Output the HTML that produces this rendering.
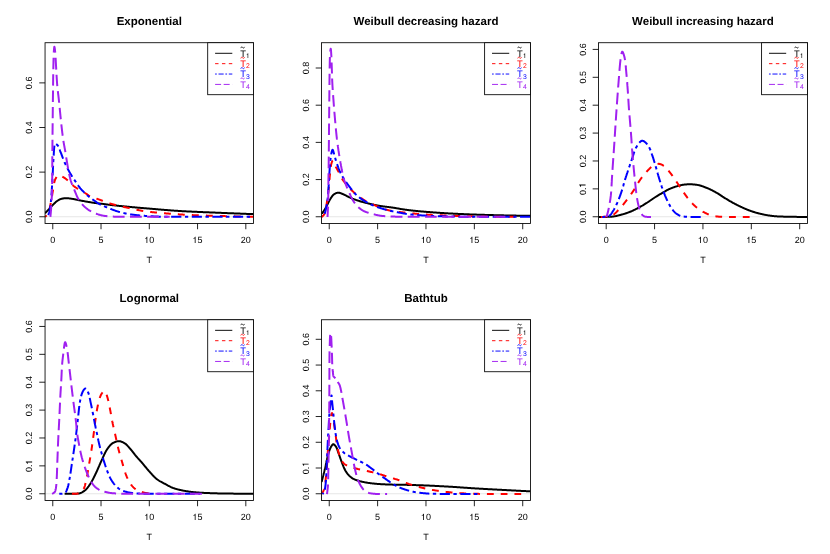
<!DOCTYPE html>
<html><head><meta charset="utf-8"><title>densities</title>
<style>html,body{margin:0;padding:0;background:#fff;}svg{display:block;will-change:transform;filter:blur(0.3px);}text{font-family:"Liberation Sans",sans-serif;fill:#000;text-rendering:geometricPrecision;}.ax{font-size:9.0px;}.tt{font-size:11.5px;font-weight:bold;}.sub{font-size:6.8px;}.lg{font-size:9.4px;}</style></head><body>
<svg width="830" height="554" viewBox="0 0 830 554">
<rect width="830" height="554" fill="#fff"/>
<g>
<clipPath id="cp1"><rect x="45.05" y="42.72" width="208.49" height="180.72"/></clipPath>
<line x1="45.05" y1="216.75" x2="253.54" y2="216.75" stroke="#e6e6e6" stroke-width="1"/>
<g clip-path="url(#cp1)" fill="none" stroke-width="2.0" stroke-linecap="butt" stroke-linejoin="round">
<path d="M45.00,213.25 L45.30,212.95 L45.61,212.64 L45.91,212.33 L46.22,212.03 L46.52,211.72 L46.82,211.41 L47.12,211.10 L47.42,210.80 L47.72,210.49 L48.02,210.18 L48.32,209.87 L48.62,209.55 L48.91,209.24 L49.21,208.93 L49.50,208.61 L49.79,208.29 L50.08,207.97 L50.37,207.65 L50.65,207.32 L50.94,207.00 L51.22,206.67 L51.51,206.35 L51.80,206.03 L52.09,205.71 L52.38,205.39 L52.67,205.08 L52.97,204.77 L53.27,204.47 L53.58,204.17 L53.89,203.87 L54.20,203.57 L54.52,203.27 L54.83,202.97 L55.15,202.67 L55.47,202.37 L55.80,202.08 L56.13,201.79 L56.46,201.51 L56.79,201.24 L57.14,200.99 L57.48,200.74 L57.84,200.51 L58.20,200.29 L58.57,200.08 L58.94,199.87 L59.33,199.66 L59.72,199.47 L60.12,199.28 L60.53,199.11 L60.93,198.96 L61.34,198.84 L61.75,198.74 L62.16,198.65 L62.58,198.57 L63.01,198.49 L63.43,198.41 L63.86,198.34 L64.30,198.28 L64.73,198.23 L65.16,198.19 L65.59,198.17 L66.02,198.15 L66.45,198.15 L66.88,198.17 L67.31,198.19 L67.74,198.22 L68.17,198.27 L68.60,198.32 L69.02,198.37 L69.45,198.43 L69.88,198.50 L70.31,198.56 L70.74,198.62 L71.16,198.69 L71.59,198.75 L72.02,198.81 L72.44,198.88 L72.87,198.95 L73.29,199.02 L73.71,199.10 L74.14,199.18 L74.56,199.26 L74.98,199.35 L75.40,199.44 L75.82,199.53 L76.25,199.62 L76.67,199.71 L77.09,199.80 L77.51,199.89 L77.93,199.99 L78.35,200.08 L78.78,200.17 L79.20,200.26 L79.62,200.34 L80.04,200.43 L80.47,200.51 L80.89,200.59 L81.31,200.66 L81.74,200.74 L82.16,200.82 L82.59,200.90 L83.01,200.97 L83.43,201.05 L83.86,201.13 L84.28,201.21 L84.71,201.28 L85.13,201.36 L85.55,201.44 L85.98,201.51 L86.40,201.59 L86.83,201.66 L87.25,201.74 L87.68,201.81 L88.10,201.89 L88.53,201.96 L88.95,202.03 L89.38,202.10 L89.80,202.17 L90.23,202.24 L90.65,202.31 L91.08,202.38 L91.50,202.45 L91.93,202.51 L92.35,202.58 L92.78,202.64 L93.21,202.71 L93.63,202.77 L94.06,202.83 L94.48,202.89 L94.91,202.95 L95.34,203.00 L95.76,203.06 L96.19,203.11 L96.62,203.17 L97.05,203.22 L97.47,203.27 L97.90,203.32 L98.33,203.37 L98.76,203.42 L99.19,203.47 L99.62,203.52 L100.04,203.57 L100.47,203.62 L100.90,203.67 L101.33,203.72 L101.76,203.77 L102.18,203.82 L102.61,203.88 L103.04,203.93 L103.47,203.98 L103.89,204.04 L104.32,204.10 L104.75,204.15 L105.17,204.21 L105.60,204.27 L106.03,204.33 L106.46,204.39 L106.88,204.45 L107.31,204.50 L107.74,204.56 L108.16,204.62 L108.59,204.67 L109.02,204.73 L109.45,204.78 L109.87,204.83 L110.30,204.89 L110.73,204.94 L111.16,204.99 L111.58,205.04 L112.01,205.09 L112.44,205.14 L112.87,205.18 L113.30,205.23 L113.72,205.28 L114.15,205.33 L114.58,205.38 L115.01,205.42 L115.44,205.47 L115.87,205.52 L116.29,205.57 L116.72,205.61 L117.15,205.66 L117.58,205.70 L118.01,205.75 L118.44,205.79 L118.86,205.84 L119.29,205.88 L119.72,205.93 L120.15,205.97 L120.58,206.02 L121.01,206.06 L121.44,206.10 L121.87,206.15 L122.29,206.19 L122.72,206.23 L123.15,206.28 L123.58,206.32 L124.01,206.36 L124.44,206.40 L124.87,206.45 L125.30,206.49 L125.72,206.53 L126.15,206.57 L126.58,206.61 L127.01,206.65 L127.44,206.70 L127.87,206.74 L128.30,206.78 L128.73,206.82 L129.16,206.86 L129.58,206.90 L130.01,206.94 L130.44,206.98 L130.87,207.02 L131.30,207.06 L131.73,207.10 L132.16,207.14 L132.59,207.18 L133.02,207.22 L133.45,207.26 L133.88,207.29 L134.30,207.33 L134.73,207.37 L135.16,207.41 L135.59,207.45 L136.02,207.49 L136.45,207.52 L136.88,207.56 L137.31,207.60 L137.74,207.63 L138.17,207.67 L138.60,207.71 L139.03,207.75 L139.46,207.78 L139.88,207.82 L140.31,207.86 L140.74,207.89 L141.17,207.93 L141.60,207.97 L142.03,208.00 L142.46,208.04 L142.89,208.07 L143.32,208.11 L143.75,208.15 L144.18,208.18 L144.61,208.22 L145.04,208.25 L145.47,208.29 L145.90,208.32 L146.33,208.36 L146.75,208.40 L147.18,208.43 L147.61,208.47 L148.04,208.50 L148.47,208.54 L148.90,208.58 L149.33,208.61 L149.76,208.65 L150.19,208.68 L150.62,208.72 L151.05,208.76 L151.48,208.79 L151.91,208.83 L152.34,208.87 L152.77,208.90 L153.20,208.94 L153.62,208.98 L154.05,209.01 L154.48,209.05 L154.91,209.09 L155.34,209.12 L155.77,209.16 L156.20,209.20 L156.63,209.23 L157.06,209.27 L157.49,209.31 L157.92,209.34 L158.35,209.38 L158.78,209.42 L159.21,209.45 L159.64,209.49 L160.07,209.52 L160.50,209.56 L160.93,209.60 L161.35,209.63 L161.78,209.67 L162.21,209.70 L162.64,209.74 L163.07,209.77 L163.50,209.81 L163.93,209.84 L164.36,209.88 L164.79,209.91 L165.22,209.95 L165.65,209.98 L166.08,210.02 L166.51,210.05 L166.94,210.09 L167.37,210.12 L167.80,210.15 L168.23,210.19 L168.66,210.22 L169.09,210.25 L169.52,210.29 L169.95,210.32 L170.38,210.35 L170.80,210.39 L171.23,210.42 L171.66,210.45 L172.09,210.48 L172.52,210.51 L172.95,210.54 L173.38,210.57 L173.81,210.61 L174.24,210.64 L174.67,210.67 L175.10,210.70 L175.53,210.73 L175.96,210.75 L176.39,210.78 L176.82,210.81 L177.25,210.84 L177.68,210.87 L178.11,210.90 L178.54,210.92 L178.97,210.95 L179.40,210.98 L179.83,211.00 L180.26,211.03 L180.69,211.06 L181.12,211.08 L181.55,211.11 L181.98,211.13 L182.41,211.16 L182.84,211.18 L183.27,211.20 L183.70,211.23 L184.13,211.25 L184.56,211.27 L184.99,211.30 L185.42,211.32 L185.85,211.34 L186.28,211.37 L186.71,211.39 L187.14,211.41 L187.57,211.43 L188.00,211.45 L188.43,211.47 L188.86,211.50 L189.29,211.52 L189.72,211.54 L190.15,211.56 L190.58,211.58 L191.01,211.60 L191.44,211.62 L191.87,211.64 L192.31,211.66 L192.74,211.68 L193.17,211.70 L193.60,211.72 L194.03,211.74 L194.46,211.76 L194.89,211.78 L195.32,211.80 L195.75,211.82 L196.18,211.84 L196.61,211.85 L197.04,211.87 L197.47,211.89 L197.90,211.91 L198.33,211.93 L198.76,211.95 L199.19,211.96 L199.62,211.98 L200.05,212.00 L200.48,212.02 L200.91,212.04 L201.35,212.05 L201.78,212.07 L202.21,212.09 L202.64,212.11 L203.07,212.13 L203.50,212.14 L203.93,212.16 L204.36,212.18 L204.79,212.20 L205.22,212.21 L205.65,212.23 L206.08,212.25 L206.51,212.27 L206.94,212.28 L207.37,212.30 L207.80,212.32 L208.23,212.33 L208.67,212.35 L209.10,212.37 L209.53,212.39 L209.96,212.40 L210.39,212.42 L210.82,212.44 L211.25,212.45 L211.68,212.47 L212.11,212.49 L212.54,212.51 L212.97,212.52 L213.40,212.54 L213.83,212.56 L214.26,212.58 L214.69,212.59 L215.12,212.61 L215.55,212.63 L215.99,212.65 L216.42,212.66 L216.85,212.68 L217.28,212.70 L217.71,212.72 L218.14,212.73 L218.57,212.75 L219.00,212.77 L219.43,212.79 L219.86,212.81 L220.29,212.82 L220.72,212.84 L221.15,212.86 L221.58,212.88 L222.01,212.90 L222.44,212.91 L222.87,212.93 L223.30,212.95 L223.73,212.97 L224.16,212.98 L224.60,213.00 L225.03,213.02 L225.46,213.04 L225.89,213.06 L226.32,213.07 L226.75,213.09 L227.18,213.11 L227.61,213.13 L228.04,213.14 L228.47,213.16 L228.90,213.18 L229.33,213.20 L229.76,213.21 L230.19,213.23 L230.62,213.25 L231.05,213.27 L231.48,213.28 L231.91,213.30 L232.34,213.32 L232.77,213.33 L233.21,213.35 L233.64,213.37 L234.07,213.39 L234.50,213.40 L234.93,213.42 L235.36,213.44 L235.79,213.45 L236.22,213.47 L236.65,213.49 L237.08,213.51 L237.51,213.52 L237.94,213.54 L238.37,213.56 L238.80,213.57 L239.23,213.59 L239.66,213.61 L240.09,213.62 L240.52,213.64 L240.96,213.66 L241.39,213.68 L241.82,213.69 L242.25,213.71 L242.68,213.73 L243.11,213.74 L243.54,213.76 L243.97,213.78 L244.40,213.79 L244.83,213.81 L245.26,213.83 L245.69,213.84 L246.12,213.86 L246.55,213.88 L246.98,213.89 L247.41,213.91 L247.84,213.92 L248.27,213.94 L248.70,213.96 L249.14,213.97 L249.57,213.99 L250.00,214.01 L250.43,214.02 L250.86,214.04 L251.29,214.06 L251.72,214.07 L252.15,214.09 L252.58,214.10 L253.01,214.12 L253.44,214.14 L253.80,214.15" stroke="#000000"/>
<path d="M45.00,216.85 L45.41,216.53 L45.82,216.19 L46.23,215.85 L46.62,215.51 L46.74,215.39 M49.53,209.30 L49.64,208.80 L49.75,208.30 L49.85,207.79 L49.96,207.28 L50.05,206.78 L50.15,206.27 L50.25,205.76 L50.34,205.25 L50.43,204.74 L50.53,204.24 L50.62,203.74 L50.72,203.24 L50.80,202.84 M51.97,196.22 L52.05,195.73 L52.13,195.23 L52.21,194.74 L52.29,194.25 L52.37,193.76 L52.45,193.27 L52.53,192.77 L52.62,192.28 L52.70,191.79 L52.79,191.30 L52.88,190.81 L52.96,190.31 L53.04,189.81 L53.05,189.73 M54.12,183.12 L54.23,182.64 L54.34,182.17 L54.46,181.70 L54.58,181.25 L54.72,180.80 L54.86,180.36 L55.02,179.92 L55.22,179.45 L55.41,179.03 L55.62,178.60 L55.85,178.17 L56.10,177.74 L56.36,177.32 L56.59,177.00 M62.36,176.59 L62.74,176.82 L63.19,177.09 L63.61,177.33 L64.03,177.59 L64.45,177.87 L64.86,178.15 L65.27,178.44 L65.67,178.74 L66.07,179.04 L66.47,179.35 L66.86,179.66 L67.25,179.97 L67.63,180.28 L67.75,180.39 M72.56,185.01 L72.92,185.34 L73.30,185.67 L73.67,185.99 L74.06,186.31 L74.45,186.61 L74.84,186.90 L75.25,187.18 L75.67,187.46 L76.09,187.73 L76.51,188.00 L76.93,188.26 L77.36,188.52 L77.78,188.79 L78.13,189.00 M84.17,192.49 L84.60,192.74 L85.03,193.00 L85.45,193.26 L85.87,193.52 L86.29,193.80 L86.70,194.09 L87.11,194.37 L87.52,194.67 L87.93,194.95 L88.35,195.24 L88.76,195.51 L89.19,195.76 L89.62,196.00 L89.91,196.15 M96.42,198.60 L96.90,198.76 L97.37,198.92 L97.85,199.08 L98.32,199.25 L98.79,199.42 L99.25,199.59 L99.72,199.76 L100.19,199.93 L100.66,200.10 L101.13,200.28 L101.59,200.45 L102.06,200.63 L102.53,200.80 L102.84,200.92 M109.49,203.29 L109.96,203.44 L110.44,203.59 L110.91,203.74 L111.38,203.88 L111.86,204.02 L112.34,204.16 L112.81,204.29 L113.29,204.43 L113.77,204.56 L114.25,204.68 L114.73,204.81 L115.21,204.93 L115.70,205.06 L116.02,205.14 M122.90,206.73 L123.38,206.84 L123.87,206.94 L124.36,207.05 L124.85,207.15 L125.33,207.26 L125.82,207.36 L126.31,207.47 L126.80,207.57 L127.28,207.67 L127.77,207.78 L128.26,207.88 L128.74,207.99 L129.23,208.10 L129.64,208.18 M136.46,209.69 L136.94,209.79 L137.43,209.90 L137.92,210.00 L138.41,210.10 L138.90,210.20 L139.38,210.30 L139.87,210.39 L140.36,210.49 L140.85,210.58 L141.34,210.67 L141.83,210.76 L142.32,210.85 L142.81,210.93 L143.22,211.00 M150.19,211.94 L150.69,212.00 L151.18,212.05 L151.68,212.11 L152.17,212.16 L152.67,212.21 L153.16,212.26 L153.66,212.32 L154.16,212.37 L154.65,212.41 L155.15,212.46 L155.64,212.51 L156.14,212.56 L156.64,212.60 L156.97,212.63 M164.00,213.23 L164.50,213.27 L164.99,213.31 L165.49,213.35 L165.99,213.39 L166.48,213.43 L166.98,213.47 L167.48,213.51 L167.97,213.55 L168.47,213.59 L168.97,213.63 L169.46,213.67 L169.96,213.70 L170.46,213.74 L170.87,213.77 M177.82,214.28 L178.32,214.31 L178.82,214.34 L179.32,214.38 L179.81,214.41 L180.31,214.44 L180.81,214.47 L181.30,214.50 L181.80,214.53 L182.30,214.57 L182.79,214.60 L183.29,214.63 L183.79,214.66 L184.29,214.68 L184.78,214.71 M191.83,215.07 L192.32,215.09 L192.82,215.11 L193.32,215.13 L193.82,215.15 L194.31,215.17 L194.81,215.19 L195.31,215.21 L195.81,215.23 L196.30,215.25 L196.80,215.27 L197.30,215.29 L197.80,215.31 L198.29,215.33 L198.79,215.35 M205.93,215.59 L206.42,215.60 L206.92,215.62 L207.42,215.63 L207.92,215.65 L208.41,215.67 L208.91,215.68 L209.41,215.69 L209.91,215.71 L210.41,215.72 L210.90,215.74 L211.40,215.75 L211.90,215.77 L212.40,215.78 L212.81,215.79 M219.86,215.99 L220.36,216.00 L220.86,216.01 L221.36,216.03 L221.86,216.04 L222.35,216.05 L222.85,216.07 L223.35,216.08 L223.85,216.09 L224.34,216.11 L224.84,216.12 L225.34,216.13 L225.84,216.14 L226.34,216.16 L226.83,216.17 M233.89,216.34 L234.38,216.36 L234.88,216.37 L235.38,216.38 L235.88,216.39 L236.37,216.40 L236.87,216.41 L237.37,216.42 L237.87,216.44 L238.37,216.45 L238.86,216.46 L239.36,216.47 L239.86,216.48 L240.36,216.49 L240.69,216.50 M247.66,216.64 L248.16,216.65 L248.66,216.66 L249.15,216.67 L249.65,216.68 L250.15,216.69 L250.65,216.70 L251.14,216.70 L251.64,216.71 L252.14,216.72 L252.64,216.73 L253.14,216.74 L253.63,216.75 L253.80,216.75" stroke="#FF0000"/>
<path d="M48.31,215.10 L48.47,214.61 L48.63,214.12 L48.79,213.63 L48.94,213.14 L49.08,212.65 L49.22,212.16 L49.35,211.66 L49.48,211.17 L49.59,210.67 L49.70,210.17 L49.80,209.68 L49.90,209.18 L49.98,208.68 L50.06,208.18 L50.14,207.67 L50.22,207.17 L50.29,206.67 L50.36,206.16 L50.43,205.65 L50.46,205.45 M50.86,201.99 L50.91,201.48 L50.96,200.96 L51.01,200.45 L51.06,199.94 L51.11,199.43 L51.15,198.92 L51.16,198.82 M51.43,195.36 L51.47,194.85 L51.51,194.34 L51.54,193.83 L51.57,193.32 L51.61,192.80 L51.64,192.29 L51.67,191.78 L51.70,191.27 L51.73,190.76 L51.76,190.25 L51.79,189.74 L51.82,189.23 L51.85,188.72 L51.88,188.21 L51.91,187.70 L51.94,187.19 L51.97,186.68 L52.01,186.17 L52.04,185.66 L52.04,185.55 M52.24,182.08 L52.27,181.57 L52.30,181.06 L52.33,180.55 L52.36,180.04 L52.38,179.53 L52.41,179.02 L52.42,178.91 M52.60,175.44 L52.63,174.93 L52.66,174.42 L52.68,173.91 L52.71,173.40 L52.74,172.89 L52.77,172.38 L52.79,171.87 L52.82,171.36 L52.85,170.84 L52.87,170.33 L52.90,169.82 L52.92,169.31 L52.95,168.80 L52.97,168.29 L53.00,167.78 L53.02,167.27 L53.04,166.76 L53.06,166.24 L53.09,165.73 L53.09,165.63 M53.26,162.15 L53.28,161.64 L53.31,161.13 L53.34,160.62 L53.37,160.11 L53.40,159.60 L53.43,159.09 L53.43,158.99 M53.67,155.57 L53.70,155.10 L53.73,154.61 L53.75,154.11 L53.78,153.60 L53.81,153.08 L53.84,152.54 L53.87,152.01 L53.91,151.47 L53.94,150.93 L53.97,150.39 L54.01,149.85 L54.05,149.32 L54.09,148.80 L54.13,148.29 L54.17,147.79 L54.22,147.31 L54.27,146.85 L54.32,146.40 L54.39,145.88 L54.42,145.69 M56.16,144.10 L56.56,144.39 L56.96,144.72 L57.35,145.05 L57.68,145.39 L57.99,145.77 L58.24,146.16 L58.39,146.41 M59.68,149.54 L59.85,150.05 L60.02,150.55 L60.19,151.06 L60.37,151.55 L60.55,152.03 L60.74,152.51 L60.93,152.98 L61.12,153.46 L61.31,153.94 L61.49,154.41 L61.67,154.89 L61.85,155.37 L62.04,155.85 L62.22,156.33 L62.40,156.81 L62.58,157.29 L62.76,157.77 L62.94,158.25 L63.13,158.72 L63.16,158.82 M64.46,162.04 L64.66,162.51 L64.87,162.98 L65.08,163.44 L65.29,163.91 L65.50,164.37 L65.72,164.83 L65.81,165.02 M67.35,168.14 L67.59,168.60 L67.83,169.05 L68.07,169.50 L68.31,169.95 L68.55,170.40 L68.80,170.85 L69.05,171.30 L69.30,171.74 L69.55,172.19 L69.80,172.63 L70.06,173.07 L70.32,173.51 L70.58,173.95 L70.84,174.39 L71.11,174.82 L71.38,175.26 L71.65,175.69 L71.92,176.13 L72.20,176.56 L72.31,176.73 M74.22,179.65 L74.50,180.07 L74.79,180.50 L75.07,180.92 L75.36,181.34 L75.65,181.77 L75.93,182.19 L75.99,182.27 M77.96,185.16 L78.26,185.57 L78.55,185.99 L78.86,186.40 L79.16,186.81 L79.47,187.22 L79.78,187.62 L80.10,188.02 L80.42,188.42 L80.75,188.81 L81.08,189.19 L81.42,189.57 L81.77,189.94 L82.13,190.31 L82.49,190.68 L82.85,191.04 L83.22,191.40 L83.58,191.76 L83.95,192.11 L84.32,192.47 L84.54,192.68 M87.08,195.07 L87.46,195.41 L87.85,195.74 L88.23,196.08 L88.62,196.40 L89.02,196.73 L89.41,197.05 L89.57,197.17 M92.37,199.25 L92.78,199.55 L93.20,199.85 L93.62,200.14 L94.04,200.44 L94.46,200.73 L94.87,201.03 L95.29,201.33 L95.71,201.62 L96.13,201.92 L96.55,202.22 L96.97,202.51 L97.39,202.80 L97.82,203.08 L98.25,203.36 L98.69,203.63 L99.12,203.88 L99.57,204.13 L100.01,204.37 L100.46,204.60 L100.83,204.78 M104.01,206.20 L104.48,206.40 L104.96,206.59 L105.43,206.79 L105.91,206.98 L106.38,207.18 L106.86,207.37 L107.14,207.49 M110.36,208.81 L110.83,209.00 L111.31,209.19 L111.79,209.37 L112.27,209.56 L112.74,209.74 L113.22,209.92 L113.70,210.09 L114.18,210.26 L114.67,210.43 L115.15,210.60 L115.63,210.77 L116.12,210.93 L116.60,211.09 L117.09,211.26 L117.58,211.41 L118.06,211.57 L118.55,211.72 L119.04,211.87 L119.53,212.01 L119.93,212.12 M123.40,212.98 L123.90,213.10 L124.40,213.21 L124.90,213.32 L125.40,213.43 L125.90,213.54 L126.40,213.64 L126.60,213.68 M130.13,214.32 L130.64,214.40 L131.14,214.47 L131.65,214.54 L132.15,214.61 L132.66,214.67 L133.16,214.74 L133.67,214.80 L134.18,214.86 L134.68,214.92 L135.19,214.98 L135.70,215.04 L136.21,215.10 L136.72,215.15 L137.23,215.21 L137.74,215.26 L138.24,215.31 L138.75,215.36 L139.26,215.41 L139.77,215.46 L140.18,215.49 M143.76,215.79 L144.27,215.82 L144.78,215.86 L145.29,215.89 L145.80,215.92 L146.31,215.96 L146.82,215.99 L147.12,216.01 M150.59,216.22 L151.11,216.25 L151.62,216.28 L152.13,216.31 L152.64,216.34 L153.15,216.37 L153.66,216.40 L154.17,216.43 L154.68,216.46 L155.19,216.48 L155.70,216.51 L156.22,216.53 L156.73,216.56 L157.24,216.58 L157.75,216.60 L158.26,216.62 L158.77,216.64 L159.28,216.66 L159.79,216.67 L160.31,216.69 L160.82,216.70 M164.29,216.75 L164.80,216.75 L165.32,216.75 L165.83,216.75 L166.34,216.76 L166.85,216.76 L167.36,216.76 L167.67,216.76 M171.14,216.77 L171.65,216.77 L172.17,216.77 L172.68,216.77 L173.19,216.77 L173.70,216.77 L174.21,216.78 L174.72,216.78 L175.23,216.78 L175.74,216.78 L176.26,216.78 L176.77,216.78 L177.28,216.78 L177.79,216.78 L178.30,216.78 L178.81,216.79 L179.32,216.79 L179.83,216.79 L180.35,216.79 L180.86,216.79 L181.37,216.79 M184.95,216.80 L185.46,216.80 L185.97,216.80 L186.48,216.80 L186.99,216.80 L187.50,216.80 L188.01,216.80 L188.22,216.80 M191.80,216.81 L192.31,216.81 L192.82,216.81 L193.33,216.81 L193.84,216.81 L194.35,216.81 L194.87,216.81 L195.38,216.81 L195.89,216.82 L196.40,216.82 L196.91,216.82 L197.42,216.82 L197.93,216.82 L198.44,216.82 L198.96,216.82 L199.47,216.82 L199.98,216.82 L200.49,216.82 L201.00,216.82 L201.51,216.82 L201.92,216.82 M205.50,216.83 L206.01,216.83 L206.52,216.83 L207.04,216.83 L207.55,216.83 L208.06,216.83 L208.57,216.83 L208.88,216.83 M212.36,216.83 L212.87,216.83 L213.38,216.83 L213.89,216.84 L214.40,216.84 L214.91,216.84 L215.42,216.84 L215.94,216.84 L216.45,216.84 L216.96,216.84 L217.47,216.84 L217.98,216.84 L218.49,216.84 L219.00,216.84 L219.52,216.84 L220.03,216.84 L220.54,216.84 L221.05,216.84 L221.56,216.84 L222.07,216.84 L222.59,216.84 M226.06,216.84 L226.58,216.84 L227.09,216.84 L227.60,216.84 L228.11,216.84 L228.62,216.84 L229.13,216.85 L229.44,216.85 M232.92,216.85 L233.43,216.85 L233.94,216.85 L234.45,216.85 L234.97,216.85 L235.48,216.85 L235.99,216.85 L236.50,216.85 L237.01,216.85 L237.53,216.85 L238.04,216.85 L238.55,216.85 L239.06,216.85 L239.57,216.85 L240.08,216.85 L240.60,216.85 L241.11,216.85 L241.62,216.85 L242.13,216.85 L242.64,216.85 L243.15,216.85 M246.63,216.85 L247.15,216.85 L247.66,216.85 L248.17,216.85 L248.68,216.85 L249.19,216.85 L249.71,216.85 L250.01,216.85 M253.60,216.85 L253.80,216.85" stroke="#0000FF"/>
<path d="M50.40,216.85 L50.45,216.29 L50.51,215.73 L50.56,215.17 L50.61,214.61 L50.67,214.04 L50.72,213.48 L50.77,212.92 L50.82,212.36 L50.86,211.80 L50.91,211.24 L50.96,210.68 L51.00,210.11 L51.05,209.55 L51.09,208.99 L51.13,208.43 L51.17,207.87 L51.20,207.30 L51.24,206.74 L51.28,206.18 L51.31,205.62 L51.32,205.48 M51.61,200.41 L51.64,199.85 L51.67,199.29 L51.70,198.73 L51.73,198.16 L51.75,197.60 L51.78,197.04 L51.80,196.47 L51.82,195.91 L51.85,195.35 L51.87,194.78 L51.88,194.22 L51.90,193.66 L51.92,193.10 L51.94,192.53 L51.95,191.97 L51.97,191.41 L51.99,190.84 L52.00,190.28 L52.02,189.72 L52.03,189.15 L52.04,189.01 M52.15,183.94 L52.16,183.38 L52.17,182.81 L52.18,182.25 L52.18,181.69 L52.19,181.12 L52.20,180.56 L52.20,180.00 L52.21,179.43 L52.21,178.87 L52.22,178.31 L52.22,177.74 L52.22,177.18 L52.23,176.62 L52.23,176.05 L52.23,175.49 L52.24,174.93 L52.24,174.36 L52.24,173.80 L52.24,173.24 L52.25,172.67 M52.27,167.60 L52.27,167.04 L52.27,166.47 L52.27,165.91 L52.27,165.35 L52.28,164.78 L52.28,164.22 L52.28,163.66 L52.28,163.09 L52.29,162.53 L52.29,161.97 L52.29,161.40 L52.30,160.84 L52.30,160.28 L52.30,159.71 L52.31,159.15 L52.31,158.59 L52.31,158.02 L52.32,157.46 L52.32,156.89 L52.33,156.33 L52.33,156.19 M52.37,151.12 L52.37,150.56 L52.38,149.99 L52.38,149.43 L52.39,148.87 L52.39,148.30 L52.40,147.74 L52.40,147.17 L52.41,146.61 L52.41,146.05 L52.42,145.48 L52.42,144.92 L52.43,144.36 L52.43,143.79 L52.44,143.23 L52.45,142.67 L52.45,142.10 L52.46,141.54 L52.46,140.98 L52.47,140.41 L52.47,139.85 M52.52,134.78 L52.53,134.22 L52.54,133.65 L52.54,133.09 L52.55,132.53 L52.55,131.96 L52.56,131.40 L52.56,130.83 L52.57,130.27 L52.58,129.71 L52.58,129.14 L52.59,128.58 L52.59,128.02 L52.60,127.45 L52.60,126.89 L52.61,126.33 L52.62,125.76 L52.62,125.20 L52.63,124.64 L52.63,124.07 L52.64,123.51 L52.64,123.37 M52.69,118.30 L52.70,117.73 L52.71,117.17 L52.71,116.61 L52.72,116.04 L52.73,115.48 L52.73,114.92 L52.74,114.35 L52.74,113.79 L52.75,113.23 L52.76,112.66 L52.76,112.10 L52.77,111.54 L52.78,110.97 L52.78,110.41 L52.79,109.85 L52.80,109.28 L52.80,108.72 L52.81,108.16 L52.82,107.59 L52.82,107.03 M52.88,101.96 L52.89,101.39 L52.89,100.83 L52.90,100.27 L52.91,99.70 L52.91,99.14 L52.92,98.58 L52.93,98.01 L52.93,97.45 L52.94,96.89 L52.94,96.32 L52.95,95.76 L52.96,95.20 L52.96,94.63 L52.97,94.07 L52.98,93.51 L52.98,92.94 L52.99,92.38 L52.99,91.82 L53.00,91.25 L53.01,90.69 L53.01,90.55 M53.07,85.62 L53.08,85.05 L53.08,84.49 L53.09,83.93 L53.10,83.36 L53.11,82.80 L53.11,82.24 L53.12,81.67 L53.13,81.11 L53.14,80.55 L53.15,79.98 L53.15,79.42 L53.16,78.86 L53.17,78.29 L53.18,77.73 L53.19,77.17 L53.19,76.60 L53.20,76.04 L53.21,75.48 L53.22,74.91 L53.23,74.35 M53.32,69.28 L53.33,68.72 L53.34,68.15 L53.35,67.59 L53.36,67.03 L53.37,66.46 L53.39,65.90 L53.40,65.34 L53.41,64.77 L53.42,64.21 L53.43,63.65 L53.45,63.08 L53.46,62.52 L53.47,61.95 L53.48,61.39 L53.50,60.83 L53.51,60.26 L53.53,59.70 L53.54,59.14 L53.56,58.57 L53.57,58.01 L53.58,57.73 M53.79,52.52 L53.82,51.95 L53.85,51.46 L53.88,50.93 L53.92,50.39 L53.96,49.83 L54.01,49.27 L54.06,48.74 L54.11,48.24 L54.16,47.78 L54.23,47.28 L54.34,46.82 L54.55,47.14 L54.64,47.58 L54.73,48.16 L54.80,48.65 L54.87,49.18 L54.94,49.73 L55.00,50.28 L55.06,50.83 L55.11,51.36 L55.16,51.85 L55.20,52.30 L55.23,52.58 M55.60,57.77 L55.63,58.33 L55.66,58.90 L55.69,59.46 L55.72,60.02 L55.75,60.59 L55.78,61.15 L55.80,61.71 L55.83,62.28 L55.86,62.84 L55.89,63.40 L55.93,63.97 L55.96,64.53 L55.99,65.09 L56.02,65.65 L56.06,66.22 L56.09,66.78 L56.12,67.34 L56.15,67.91 L56.19,68.47 L56.22,69.03 L56.25,69.59 M56.53,74.80 L56.56,75.36 L56.59,75.92 L56.63,76.49 L56.66,77.05 L56.69,77.61 L56.73,78.18 L56.76,78.74 L56.80,79.30 L56.83,79.86 L56.87,80.42 L56.91,80.99 L56.95,81.55 L56.99,82.11 L57.03,82.67 L57.07,83.23 L57.11,83.79 L57.16,84.36 L57.20,84.92 L57.25,85.48 L57.31,86.04 L57.32,86.18 M57.86,91.22 L57.92,91.78 L57.99,92.34 L58.05,92.90 L58.12,93.46 L58.19,94.02 L58.25,94.58 L58.32,95.14 L58.39,95.70 L58.45,96.26 L58.52,96.82 L58.58,97.38 L58.65,97.94 L58.71,98.50 L58.77,99.06 L58.83,99.62 L58.89,100.18 L58.95,100.74 L59.01,101.30 L59.07,101.86 L59.13,102.42 L59.15,102.70 M59.67,107.89 L59.73,108.45 L59.78,109.01 L59.84,109.57 L59.89,110.13 L59.95,110.69 L60.00,111.25 L60.06,111.81 L60.11,112.38 L60.17,112.94 L60.22,113.50 L60.28,114.06 L60.33,114.62 L60.39,115.18 L60.44,115.74 L60.50,116.30 L60.56,116.86 L60.61,117.42 L60.67,117.98 L60.72,118.54 L60.78,119.10 L60.80,119.24 M61.34,124.43 L61.40,124.99 L61.46,125.55 L61.53,126.11 L61.59,126.67 L61.65,127.23 L61.72,127.79 L61.78,128.35 L61.84,128.91 L61.91,129.47 L61.97,130.03 L62.04,130.59 L62.11,131.15 L62.17,131.71 L62.24,132.26 L62.31,132.82 L62.38,133.38 L62.45,133.94 L62.52,134.50 L62.59,135.06 L62.66,135.62 L62.68,135.76 M63.40,140.92 L63.49,141.48 L63.58,142.03 L63.67,142.59 L63.77,143.14 L63.87,143.70 L63.97,144.25 L64.07,144.81 L64.17,145.36 L64.27,145.92 L64.38,146.47 L64.48,147.02 L64.58,147.58 L64.68,148.13 L64.78,148.69 L64.89,149.24 L64.98,149.80 L65.08,150.35 L65.18,150.91 L65.27,151.46 L65.36,152.02 L65.38,152.16 M66.20,157.31 L66.29,157.86 L66.38,158.42 L66.47,158.97 L66.56,159.53 L66.66,160.09 L66.75,160.64 L66.84,161.20 L66.93,161.75 L67.02,162.31 L67.12,162.87 L67.21,163.42 L67.30,163.98 L67.39,164.53 L67.49,165.09 L67.58,165.65 L67.68,166.20 L67.77,166.76 L67.87,167.31 L67.97,167.87 L68.07,168.42 L68.12,168.70 M69.09,173.68 L69.21,174.23 L69.33,174.78 L69.45,175.33 L69.57,175.89 L69.69,176.44 L69.82,176.99 L69.95,177.54 L70.08,178.08 L70.22,178.63 L70.36,179.17 L70.51,179.72 L70.66,180.26 L70.81,180.79 L70.98,181.33 L71.15,181.86 L71.33,182.40 L71.52,182.93 L71.71,183.45 L71.91,183.98 L72.12,184.51 L72.22,184.77 M74.18,189.46 L74.40,189.98 L74.61,190.51 L74.82,191.03 L75.03,191.56 L75.24,192.08 L75.45,192.61 L75.66,193.14 L75.87,193.66 L76.09,194.19 L76.31,194.71 L76.53,195.23 L76.76,195.74 L76.99,196.25 L77.24,196.76 L77.48,197.26 L77.74,197.75 L78.00,198.24 L78.28,198.73 L78.56,199.21 L78.85,199.70 L79.00,199.94 M82.09,204.18 L82.45,204.59 L82.82,205.00 L83.20,205.41 L83.60,205.81 L84.00,206.21 L84.41,206.60 L84.83,206.99 L85.26,207.37 L85.69,207.74 L86.13,208.10 L86.58,208.46 L87.03,208.81 L87.48,209.15 L87.94,209.47 L88.40,209.79 L88.86,210.09 L89.33,210.39 L89.81,210.68 L90.29,210.97 L90.78,211.25 L91.16,211.46 M95.92,213.62 L96.45,213.80 L96.98,213.98 L97.51,214.16 L98.05,214.33 L98.59,214.51 L99.13,214.67 L99.68,214.83 L100.22,214.99 L100.77,215.13 L101.32,215.27 L101.88,215.41 L102.43,215.53 L102.98,215.64 L103.54,215.74 L104.09,215.83 L104.65,215.91 L105.20,215.97 L105.76,216.03 L106.32,216.09 L106.87,216.15 L107.43,216.21 M112.79,216.59 L113.35,216.61 L113.92,216.63 L114.48,216.64 L115.04,216.65 L115.61,216.66 L116.17,216.66 L116.73,216.66 L117.29,216.67 L117.86,216.67 L118.42,216.68 L118.98,216.68 L119.54,216.69 L120.11,216.69 L120.67,216.70 L121.23,216.70 L121.80,216.70 L122.36,216.71 L122.92,216.71 L123.48,216.72 L124.05,216.72 L124.61,216.72 M129.96,216.76 L130.52,216.76 L131.08,216.76 L131.65,216.77 L132.21,216.77 L132.77,216.77 L133.34,216.77 L133.90,216.78 L134.46,216.78 L135.02,216.78 L135.59,216.78 L136.15,216.79 L136.71,216.79 L137.28,216.79 L137.84,216.79 L138.40,216.80 L138.97,216.80 L139.53,216.80 L140.09,216.80 L140.66,216.80 L141.22,216.81 L141.78,216.81 M147.14,216.82 L147.70,216.83 L148.26,216.83 L148.83,216.83 L149.39,216.83 L149.95,216.83 L150.52,216.83 L151.08,216.83 L151.65,216.83 L152.21,216.84 L152.77,216.84 L153.34,216.84 L153.90,216.84 L154.47,216.84 L155.03,216.84 L155.59,216.84 L156.16,216.84 L156.72,216.84 L157.29,216.84 L157.85,216.84 L158.41,216.84 L158.98,216.84 M164.20,216.85 L164.76,216.85 L165.32,216.85 L165.89,216.85 L166.45,216.85 L167.02,216.85 L167.58,216.85 L168.15,216.85 L168.71,216.85 L169.28,216.85 L169.70,216.85" stroke="#A020F0"/>
</g>
<rect x="45.05" y="42.72" width="208.49" height="180.72" fill="none" stroke="#000" stroke-width="0.86"/>
<g transform="translate(52.77,243.04)"><text class="ax" x="-2.50" y="0">0</text></g>
<g transform="translate(101.03,243.04)"><text class="ax" x="-2.50" y="0">5</text></g>
<g transform="translate(149.30,243.04)"><path d="M-2.80,0.00L-2.80,-4.54L-4.28,-4.54L-4.28,-5.08C-3.47,-5.08 -2.75,-5.40 -2.53,-6.33L-1.99,-6.33L-1.99,0.00Z" fill="#000" stroke="none"/><text class="ax" x="0.00" y="0">0</text></g>
<g transform="translate(197.56,243.04)"><path d="M-2.80,0.00L-2.80,-4.54L-4.28,-4.54L-4.28,-5.08C-3.47,-5.08 -2.75,-5.40 -2.53,-6.33L-1.99,-6.33L-1.99,0.00Z" fill="#000" stroke="none"/><text class="ax" x="0.00" y="0">5</text></g>
<g transform="translate(245.82,243.04)"><text class="ax" x="-5.00" y="0">20</text></g>
<g transform="translate(32.15,216.75) rotate(-90)"><text class="ax" x="-6.26" y="0">0.0</text></g>
<g transform="translate(32.15,172.12) rotate(-90)"><text class="ax" x="-6.26" y="0">0.2</text></g>
<g transform="translate(32.15,127.50) rotate(-90)"><text class="ax" x="-6.26" y="0">0.4</text></g>
<g transform="translate(32.15,82.88) rotate(-90)"><text class="ax" x="-6.26" y="0">0.6</text></g>
<path d="M52.77,223.44v5.8 M101.03,223.44v5.8 M149.30,223.44v5.8 M197.56,223.44v5.8 M245.82,223.44v5.8 M45.05,216.75h-5.8 M45.05,172.12h-5.8 M45.05,127.50h-5.8 M45.05,82.88h-5.8" stroke="#000" stroke-width="0.86" fill="none"/>
<text class="ax" x="149.29" y="263.10" text-anchor="middle">T</text>
<text class="tt" x="149.29" y="25" text-anchor="middle">Exponential</text>
<rect x="207.70" y="42.72" width="45.84" height="51.98" fill="#fff" stroke="#000" stroke-width="0.86"/>
<line x1="215.10" y1="53.30" x2="232.30" y2="53.30" stroke="#000000" stroke-width="0.95"/>
<text class="lg" x="240.15" y="56.70" style="fill:#000000">T</text>
<path d="M247.61,58.00L247.61,54.57L246.48,54.57L246.48,54.16C247.10,54.16 247.64,53.92 247.81,53.22L248.22,53.22L248.22,58.00Z" fill="#000000" stroke="none"/>
<path d="M240.74,48.10 c0.45,-1.4 1.3,-1.4 1.9,-0.6 s1.45,0.8 1.9,-0.6" fill="none" stroke="#000000" stroke-width="0.8"/>
<line x1="215.10" y1="63.67" x2="232.30" y2="63.67" stroke="#FF0000" stroke-width="0.95" stroke-dasharray="3.43 3.43"/>
<text class="lg" x="240.15" y="67.00" style="fill:#FF0000">T</text>
<text class="sub" x="246.00" y="68.30" style="fill:#FF0000">2</text>
<path d="M240.74,58.40 c0.45,-1.4 1.3,-1.4 1.9,-0.6 s1.45,0.8 1.9,-0.6" fill="none" stroke="#FF0000" stroke-width="0.8"/>
<line x1="215.10" y1="74.04" x2="232.30" y2="74.04" stroke="#0000FF" stroke-width="0.95" stroke-dasharray="1.71 1.71 5.14 1.71"/>
<text class="lg" x="240.15" y="77.30" style="fill:#0000FF">T</text>
<text class="sub" x="246.00" y="78.60" style="fill:#0000FF">3</text>
<path d="M240.74,68.70 c0.45,-1.4 1.3,-1.4 1.9,-0.6 s1.45,0.8 1.9,-0.6" fill="none" stroke="#0000FF" stroke-width="0.8"/>
<line x1="215.10" y1="84.41" x2="232.30" y2="84.41" stroke="#A020F0" stroke-width="0.95" stroke-dasharray="6.00 2.57"/>
<text class="lg" x="240.15" y="87.60" style="fill:#A020F0">T</text>
<text class="sub" x="246.00" y="88.90" style="fill:#A020F0">4</text>
<path d="M240.74,79.00 c0.45,-1.4 1.3,-1.4 1.9,-0.6 s1.45,0.8 1.9,-0.6" fill="none" stroke="#A020F0" stroke-width="0.8"/>
</g>
<g>
<clipPath id="cp2"><rect x="321.5" y="42.72" width="208.96000000000004" height="180.72"/></clipPath>
<line x1="321.5" y1="216.75" x2="530.46" y2="216.75" stroke="#e6e6e6" stroke-width="1"/>
<g clip-path="url(#cp2)" fill="none" stroke-width="2.0" stroke-linecap="butt" stroke-linejoin="round">
<path d="M321.70,213.75 L321.97,213.39 L322.24,213.04 L322.51,212.68 L322.77,212.32 L323.03,211.95 L323.29,211.59 L323.55,211.22 L323.81,210.86 L324.06,210.49 L324.31,210.12 L324.55,209.75 L324.80,209.37 L325.03,209.00 L325.27,208.62 L325.50,208.25 L325.73,207.87 L325.96,207.48 L326.17,207.10 L326.38,206.70 L326.59,206.31 L326.79,205.91 L326.99,205.50 L327.18,205.10 L327.37,204.69 L327.56,204.28 L327.75,203.88 L327.94,203.47 L328.13,203.06 L328.32,202.65 L328.51,202.25 L328.70,201.84 L328.90,201.45 L329.10,201.05 L329.31,200.66 L329.52,200.27 L329.74,199.89 L329.97,199.51 L330.21,199.14 L330.45,198.77 L330.69,198.38 L330.94,197.99 L331.20,197.60 L331.46,197.21 L331.73,196.82 L332.00,196.43 L332.28,196.06 L332.56,195.70 L332.86,195.35 L333.16,195.02 L333.47,194.72 L333.79,194.44 L334.12,194.19 L334.46,193.97 L334.82,193.77 L335.21,193.57 L335.62,193.37 L336.04,193.19 L336.48,193.02 L336.93,192.87 L337.37,192.76 L337.82,192.68 L338.25,192.65 L338.67,192.67 L339.10,192.72 L339.52,192.81 L339.95,192.93 L340.38,193.07 L340.81,193.23 L341.23,193.41 L341.66,193.59 L342.08,193.78 L342.50,193.96 L342.92,194.14 L343.33,194.30 L343.74,194.47 L344.14,194.65 L344.55,194.84 L344.95,195.03 L345.35,195.23 L345.74,195.44 L346.14,195.65 L346.53,195.86 L346.93,196.07 L347.32,196.28 L347.72,196.49 L348.12,196.70 L348.51,196.90 L348.92,197.09 L349.32,197.28 L349.72,197.46 L350.13,197.64 L350.54,197.81 L350.95,197.98 L351.36,198.15 L351.78,198.32 L352.19,198.49 L352.60,198.66 L353.02,198.82 L353.44,198.99 L353.85,199.15 L354.27,199.31 L354.69,199.47 L355.11,199.62 L355.53,199.77 L355.95,199.92 L356.37,200.07 L356.79,200.22 L357.21,200.36 L357.63,200.50 L358.06,200.64 L358.48,200.78 L358.90,200.91 L359.33,201.04 L359.75,201.17 L360.18,201.30 L360.61,201.42 L361.03,201.55 L361.46,201.67 L361.89,201.79 L362.32,201.91 L362.75,202.03 L363.18,202.14 L363.61,202.26 L364.05,202.37 L364.48,202.49 L364.91,202.60 L365.34,202.71 L365.78,202.82 L366.21,202.93 L366.64,203.03 L367.08,203.14 L367.51,203.25 L367.94,203.35 L368.38,203.45 L368.81,203.56 L369.24,203.66 L369.68,203.76 L370.11,203.87 L370.54,203.97 L370.98,204.07 L371.41,204.17 L371.85,204.27 L372.28,204.37 L372.72,204.47 L373.15,204.57 L373.59,204.67 L374.02,204.77 L374.46,204.86 L374.90,204.96 L375.33,205.05 L375.77,205.14 L376.21,205.23 L376.64,205.32 L377.08,205.41 L377.52,205.49 L377.96,205.58 L378.39,205.66 L378.83,205.74 L379.27,205.81 L379.71,205.89 L380.15,205.96 L380.59,206.03 L381.03,206.09 L381.47,206.16 L381.91,206.22 L382.35,206.28 L382.79,206.34 L383.23,206.40 L383.68,206.45 L384.12,206.51 L384.56,206.56 L385.00,206.62 L385.45,206.67 L385.89,206.72 L386.33,206.77 L386.78,206.83 L387.22,206.88 L387.66,206.93 L388.10,206.99 L388.55,207.04 L388.99,207.10 L389.43,207.15 L389.87,207.21 L390.32,207.27 L390.76,207.33 L391.20,207.39 L391.64,207.46 L392.08,207.52 L392.52,207.59 L392.96,207.66 L393.40,207.72 L393.84,207.79 L394.28,207.86 L394.72,207.94 L395.16,208.01 L395.60,208.08 L396.04,208.15 L396.48,208.23 L396.92,208.30 L397.36,208.38 L397.80,208.45 L398.24,208.53 L398.68,208.60 L399.12,208.68 L399.56,208.75 L400.00,208.83 L400.44,208.90 L400.88,208.97 L401.32,209.05 L401.76,209.12 L402.20,209.19 L402.64,209.26 L403.08,209.33 L403.52,209.40 L403.96,209.47 L404.40,209.54 L404.84,209.61 L405.28,209.67 L405.72,209.73 L406.17,209.80 L406.61,209.86 L407.05,209.92 L407.49,209.97 L407.93,210.03 L408.37,210.08 L408.82,210.14 L409.26,210.19 L409.70,210.24 L410.14,210.29 L410.58,210.34 L411.03,210.40 L411.47,210.45 L411.91,210.49 L412.36,210.54 L412.80,210.59 L413.24,210.64 L413.69,210.69 L414.13,210.74 L414.57,210.78 L415.02,210.83 L415.46,210.87 L415.90,210.92 L416.35,210.96 L416.79,211.01 L417.23,211.05 L417.68,211.10 L418.12,211.14 L418.57,211.18 L419.01,211.22 L419.45,211.26 L419.90,211.31 L420.34,211.35 L420.79,211.39 L421.23,211.43 L421.67,211.47 L422.12,211.51 L422.56,211.54 L423.01,211.58 L423.45,211.62 L423.90,211.66 L424.34,211.70 L424.78,211.73 L425.23,211.77 L425.67,211.81 L426.12,211.84 L426.56,211.88 L427.01,211.91 L427.45,211.95 L427.89,211.99 L428.34,212.02 L428.78,212.06 L429.23,212.09 L429.67,212.12 L430.12,212.16 L430.56,212.19 L431.00,212.23 L431.45,212.26 L431.89,212.29 L432.34,212.33 L432.78,212.36 L433.23,212.39 L433.67,212.43 L434.12,212.46 L434.56,212.49 L435.01,212.52 L435.45,212.56 L435.89,212.59 L436.34,212.62 L436.78,212.65 L437.23,212.68 L437.67,212.71 L438.12,212.74 L438.56,212.77 L439.01,212.80 L439.45,212.83 L439.90,212.86 L440.34,212.89 L440.79,212.92 L441.23,212.95 L441.68,212.98 L442.12,213.01 L442.57,213.04 L443.01,213.06 L443.46,213.09 L443.90,213.12 L444.35,213.15 L444.79,213.18 L445.24,213.20 L445.68,213.23 L446.13,213.26 L446.57,213.28 L447.02,213.31 L447.46,213.33 L447.91,213.36 L448.35,213.38 L448.80,213.41 L449.24,213.43 L449.69,213.46 L450.13,213.48 L450.58,213.51 L451.02,213.53 L451.47,213.56 L451.91,213.58 L452.36,213.60 L452.80,213.62 L453.25,213.65 L453.69,213.67 L454.14,213.69 L454.58,213.71 L455.03,213.74 L455.47,213.76 L455.92,213.78 L456.36,213.80 L456.81,213.82 L457.25,213.84 L457.70,213.86 L458.14,213.89 L458.59,213.91 L459.04,213.93 L459.48,213.95 L459.93,213.97 L460.37,213.99 L460.82,214.01 L461.26,214.03 L461.71,214.05 L462.15,214.07 L462.60,214.09 L463.04,214.10 L463.49,214.12 L463.93,214.14 L464.38,214.16 L464.82,214.18 L465.27,214.20 L465.72,214.22 L466.16,214.24 L466.61,214.25 L467.05,214.27 L467.50,214.29 L467.94,214.31 L468.39,214.33 L468.83,214.34 L469.28,214.36 L469.72,214.38 L470.17,214.39 L470.62,214.41 L471.06,214.43 L471.51,214.44 L471.95,214.46 L472.40,214.48 L472.84,214.49 L473.29,214.51 L473.73,214.53 L474.18,214.54 L474.62,214.56 L475.07,214.57 L475.52,214.59 L475.96,214.60 L476.41,214.62 L476.85,214.63 L477.30,214.65 L477.74,214.66 L478.19,214.68 L478.63,214.69 L479.08,214.71 L479.53,214.72 L479.97,214.74 L480.42,214.75 L480.86,214.76 L481.31,214.78 L481.75,214.79 L482.20,214.81 L482.64,214.82 L483.09,214.83 L483.54,214.85 L483.98,214.86 L484.43,214.87 L484.87,214.89 L485.32,214.90 L485.76,214.91 L486.21,214.93 L486.65,214.94 L487.10,214.95 L487.55,214.96 L487.99,214.98 L488.44,214.99 L488.88,215.00 L489.33,215.01 L489.77,215.03 L490.22,215.04 L490.66,215.05 L491.11,215.06 L491.56,215.07 L492.00,215.09 L492.45,215.10 L492.89,215.11 L493.34,215.12 L493.78,215.13 L494.23,215.14 L494.67,215.16 L495.12,215.17 L495.57,215.18 L496.01,215.19 L496.46,215.20 L496.90,215.21 L497.35,215.22 L497.79,215.23 L498.24,215.24 L498.69,215.25 L499.13,215.27 L499.58,215.28 L500.02,215.29 L500.47,215.30 L500.91,215.31 L501.36,215.32 L501.81,215.33 L502.25,215.34 L502.70,215.35 L503.14,215.36 L503.59,215.37 L504.03,215.38 L504.48,215.39 L504.92,215.40 L505.37,215.41 L505.82,215.41 L506.26,215.42 L506.71,215.43 L507.15,215.44 L507.60,215.45 L508.04,215.46 L508.49,215.47 L508.94,215.48 L509.38,215.49 L509.83,215.50 L510.27,215.51 L510.72,215.51 L511.16,215.52 L511.61,215.53 L512.06,215.54 L512.50,215.55 L512.95,215.56 L513.39,215.57 L513.84,215.58 L514.28,215.58 L514.73,215.59 L515.17,215.60 L515.62,215.61 L516.07,215.62 L516.51,215.63 L516.96,215.63 L517.40,215.64 L517.85,215.65 L518.29,215.66 L518.74,215.66 L519.19,215.67 L519.63,215.68 L520.08,215.69 L520.52,215.70 L520.97,215.70 L521.41,215.71 L521.86,215.72 L522.31,215.73 L522.75,215.73 L523.20,215.74 L523.64,215.75 L524.09,215.75 L524.53,215.76 L524.98,215.77 L525.43,215.77 L525.87,215.78 L526.32,215.79 L526.76,215.79 L527.21,215.80 L527.65,215.81 L528.10,215.81 L528.55,215.82 L528.99,215.83 L529.44,215.83 L529.88,215.84 L530.33,215.85 L530.70,215.85" stroke="#000000"/>
<path d="M321.70,217.05 L322.04,216.73 L322.38,216.41 L322.72,216.09 L323.05,215.75 L323.37,215.42 L323.67,215.08 L323.95,214.73 L324.25,214.31 L324.52,213.87 L324.73,213.43 L324.87,213.05 M326.31,206.45 L326.37,206.00 L326.44,205.54 L326.50,205.09 L326.57,204.64 L326.63,204.18 L326.69,203.74 L326.76,203.29 L326.82,202.85 L326.89,202.41 L326.96,201.97 L327.03,201.53 L327.09,201.09 L327.16,200.66 L327.22,200.22 L327.26,199.96 M328.16,193.28 L328.21,192.84 L328.26,192.40 L328.31,191.96 L328.36,191.52 L328.41,191.08 L328.46,190.64 L328.51,190.20 L328.56,189.76 L328.60,189.32 L328.65,188.88 L328.69,188.44 L328.74,188.00 L328.78,187.55 L328.82,187.11 L328.85,186.76 M329.42,180.05 L329.45,179.61 L329.49,179.17 L329.53,178.73 L329.57,178.28 L329.61,177.84 L329.65,177.40 L329.69,176.96 L329.73,176.52 L329.78,176.08 L329.82,175.64 L329.87,175.20 L329.91,174.75 L329.95,174.31 L329.99,173.87 L330.02,173.51 M330.77,166.79 L330.84,166.36 L330.93,165.84 L331.03,165.33 L331.13,164.82 L331.23,164.34 L331.36,163.82 L331.48,163.39 L331.60,162.95 L331.74,162.52 L331.92,162.01 L332.10,161.55 L332.33,161.09 L332.63,160.72 L332.81,160.65 M335.74,166.60 L335.94,167.03 L336.15,167.43 L336.35,167.82 L336.57,168.21 L336.78,168.59 L337.00,168.98 L337.21,169.37 L337.43,169.75 L337.65,170.14 L337.86,170.53 L338.08,170.91 L338.29,171.30 L338.51,171.69 L338.72,172.08 L338.88,172.39 M341.96,178.49 L342.23,178.94 L342.51,179.39 L342.80,179.83 L343.05,180.20 L343.30,180.56 L343.55,180.92 L343.81,181.28 L344.08,181.64 L344.35,181.99 L344.62,182.34 L344.90,182.69 L345.17,183.04 L345.45,183.39 L345.73,183.74 L345.79,183.80 M350.31,188.92 L350.62,189.24 L350.93,189.56 L351.25,189.87 L351.56,190.19 L351.94,190.56 L352.32,190.92 L352.71,191.28 L353.10,191.64 L353.49,192.00 L353.89,192.35 L354.28,192.70 L354.61,193.00 L354.95,193.29 L355.22,193.52 M360.61,197.76 L361.04,198.07 L361.48,198.36 L361.92,198.65 L362.36,198.94 L362.81,199.22 L363.25,199.49 L363.70,199.76 L364.16,200.03 L364.61,200.30 L365.07,200.56 L365.54,200.82 L366.00,201.08 L366.31,201.25 M372.56,204.31 L373.04,204.52 L373.53,204.74 L374.02,204.95 L374.51,205.16 L375.00,205.36 L375.49,205.56 L375.98,205.76 L376.47,205.96 L376.96,206.17 L377.45,206.37 L377.94,206.57 L378.44,206.77 L378.77,206.91 M385.21,209.29 L385.72,209.45 L386.23,209.61 L386.74,209.76 L387.25,209.90 L387.76,210.04 L388.27,210.17 L388.78,210.29 L389.30,210.40 L389.81,210.51 L390.32,210.61 L390.84,210.71 L391.36,210.81 L391.79,210.88 M398.70,211.91 L399.23,211.97 L399.76,212.04 L400.29,212.10 L400.82,212.16 L401.35,212.22 L401.89,212.28 L402.42,212.34 L402.95,212.40 L403.48,212.46 L404.01,212.52 L404.54,212.57 L405.07,212.63 L405.43,212.67 M412.30,213.38 L412.83,213.44 L413.36,213.49 L413.89,213.54 L414.42,213.59 L414.95,213.64 L415.48,213.69 L416.01,213.74 L416.54,213.79 L417.07,213.84 L417.60,213.89 L418.13,213.93 L418.66,213.98 L419.10,214.02 M425.99,214.54 L426.52,214.57 L427.05,214.60 L427.58,214.64 L428.11,214.67 L428.64,214.70 L429.17,214.73 L429.70,214.76 L430.23,214.79 L430.76,214.82 L431.29,214.85 L431.82,214.88 L432.36,214.91 L432.80,214.93 M439.70,215.26 L440.23,215.28 L440.76,215.31 L441.30,215.33 L441.83,215.35 L442.36,215.37 L442.89,215.40 L443.42,215.42 L443.95,215.44 L444.48,215.46 L445.01,215.48 L445.54,215.50 L446.08,215.53 L446.52,215.54 M453.42,215.81 L453.95,215.83 L454.49,215.85 L455.02,215.87 L455.55,215.89 L456.08,215.91 L456.61,215.93 L457.14,215.95 L457.67,215.96 L458.21,215.98 L458.74,216.00 L459.27,216.02 L459.80,216.04 L460.15,216.05 M467.15,216.25 L467.68,216.27 L468.21,216.28 L468.74,216.29 L469.28,216.30 L469.81,216.32 L470.34,216.33 L470.87,216.34 L471.40,216.35 L471.93,216.36 L472.46,216.37 L473.00,216.38 L473.53,216.39 L473.88,216.40 M480.88,216.53 L481.41,216.54 L481.94,216.55 L482.47,216.55 L483.00,216.56 L483.54,216.57 L484.07,216.58 L484.60,216.59 L485.13,216.60 L485.66,216.60 L486.19,216.61 L486.73,216.62 L487.26,216.63 L487.61,216.63 M494.61,216.72 L495.14,216.72 L495.67,216.73 L496.21,216.73 L496.74,216.74 L497.27,216.74 L497.80,216.74 L498.33,216.75 L498.86,216.75 L499.39,216.76 L499.93,216.76 L500.46,216.76 L500.99,216.77 L501.34,216.77 M508.34,216.82 L508.87,216.82 L509.41,216.82 L509.94,216.82 L510.47,216.83 L511.00,216.83 L511.53,216.83 L512.06,216.83 L512.60,216.84 L513.13,216.84 L513.66,216.84 L514.19,216.84 L514.72,216.84 L515.08,216.84" stroke="#FF0000"/>
<path d="M324.71,213.81 L324.85,213.33 L324.98,212.85 L325.12,212.37 L325.24,211.89 L325.37,211.41 L325.49,210.92 L325.61,210.44 L325.73,209.96 L325.84,209.47 L325.95,208.99 L326.05,208.51 L326.15,208.02 L326.24,207.53 L326.33,207.05 L326.42,206.56 L326.51,206.07 L326.60,205.58 L326.68,205.09 L326.77,204.60 L326.83,204.21 M327.35,200.76 L327.41,200.26 L327.48,199.77 L327.54,199.27 L327.60,198.78 L327.66,198.28 L327.71,197.79 L327.73,197.59 M328.05,194.23 L328.10,193.73 L328.14,193.24 L328.18,192.74 L328.22,192.24 L328.25,191.75 L328.29,191.25 L328.33,190.75 L328.36,190.26 L328.40,189.76 L328.43,189.26 L328.47,188.77 L328.50,188.27 L328.53,187.77 L328.57,187.28 L328.60,186.78 L328.63,186.28 L328.66,185.79 L328.70,185.29 L328.73,184.80 L328.76,184.30 M328.96,180.92 L328.98,180.42 L329.01,179.93 L329.04,179.43 L329.06,178.93 L329.09,178.44 L329.12,177.94 L329.13,177.64 M329.32,174.26 L329.35,173.77 L329.38,173.27 L329.41,172.77 L329.44,172.28 L329.48,171.78 L329.51,171.28 L329.55,170.79 L329.58,170.29 L329.61,169.79 L329.65,169.30 L329.68,168.80 L329.71,168.30 L329.75,167.80 L329.78,167.31 L329.82,166.81 L329.85,166.31 L329.89,165.81 L329.93,165.32 L329.97,164.82 L330.00,164.42 M330.31,160.95 L330.36,160.46 L330.42,159.97 L330.47,159.47 L330.53,158.98 L330.59,158.49 L330.66,157.98 L330.69,157.77 M331.19,154.42 L331.28,153.91 L331.37,153.41 L331.46,152.92 L331.56,152.45 L331.66,152.00 L331.78,151.48 L331.91,151.01 L332.07,150.53 L332.25,150.09 L332.54,149.76 L332.87,150.04 L333.06,150.45 L333.21,150.91 L333.34,151.33 L333.47,151.78 L333.60,152.26 L333.73,152.76 L333.86,153.27 L333.99,153.77 L334.12,154.25 L334.15,154.37 M335.12,157.71 L335.25,158.18 L335.39,158.66 L335.52,159.14 L335.65,159.62 L335.79,160.10 L335.93,160.58 L335.98,160.77 M337.05,164.08 L337.21,164.55 L337.38,165.02 L337.54,165.49 L337.71,165.96 L337.89,166.43 L338.06,166.90 L338.23,167.37 L338.41,167.83 L338.59,168.30 L338.78,168.76 L338.96,169.23 L339.15,169.69 L339.34,170.15 L339.54,170.60 L339.73,171.06 L339.93,171.51 L340.13,171.97 L340.34,172.42 L340.55,172.87 L340.72,173.22 M342.36,176.30 L342.61,176.73 L342.86,177.16 L343.12,177.59 L343.37,178.02 L343.63,178.44 L343.89,178.86 L344.05,179.11 M346.00,182.00 L346.29,182.41 L346.58,182.81 L346.87,183.22 L347.17,183.62 L347.46,184.02 L347.76,184.42 L348.06,184.82 L348.35,185.22 L348.65,185.62 L348.95,186.02 L349.24,186.42 L349.54,186.82 L349.84,187.22 L350.14,187.62 L350.44,188.02 L350.74,188.42 L351.04,188.82 L351.34,189.22 L351.65,189.62 L351.95,190.01 M354.12,192.61 L354.45,192.97 L354.79,193.33 L355.13,193.68 L355.48,194.03 L355.83,194.38 L356.19,194.72 L356.48,194.99 M359.05,197.23 L359.44,197.54 L359.84,197.85 L360.23,198.15 L360.63,198.45 L361.03,198.74 L361.43,199.03 L361.83,199.31 L362.24,199.59 L362.65,199.87 L363.07,200.15 L363.48,200.42 L363.90,200.69 L364.33,200.95 L364.75,201.21 L365.18,201.47 L365.61,201.73 L366.05,201.98 L366.48,202.22 L366.92,202.46 L367.36,202.70 L367.53,202.80 M370.64,204.34 L371.10,204.55 L371.55,204.75 L372.01,204.95 L372.46,205.15 L372.92,205.34 L373.38,205.54 L373.66,205.65 M377.01,206.94 L377.48,207.10 L377.95,207.27 L378.42,207.43 L378.89,207.59 L379.36,207.74 L379.83,207.90 L380.30,208.05 L380.78,208.21 L381.25,208.36 L381.73,208.50 L382.21,208.65 L382.68,208.79 L383.16,208.94 L383.64,209.08 L384.12,209.21 L384.60,209.35 L385.08,209.48 L385.56,209.62 L386.04,209.75 L386.52,209.87 L386.71,209.92 M390.09,210.75 L390.58,210.87 L391.06,210.97 L391.55,211.08 L392.03,211.19 L392.52,211.29 L393.01,211.39 L393.40,211.47 M396.82,212.15 L397.31,212.24 L397.80,212.34 L398.28,212.43 L398.77,212.52 L399.26,212.61 L399.75,212.70 L400.24,212.80 L400.73,212.89 L401.22,212.98 L401.71,213.08 L402.20,213.17 L402.69,213.26 L403.18,213.36 L403.67,213.45 L404.16,213.54 L404.65,213.63 L405.14,213.71 L405.63,213.80 L406.12,213.88 L406.61,213.95 L406.81,213.98 M410.36,214.40 L410.85,214.46 L411.34,214.51 L411.84,214.56 L412.33,214.61 L412.83,214.66 L413.32,214.71 L413.62,214.73 M417.19,215.05 L417.69,215.09 L418.19,215.13 L418.68,215.17 L419.18,215.20 L419.68,215.24 L420.17,215.28 L420.67,215.31 L421.17,215.35 L421.66,215.38 L422.16,215.41 L422.66,215.44 L423.15,215.48 L423.65,215.51 L424.15,215.54 L424.64,215.56 L425.14,215.59 L425.64,215.62 L426.13,215.65 L426.63,215.67 L427.13,215.70 L427.33,215.71 M430.90,215.88 L431.40,215.90 L431.90,215.92 L432.39,215.95 L432.89,215.97 L433.39,215.99 L433.89,216.01 L434.18,216.02 M437.77,216.15 L438.26,216.17 L438.76,216.19 L439.26,216.20 L439.76,216.22 L440.25,216.24 L440.75,216.25 L441.25,216.27 L441.74,216.28 L442.24,216.30 L442.74,216.31 L443.24,216.32 L443.73,216.34 L444.23,216.35 L444.73,216.36 L445.23,216.38 L445.72,216.39 L446.22,216.40 L446.72,216.42 L447.22,216.43 L447.71,216.44 L447.91,216.45 M451.49,216.55 L451.99,216.56 L452.49,216.57 L452.99,216.59 L453.48,216.60 L453.98,216.61 L454.48,216.62 L454.78,216.63 M458.36,216.71 L458.86,216.72 L459.35,216.73 L459.85,216.74 L460.35,216.75 L460.85,216.76 L461.34,216.77 L461.84,216.78 L462.34,216.79 L462.84,216.79 L463.33,216.80 L463.83,216.81 L464.33,216.81 L464.83,216.82 L465.32,216.82 L465.82,216.83 L466.32,216.83 L466.82,216.84 L467.31,216.84 L467.81,216.84 L468.31,216.85 L468.51,216.85 M472.09,216.85 L472.59,216.85 L473.08,216.85 L473.58,216.85 L474.08,216.85 L474.58,216.85 L475.07,216.85 L475.37,216.85 M478.95,216.85 L479.45,216.85 L479.95,216.85 L480.45,216.85 L480.94,216.85 L481.44,216.85 L481.94,216.85 L482.44,216.85 L482.93,216.85 L483.43,216.85 L483.93,216.85 L484.43,216.85 L484.92,216.85 L485.42,216.85 L485.92,216.85 L486.42,216.85 L486.91,216.85 L487.41,216.85 L487.91,216.85 L488.41,216.85 L488.90,216.85 L489.10,216.85 M492.69,216.85 L493.18,216.85 L493.68,216.85 L494.18,216.85 L494.68,216.85 L495.17,216.85 L495.67,216.85 L495.97,216.85 M499.55,216.85 L500.05,216.85 L500.55,216.85 L501.04,216.85 L501.54,216.85 L502.04,216.85 L502.54,216.85 L503.03,216.85 L503.53,216.85 L504.03,216.85 L504.53,216.85 L505.02,216.85 L505.52,216.85 L506.02,216.85 L506.52,216.85 L507.02,216.85 L507.51,216.85 L508.01,216.85 L508.51,216.85 L509.01,216.85 L509.50,216.85 L509.70,216.85 M513.28,216.85 L513.78,216.85 L514.28,216.85 L514.78,216.85 L515.27,216.85 L515.77,216.85 L516.27,216.85 L516.57,216.85 M520.05,216.85 L520.55,216.85 L521.05,216.85 L521.54,216.85 L522.04,216.85 L522.54,216.85 L523.04,216.85 L523.53,216.85 L524.03,216.85 L524.53,216.85 L525.03,216.85 L525.52,216.85 L526.02,216.85 L526.52,216.85 L527.02,216.85 L527.52,216.85 L528.01,216.85 L528.51,216.85 L529.01,216.85 L529.51,216.85 L530.00,216.85 L530.30,216.85" stroke="#0000FF"/>
<path d="M327.50,217.05 L327.53,216.57 L327.55,216.09 L327.58,215.61 L327.61,215.13 L327.63,214.65 L327.66,214.17 L327.68,213.69 L327.71,213.21 L327.74,212.73 L327.76,212.25 L327.78,211.76 L327.81,211.28 L327.83,210.80 L327.85,210.32 L327.88,209.84 L327.90,209.36 L327.92,208.88 L327.94,208.40 L327.96,207.92 L327.98,207.44 L328.00,206.96 L328.01,206.64 M328.18,201.35 L328.19,200.87 L328.20,200.39 L328.21,199.91 L328.21,199.43 L328.22,198.95 L328.23,198.47 L328.24,197.98 L328.24,197.50 L328.25,197.02 L328.26,196.54 L328.26,196.06 L328.27,195.58 L328.27,195.10 L328.28,194.62 L328.28,194.14 L328.29,193.66 L328.29,193.17 L328.30,192.69 L328.30,192.21 L328.31,191.73 L328.31,191.25 L328.32,190.77 L328.32,190.29 L328.32,189.97 M328.37,184.84 L328.38,184.35 L328.38,183.87 L328.39,183.39 L328.39,182.91 L328.40,182.43 L328.40,181.95 L328.41,181.47 L328.42,180.99 L328.42,180.51 L328.43,180.03 L328.44,179.54 L328.44,179.06 L328.45,178.58 L328.46,178.10 L328.47,177.62 L328.48,177.14 L328.48,176.66 L328.49,176.18 L328.50,175.70 L328.51,175.22 L328.51,174.73 L328.52,174.25 L328.53,173.77 L328.54,173.29 M328.62,168.16 L328.63,167.68 L328.64,167.20 L328.65,166.72 L328.65,166.24 L328.66,165.76 L328.67,165.28 L328.67,164.79 L328.68,164.31 L328.69,163.83 L328.69,163.35 L328.70,162.87 L328.70,162.39 L328.71,161.91 L328.72,161.43 L328.72,160.95 L328.73,160.47 L328.73,159.98 L328.74,159.50 L328.74,159.02 L328.75,158.54 L328.75,158.06 L328.76,157.58 L328.76,157.10 L328.77,156.62 M328.82,151.49 L328.82,151.01 L328.82,150.52 L328.83,150.04 L328.83,149.56 L328.84,149.08 L328.84,148.60 L328.84,148.12 L328.85,147.64 L328.85,147.16 L328.86,146.68 L328.86,146.20 L328.87,145.71 L328.87,145.23 L328.87,144.75 L328.88,144.27 L328.88,143.79 L328.89,143.31 L328.89,142.83 L328.89,142.35 L328.90,141.87 L328.90,141.39 L328.91,140.90 L328.91,140.42 L328.91,140.10 M328.96,134.97 L328.96,134.49 L328.97,134.01 L328.97,133.53 L328.97,133.05 L328.98,132.57 L328.98,132.09 L328.99,131.60 L328.99,131.12 L329.00,130.64 L329.00,130.16 L329.01,129.68 L329.01,129.20 L329.01,128.72 L329.02,128.24 L329.02,127.76 L329.03,127.28 L329.03,126.79 L329.04,126.31 L329.04,125.83 L329.05,125.35 L329.05,124.87 L329.06,124.39 L329.06,123.91 L329.07,123.43 M329.12,118.30 L329.12,117.82 L329.13,117.33 L329.13,116.85 L329.14,116.37 L329.14,115.89 L329.15,115.41 L329.15,114.93 L329.16,114.45 L329.16,113.97 L329.17,113.49 L329.17,113.00 L329.18,112.52 L329.18,112.04 L329.19,111.56 L329.19,111.08 L329.20,110.60 L329.20,110.12 L329.21,109.64 L329.21,109.16 L329.22,108.68 L329.22,108.19 L329.22,107.71 L329.23,107.23 L329.23,106.75 M329.29,101.62 L329.29,101.14 L329.30,100.66 L329.30,100.18 L329.31,99.70 L329.31,99.22 L329.31,98.73 L329.32,98.25 L329.32,97.77 L329.33,97.29 L329.33,96.81 L329.34,96.33 L329.34,95.85 L329.35,95.37 L329.35,94.89 L329.36,94.41 L329.36,93.92 L329.37,93.44 L329.37,92.96 L329.37,92.48 L329.38,92.00 L329.38,91.52 L329.39,91.04 L329.39,90.56 L329.40,90.24 M329.45,85.11 L329.45,84.62 L329.46,84.14 L329.46,83.66 L329.47,83.18 L329.47,82.70 L329.48,82.22 L329.48,81.74 L329.49,81.26 L329.49,80.78 L329.50,80.30 L329.50,79.81 L329.51,79.33 L329.52,78.85 L329.52,78.37 L329.53,77.89 L329.53,77.41 L329.54,76.93 L329.54,76.45 L329.55,75.97 L329.55,75.49 L329.56,75.00 L329.56,74.52 L329.57,74.04 L329.57,73.72 M329.64,68.59 L329.65,68.11 L329.66,67.63 L329.67,67.15 L329.67,66.67 L329.68,66.19 L329.69,65.71 L329.70,65.22 L329.71,64.74 L329.72,64.26 L329.73,63.78 L329.74,63.30 L329.75,62.82 L329.76,62.34 L329.77,61.86 L329.78,61.37 L329.80,60.89 L329.81,60.41 L329.82,59.93 L329.84,59.45 L329.85,58.97 L329.87,58.49 L329.88,58.00 L329.90,57.52 L329.92,57.04 M330.23,51.66 L330.30,51.03 L330.37,50.41 L330.44,49.84 L330.51,49.35 L330.61,48.87 L330.79,48.86 L330.88,49.37 L330.94,49.96 L330.99,50.49 L331.04,51.06 L331.08,51.67 L331.13,52.30 L331.17,52.94 L331.20,53.57 L331.24,54.18 L331.27,54.74 L331.30,55.25 L331.33,55.73 L331.35,56.21 L331.38,56.69 L331.40,57.17 M331.61,62.46 L331.62,62.94 L331.64,63.42 L331.66,63.90 L331.67,64.38 L331.69,64.87 L331.70,65.35 L331.72,65.83 L331.73,66.31 L331.75,66.79 L331.77,67.27 L331.78,67.75 L331.80,68.23 L331.82,68.71 L331.83,69.19 L331.85,69.67 L331.86,70.15 L331.88,70.64 L331.89,71.12 L331.91,71.60 L331.92,72.08 L331.94,72.56 L331.95,73.04 L331.97,73.52 M332.13,78.49 L332.15,78.97 L332.17,79.45 L332.19,79.93 L332.21,80.41 L332.23,80.89 L332.25,81.37 L332.27,81.85 L332.30,82.33 L332.32,82.81 L332.34,83.29 L332.37,83.77 L332.40,84.25 L332.42,84.73 L332.45,85.21 L332.48,85.69 L332.50,86.17 L332.53,86.66 L332.56,87.14 L332.59,87.62 L332.62,88.10 L332.65,88.58 L332.68,89.06 L332.71,89.54 L332.75,90.02 M333.10,95.14 L333.14,95.62 L333.17,96.10 L333.21,96.58 L333.24,97.06 L333.28,97.53 L333.31,98.01 L333.35,98.49 L333.38,98.97 L333.42,99.45 L333.45,99.93 L333.49,100.41 L333.52,100.89 L333.56,101.37 L333.59,101.85 L333.63,102.33 L333.66,102.81 L333.70,103.29 L333.73,103.77 L333.77,104.25 L333.81,104.73 L333.84,105.21 L333.88,105.69 L333.92,106.17 L333.95,106.65 M334.36,111.76 L334.40,112.24 L334.44,112.72 L334.48,113.20 L334.52,113.68 L334.56,114.16 L334.61,114.64 L334.65,115.12 L334.69,115.60 L334.73,116.08 L334.77,116.56 L334.81,117.04 L334.85,117.52 L334.89,118.00 L334.94,118.47 L334.98,118.95 L335.02,119.43 L335.06,119.91 L335.11,120.39 L335.15,120.87 L335.19,121.35 L335.23,121.83 L335.28,122.31 L335.32,122.79 L335.36,123.27 M335.83,128.38 L335.87,128.86 L335.92,129.34 L335.96,129.81 L336.01,130.29 L336.05,130.77 L336.10,131.25 L336.15,131.73 L336.19,132.21 L336.24,132.69 L336.29,133.17 L336.34,133.65 L336.39,134.12 L336.44,134.60 L336.49,135.08 L336.54,135.56 L336.59,136.04 L336.64,136.52 L336.69,136.99 L336.74,137.47 L336.80,137.95 L336.85,138.43 L336.91,138.90 L336.96,139.38 L337.00,139.70 M337.66,144.79 L337.72,145.27 L337.79,145.74 L337.86,146.22 L337.92,146.70 L337.99,147.17 L338.06,147.65 L338.13,148.12 L338.20,148.60 L338.27,149.08 L338.34,149.55 L338.41,150.03 L338.48,150.50 L338.55,150.98 L338.63,151.45 L338.70,151.93 L338.77,152.41 L338.84,152.88 L338.92,153.36 L338.99,153.83 L339.07,154.31 L339.14,154.78 L339.22,155.26 L339.30,155.73 L339.37,156.21 M340.24,161.27 L340.32,161.74 L340.41,162.21 L340.49,162.69 L340.58,163.16 L340.66,163.63 L340.75,164.11 L340.83,164.58 L340.92,165.05 L341.00,165.53 L341.09,166.00 L341.18,166.47 L341.26,166.95 L341.34,167.42 L341.43,167.90 L341.51,168.37 L341.60,168.85 L341.69,169.32 L341.77,169.80 L341.86,170.27 L341.95,170.74 L342.04,171.22 L342.13,171.69 L342.22,172.16 L342.32,172.63 M343.48,177.61 L343.61,178.08 L343.75,178.54 L343.89,179.00 L344.04,179.46 L344.18,179.91 L344.34,180.37 L344.49,180.83 L344.65,181.28 L344.81,181.74 L344.97,182.19 L345.13,182.65 L345.30,183.10 L345.47,183.55 L345.63,184.01 L345.80,184.46 L345.97,184.91 L346.14,185.36 L346.31,185.80 L346.48,186.25 L346.66,186.70 L346.84,187.15 L347.02,187.59 L347.21,188.04 L347.39,188.48 M349.48,193.17 L349.68,193.61 L349.88,194.04 L350.08,194.48 L350.28,194.92 L350.48,195.36 L350.68,195.81 L350.89,196.25 L351.09,196.69 L351.29,197.13 L351.50,197.56 L351.71,198.00 L351.93,198.43 L352.15,198.86 L352.37,199.29 L352.60,199.71 L352.83,200.13 L353.07,200.54 L353.31,200.94 L353.56,201.35 L353.82,201.75 L354.08,202.15 L354.36,202.54 L354.64,202.94 L354.92,203.34 M358.33,207.19 L358.68,207.50 L359.04,207.81 L359.41,208.11 L359.78,208.41 L360.17,208.71 L360.56,209.00 L360.96,209.29 L361.36,209.57 L361.77,209.84 L362.19,210.10 L362.60,210.36 L363.03,210.60 L363.45,210.84 L363.88,211.06 L364.30,211.28 L364.73,211.47 L365.16,211.66 L365.59,211.84 L366.03,212.02 L366.48,212.18 L366.92,212.35 L367.38,212.51 L367.83,212.66 L368.29,212.81 L368.60,212.91 M373.75,214.29 L374.22,214.40 L374.69,214.51 L375.16,214.63 L375.62,214.74 L376.09,214.85 L376.56,214.97 L377.04,215.07 L377.51,215.18 L377.98,215.28 L378.45,215.38 L378.93,215.47 L379.40,215.56 L379.87,215.64 L380.35,215.72 L380.82,215.79 L381.30,215.85 L381.78,215.91 L382.25,215.95 L382.73,216.00 L383.21,216.03 L383.68,216.07 L384.16,216.11 L384.64,216.14 L385.12,216.17 L385.28,216.18 M390.58,216.44 L391.06,216.46 L391.54,216.48 L392.02,216.50 L392.50,216.52 L392.98,216.54 L393.46,216.56 L393.94,216.58 L394.42,216.59 L394.90,216.61 L395.38,216.63 L395.86,216.65 L396.34,216.66 L396.83,216.68 L397.31,216.69 L397.79,216.71 L398.27,216.72 L398.75,216.73 L399.23,216.74 L399.71,216.74 L400.19,216.75 L400.67,216.75 L401.15,216.75 L401.63,216.75 L402.12,216.75 L402.44,216.75 M407.73,216.77 L408.21,216.77 L408.69,216.77 L409.17,216.77 L409.65,216.77 L410.13,216.77 L410.61,216.77 L411.09,216.77 L411.57,216.77 L412.05,216.78 L412.54,216.78 L413.02,216.78 L413.50,216.78 L413.98,216.78 L414.46,216.78 L414.94,216.78 L415.42,216.78 L415.90,216.78 L416.38,216.78 L416.86,216.79 L417.34,216.79 L417.83,216.79 L418.31,216.79 L418.79,216.79 L419.27,216.79 L419.59,216.79 M425.04,216.80 L425.52,216.80 L426.00,216.80 L426.48,216.80 L426.96,216.80 L427.44,216.80 L427.92,216.80 L428.41,216.80 L428.89,216.81 L429.37,216.81 L429.85,216.81 L430.33,216.81 L430.81,216.81 L431.29,216.81 L431.77,216.81 L432.25,216.81 L432.73,216.81 L433.22,216.81 L433.70,216.81 L434.18,216.81 L434.66,216.81 L435.14,216.81 L435.62,216.81 L436.10,216.82 L436.58,216.82 L436.74,216.82 M442.19,216.82 L442.67,216.82 L443.16,216.82 L443.64,216.82 L444.12,216.82 L444.60,216.82 L445.08,216.83 L445.56,216.83 L446.04,216.83 L446.52,216.83 L447.00,216.83 L447.48,216.83 L447.97,216.83 L448.45,216.83 L448.93,216.83 L449.41,216.83 L449.89,216.83 L450.37,216.83 L450.85,216.83 L451.33,216.83 L451.81,216.83 L452.29,216.83 L452.78,216.83 L453.26,216.83 L453.74,216.83 L453.90,216.83 M459.35,216.84 L459.83,216.84 L460.31,216.84 L460.79,216.84 L461.27,216.84 L461.76,216.84 L462.24,216.84 L462.72,216.84 L463.20,216.84 L463.68,216.84 L464.16,216.84 L464.64,216.84 L465.12,216.84 L465.60,216.84 L466.08,216.84 L466.57,216.84 L467.05,216.84 L467.53,216.84 L468.01,216.84 L468.49,216.84 L468.97,216.84 L469.45,216.84 L469.93,216.84 L470.41,216.84 L470.90,216.84 L471.06,216.84 M476.51,216.85 L476.99,216.85 L477.47,216.85 L477.95,216.85 L478.43,216.85 L478.91,216.85 L479.40,216.85 L479.88,216.85 L480.36,216.85 L480.84,216.85 L481.32,216.85 L481.80,216.85 L482.28,216.85 L482.76,216.85 L483.24,216.85 L483.73,216.85 L484.21,216.85 L484.69,216.85 L485.17,216.85 L485.65,216.85 L486.13,216.85 L486.61,216.85 L487.09,216.85 L487.57,216.85 L488.06,216.85 L488.22,216.85 M493.67,216.85 L494.15,216.85 L494.63,216.85 L495.11,216.85 L495.59,216.85 L496.08,216.85 L496.56,216.85 L497.04,216.85 L497.52,216.85 L498.00,216.85 L498.48,216.85 L498.96,216.85 L499.44,216.85 L499.93,216.85 L500.41,216.85 L500.89,216.85 L501.37,216.85 L501.85,216.85 L502.33,216.85 L502.81,216.85 L503.29,216.85 L503.78,216.85 L504.26,216.85 L504.74,216.85 L505.22,216.85 L505.38,216.85" stroke="#A020F0"/>
</g>
<rect x="321.5" y="42.72" width="208.96000000000004" height="180.72" fill="none" stroke="#000" stroke-width="0.86"/>
<g transform="translate(329.24,243.04)"><text class="ax" x="-2.50" y="0">0</text></g>
<g transform="translate(377.61,243.04)"><text class="ax" x="-2.50" y="0">5</text></g>
<g transform="translate(425.98,243.04)"><path d="M-2.80,0.00L-2.80,-4.54L-4.28,-4.54L-4.28,-5.08C-3.47,-5.08 -2.75,-5.40 -2.53,-6.33L-1.99,-6.33L-1.99,0.00Z" fill="#000" stroke="none"/><text class="ax" x="0.00" y="0">0</text></g>
<g transform="translate(474.35,243.04)"><path d="M-2.80,0.00L-2.80,-4.54L-4.28,-4.54L-4.28,-5.08C-3.47,-5.08 -2.75,-5.40 -2.53,-6.33L-1.99,-6.33L-1.99,0.00Z" fill="#000" stroke="none"/><text class="ax" x="0.00" y="0">5</text></g>
<g transform="translate(522.72,243.04)"><text class="ax" x="-5.00" y="0">20</text></g>
<g transform="translate(308.60,216.75) rotate(-90)"><text class="ax" x="-6.26" y="0">0.0</text></g>
<g transform="translate(308.60,179.56) rotate(-90)"><text class="ax" x="-6.26" y="0">0.2</text></g>
<g transform="translate(308.60,142.38) rotate(-90)"><text class="ax" x="-6.26" y="0">0.4</text></g>
<g transform="translate(308.60,105.19) rotate(-90)"><text class="ax" x="-6.26" y="0">0.6</text></g>
<g transform="translate(308.60,68.01) rotate(-90)"><text class="ax" x="-6.26" y="0">0.8</text></g>
<path d="M329.24,223.44v5.8 M377.61,223.44v5.8 M425.98,223.44v5.8 M474.35,223.44v5.8 M522.72,223.44v5.8 M321.5,216.75h-5.8 M321.5,179.56h-5.8 M321.5,142.38h-5.8 M321.5,105.19h-5.8 M321.5,68.01h-5.8" stroke="#000" stroke-width="0.86" fill="none"/>
<text class="ax" x="425.98" y="263.10" text-anchor="middle">T</text>
<text class="tt" x="425.98" y="25" text-anchor="middle">Weibull decreasing hazard</text>
<rect x="484.62" y="42.72" width="45.84" height="51.98" fill="#fff" stroke="#000" stroke-width="0.86"/>
<line x1="492.02" y1="53.30" x2="509.22" y2="53.30" stroke="#000000" stroke-width="0.95"/>
<text class="lg" x="517.07" y="56.70" style="fill:#000000">T</text>
<path d="M524.53,58.00L524.53,54.57L523.40,54.57L523.40,54.16C524.02,54.16 524.56,53.92 524.73,53.22L525.14,53.22L525.14,58.00Z" fill="#000000" stroke="none"/>
<path d="M517.66,48.10 c0.45,-1.4 1.3,-1.4 1.9,-0.6 s1.45,0.8 1.9,-0.6" fill="none" stroke="#000000" stroke-width="0.8"/>
<line x1="492.02" y1="63.67" x2="509.22" y2="63.67" stroke="#FF0000" stroke-width="0.95" stroke-dasharray="3.43 3.43"/>
<text class="lg" x="517.07" y="67.00" style="fill:#FF0000">T</text>
<text class="sub" x="522.92" y="68.30" style="fill:#FF0000">2</text>
<path d="M517.66,58.40 c0.45,-1.4 1.3,-1.4 1.9,-0.6 s1.45,0.8 1.9,-0.6" fill="none" stroke="#FF0000" stroke-width="0.8"/>
<line x1="492.02" y1="74.04" x2="509.22" y2="74.04" stroke="#0000FF" stroke-width="0.95" stroke-dasharray="1.71 1.71 5.14 1.71"/>
<text class="lg" x="517.07" y="77.30" style="fill:#0000FF">T</text>
<text class="sub" x="522.92" y="78.60" style="fill:#0000FF">3</text>
<path d="M517.66,68.70 c0.45,-1.4 1.3,-1.4 1.9,-0.6 s1.45,0.8 1.9,-0.6" fill="none" stroke="#0000FF" stroke-width="0.8"/>
<line x1="492.02" y1="84.41" x2="509.22" y2="84.41" stroke="#A020F0" stroke-width="0.95" stroke-dasharray="6.00 2.57"/>
<text class="lg" x="517.07" y="87.60" style="fill:#A020F0">T</text>
<text class="sub" x="522.92" y="88.90" style="fill:#A020F0">4</text>
<path d="M517.66,79.00 c0.45,-1.4 1.3,-1.4 1.9,-0.6 s1.45,0.8 1.9,-0.6" fill="none" stroke="#A020F0" stroke-width="0.8"/>
</g>
<g>
<clipPath id="cp3"><rect x="598.46" y="42.72" width="208.9699999999999" height="180.72"/></clipPath>
<line x1="598.46" y1="216.75" x2="807.43" y2="216.75" stroke="#e6e6e6" stroke-width="1"/>
<g clip-path="url(#cp3)" fill="none" stroke-width="2.0" stroke-linecap="butt" stroke-linejoin="round">
<path d="M598.70,217.05 L599.15,217.05 L599.60,217.05 L600.05,217.04 L600.50,217.04 L600.95,217.04 L601.40,217.03 L601.85,217.02 L602.29,217.02 L602.74,217.01 L603.19,217.00 L603.64,216.99 L604.08,216.97 L604.53,216.96 L604.97,216.95 L605.42,216.93 L605.86,216.92 L606.31,216.90 L606.75,216.89 L607.20,216.87 L607.64,216.85 L608.09,216.83 L608.53,216.81 L608.97,216.79 L609.41,216.77 L609.86,216.75 L610.30,216.73 L610.74,216.70 L611.18,216.68 L611.62,216.65 L612.06,216.63 L612.50,216.59 L612.94,216.54 L613.38,216.49 L613.82,216.43 L614.26,216.36 L614.70,216.28 L615.14,216.20 L615.58,216.11 L616.02,216.02 L616.46,215.93 L616.89,215.82 L617.33,215.72 L617.77,215.61 L618.20,215.50 L618.64,215.39 L619.07,215.27 L619.51,215.16 L619.94,215.04 L620.37,214.93 L620.80,214.81 L621.23,214.70 L621.66,214.59 L622.09,214.47 L622.52,214.36 L622.95,214.24 L623.38,214.12 L623.81,213.99 L624.24,213.87 L624.66,213.73 L625.09,213.60 L625.52,213.46 L625.94,213.32 L626.37,213.18 L626.79,213.04 L627.21,212.89 L627.63,212.74 L628.05,212.59 L628.47,212.43 L628.89,212.28 L629.31,212.12 L629.72,211.96 L630.13,211.80 L630.55,211.63 L630.96,211.46 L631.36,211.29 L631.77,211.12 L632.18,210.94 L632.58,210.75 L632.99,210.57 L633.39,210.37 L633.79,210.18 L634.19,209.98 L634.59,209.78 L634.99,209.58 L635.39,209.38 L635.79,209.17 L636.19,208.97 L636.58,208.76 L636.98,208.55 L637.37,208.34 L637.76,208.12 L638.16,207.91 L638.55,207.70 L638.94,207.49 L639.33,207.28 L639.72,207.07 L640.11,206.85 L640.50,206.63 L640.89,206.42 L641.28,206.20 L641.67,205.98 L642.05,205.75 L642.44,205.53 L642.82,205.30 L643.21,205.08 L643.59,204.85 L643.98,204.62 L644.36,204.39 L644.74,204.16 L645.12,203.93 L645.50,203.69 L645.88,203.46 L646.26,203.22 L646.64,202.99 L647.01,202.75 L647.39,202.51 L647.77,202.27 L648.14,202.03 L648.51,201.79 L648.88,201.54 L649.25,201.29 L649.62,201.04 L649.99,200.78 L650.35,200.53 L650.72,200.27 L651.08,200.01 L651.45,199.75 L651.81,199.50 L652.17,199.24 L652.54,198.98 L652.90,198.73 L653.27,198.47 L653.64,198.22 L654.01,197.97 L654.38,197.72 L654.75,197.48 L655.12,197.24 L655.50,197.00 L655.88,196.76 L656.25,196.52 L656.63,196.29 L657.01,196.06 L657.39,195.83 L657.78,195.60 L658.16,195.37 L658.54,195.14 L658.93,194.91 L659.31,194.68 L659.69,194.46 L660.08,194.23 L660.47,194.01 L660.85,193.79 L661.24,193.56 L661.62,193.34 L662.01,193.12 L662.40,192.89 L662.78,192.67 L663.17,192.44 L663.55,192.22 L663.94,191.99 L664.32,191.76 L664.71,191.53 L665.09,191.30 L665.48,191.07 L665.86,190.84 L666.25,190.62 L666.64,190.40 L667.03,190.18 L667.42,189.97 L667.81,189.76 L668.21,189.56 L668.61,189.36 L669.01,189.17 L669.41,188.99 L669.81,188.81 L670.22,188.64 L670.63,188.47 L671.04,188.30 L671.46,188.13 L671.87,187.97 L672.29,187.81 L672.71,187.65 L673.13,187.50 L673.55,187.35 L673.98,187.20 L674.40,187.06 L674.82,186.92 L675.25,186.78 L675.68,186.65 L676.10,186.52 L676.53,186.40 L676.96,186.28 L677.38,186.15 L677.81,186.03 L678.24,185.91 L678.67,185.79 L679.11,185.67 L679.54,185.55 L679.97,185.43 L680.41,185.32 L680.84,185.21 L681.28,185.11 L681.71,185.02 L682.15,184.93 L682.59,184.85 L683.03,184.78 L683.47,184.71 L683.91,184.66 L684.35,184.61 L684.79,184.57 L685.23,184.52 L685.67,184.48 L686.12,184.44 L686.56,184.40 L687.01,184.37 L687.46,184.33 L687.90,184.31 L688.35,184.28 L688.80,184.27 L689.24,184.26 L689.69,184.25 L690.13,184.25 L690.58,184.26 L691.02,184.27 L691.47,184.29 L691.92,184.32 L692.36,184.35 L692.81,184.38 L693.26,184.42 L693.71,184.46 L694.15,184.51 L694.60,184.56 L695.04,184.61 L695.48,184.66 L695.92,184.71 L696.36,184.77 L696.80,184.82 L697.23,184.88 L697.67,184.95 L698.10,185.03 L698.53,185.11 L698.97,185.21 L699.40,185.31 L699.83,185.43 L700.26,185.55 L700.69,185.67 L701.11,185.81 L701.54,185.95 L701.97,186.09 L702.39,186.24 L702.82,186.39 L703.24,186.55 L703.66,186.71 L704.08,186.87 L704.50,187.04 L704.92,187.20 L705.34,187.37 L705.76,187.54 L706.17,187.70 L706.59,187.87 L707.00,188.03 L707.41,188.19 L707.82,188.36 L708.23,188.53 L708.64,188.70 L709.05,188.88 L709.45,189.07 L709.86,189.25 L710.26,189.44 L710.67,189.63 L711.07,189.83 L711.47,190.03 L711.87,190.23 L712.27,190.44 L712.67,190.64 L713.06,190.85 L713.46,191.06 L713.85,191.27 L714.24,191.48 L714.64,191.70 L715.03,191.91 L715.42,192.13 L715.81,192.34 L716.20,192.56 L716.58,192.78 L716.96,193.00 L717.35,193.23 L717.73,193.46 L718.11,193.70 L718.48,193.93 L718.86,194.17 L719.23,194.41 L719.61,194.66 L719.98,194.90 L720.36,195.14 L720.73,195.39 L721.10,195.64 L721.47,195.88 L721.85,196.13 L722.22,196.37 L722.59,196.62 L722.97,196.86 L723.34,197.10 L723.72,197.34 L724.10,197.58 L724.48,197.81 L724.86,198.05 L725.24,198.28 L725.62,198.51 L726.00,198.74 L726.38,198.97 L726.76,199.20 L727.14,199.43 L727.53,199.66 L727.91,199.89 L728.29,200.12 L728.68,200.35 L729.06,200.58 L729.44,200.81 L729.83,201.03 L730.21,201.26 L730.60,201.48 L730.98,201.70 L731.37,201.92 L731.76,202.14 L732.15,202.36 L732.54,202.58 L732.93,202.79 L733.32,203.01 L733.71,203.22 L734.10,203.43 L734.50,203.64 L734.89,203.85 L735.28,204.05 L735.68,204.26 L736.08,204.47 L736.47,204.67 L736.87,204.87 L737.27,205.08 L737.67,205.28 L738.07,205.48 L738.47,205.67 L738.87,205.87 L739.27,206.07 L739.67,206.26 L740.07,206.45 L740.47,206.64 L740.88,206.83 L741.28,207.02 L741.69,207.21 L742.09,207.39 L742.50,207.57 L742.90,207.76 L743.31,207.94 L743.72,208.12 L744.12,208.30 L744.53,208.48 L744.94,208.66 L745.35,208.84 L745.76,209.02 L746.17,209.19 L746.59,209.36 L747.00,209.54 L747.41,209.70 L747.82,209.87 L748.24,210.04 L748.65,210.20 L749.07,210.36 L749.49,210.51 L749.91,210.67 L750.32,210.82 L750.74,210.96 L751.16,211.11 L751.58,211.25 L752.01,211.40 L752.43,211.54 L752.85,211.67 L753.28,211.81 L753.70,211.95 L754.13,212.08 L754.56,212.21 L754.98,212.34 L755.41,212.47 L755.84,212.59 L756.27,212.72 L756.70,212.84 L757.13,212.96 L757.56,213.08 L757.99,213.19 L758.42,213.30 L758.85,213.41 L759.28,213.52 L759.72,213.63 L760.15,213.73 L760.58,213.84 L761.02,213.94 L761.45,214.04 L761.88,214.14 L762.32,214.24 L762.76,214.34 L763.19,214.43 L763.63,214.53 L764.07,214.62 L764.50,214.71 L764.94,214.80 L765.38,214.88 L765.82,214.97 L766.26,215.05 L766.69,215.12 L767.13,215.20 L767.57,215.27 L768.01,215.34 L768.45,215.40 L768.89,215.47 L769.33,215.53 L769.78,215.60 L770.22,215.66 L770.66,215.72 L771.10,215.78 L771.54,215.84 L771.99,215.90 L772.43,215.96 L772.87,216.01 L773.32,216.06 L773.76,216.11 L774.20,216.15 L774.65,216.20 L775.09,216.24 L775.54,216.27 L775.98,216.31 L776.42,216.33 L776.87,216.36 L777.31,216.38 L777.76,216.41 L778.20,216.43 L778.65,216.45 L779.09,216.47 L779.54,216.49 L779.98,216.51 L780.43,216.53 L780.87,216.55 L781.32,216.56 L781.76,216.58 L782.21,216.59 L782.66,216.61 L783.10,216.62 L783.55,216.64 L783.99,216.65 L784.44,216.66 L784.89,216.68 L785.33,216.69 L785.78,216.70 L786.22,216.71 L786.67,216.72 L787.12,216.73 L787.56,216.74 L788.01,216.74 L788.45,216.75 L788.90,216.76 L789.34,216.77 L789.79,216.77 L790.24,216.78 L790.68,216.79 L791.13,216.80 L791.57,216.80 L792.02,216.81 L792.46,216.82 L792.91,216.82 L793.35,216.83 L793.80,216.84 L794.25,216.84 L794.69,216.85 L795.14,216.86 L795.58,216.86 L796.03,216.87 L796.47,216.87 L796.92,216.88 L797.37,216.89 L797.81,216.89 L798.26,216.90 L798.70,216.90 L799.15,216.91 L799.60,216.91 L800.04,216.91 L800.49,216.92 L800.93,216.92 L801.38,216.93 L801.82,216.93 L802.27,216.93 L802.72,216.94 L803.16,216.94 L803.61,216.94 L804.05,216.94 L804.50,216.94 L804.94,216.95 L805.39,216.95 L805.84,216.95 L806.28,216.95 L806.73,216.95 L807.10,216.95" stroke="#000000"/>
<path d="M600.80,216.95 L601.30,216.95 L601.80,216.94 L602.30,216.92 L602.79,216.89 L603.28,216.86 L603.76,216.82 L604.24,216.78 L604.71,216.73 L605.18,216.68 L605.64,216.62 L606.10,216.55 L606.56,216.48 L606.82,216.44 M613.39,214.59 L613.77,214.35 L614.14,214.09 L614.51,213.81 L614.87,213.51 L615.23,213.20 L615.59,212.88 L615.94,212.55 L616.29,212.21 L616.63,211.86 L616.97,211.52 L617.31,211.17 L617.65,210.82 L617.98,210.48 L618.31,210.14 L618.36,210.10 M622.87,205.04 L623.16,204.67 L623.44,204.31 L623.73,203.95 L624.01,203.58 L624.29,203.22 L624.57,202.85 L624.85,202.48 L625.13,202.12 L625.41,201.75 L625.69,201.39 L625.96,201.03 L626.24,200.66 L626.52,200.30 L626.80,199.94 L626.96,199.73 M630.99,194.25 L631.26,193.87 L631.52,193.50 L631.78,193.12 L632.04,192.74 L632.30,192.37 L632.56,191.99 L632.82,191.61 L633.08,191.23 L633.33,190.85 L633.58,190.47 L633.83,190.09 L634.08,189.71 L634.33,189.32 L634.57,188.93 L634.67,188.76 M638.12,182.95 L638.36,182.56 L638.60,182.17 L638.84,181.78 L639.09,181.40 L639.33,181.01 L639.58,180.63 L639.84,180.25 L640.09,179.87 L640.35,179.50 L640.61,179.13 L640.88,178.76 L641.15,178.39 L641.42,178.02 L641.69,177.66 L641.97,177.29 L642.01,177.24 M646.44,171.87 L646.75,171.54 L647.07,171.21 L647.38,170.88 L647.70,170.55 L648.02,170.23 L648.34,169.90 L648.66,169.56 L648.99,169.23 L649.31,168.89 L649.65,168.55 L649.98,168.21 L650.32,167.88 L650.66,167.56 L651.01,167.25 L651.26,167.03 M657.56,163.97 L658.01,163.90 L658.51,163.85 L659.01,163.86 L659.51,163.93 L659.96,164.02 L660.41,164.15 L660.86,164.31 L661.30,164.49 L661.74,164.69 L662.17,164.90 L662.59,165.12 L663.00,165.35 L663.39,165.57 L663.81,165.82 L663.87,165.85 M668.53,170.72 L668.82,171.10 L669.10,171.46 L669.39,171.82 L669.68,172.17 L669.97,172.53 L670.25,172.88 L670.53,173.24 L670.81,173.61 L671.08,173.97 L671.36,174.34 L671.63,174.70 L671.90,175.07 L672.16,175.45 L672.43,175.82 L672.54,175.98 M676.36,181.55 L676.62,181.93 L676.88,182.31 L677.14,182.69 L677.39,183.07 L677.65,183.45 L677.90,183.83 L678.16,184.21 L678.41,184.59 L678.66,184.97 L678.91,185.36 L679.16,185.74 L679.41,186.12 L679.66,186.51 L679.91,186.89 L680.06,187.11 M683.82,192.70 L684.09,193.07 L684.35,193.44 L684.62,193.81 L684.89,194.19 L685.16,194.56 L685.42,194.93 L685.69,195.30 L685.96,195.68 L686.23,196.05 L686.51,196.42 L686.78,196.79 L687.05,197.16 L687.33,197.53 L687.60,197.90 L687.72,198.05 M692.11,203.22 L692.43,203.55 L692.75,203.88 L693.07,204.21 L693.40,204.53 L693.73,204.86 L694.06,205.18 L694.40,205.50 L694.73,205.81 L695.07,206.12 L695.42,206.43 L695.76,206.74 L696.11,207.04 L696.46,207.34 L696.81,207.63 L697.02,207.79 M702.65,211.57 L703.06,211.79 L703.46,212.01 L703.87,212.23 L704.27,212.44 L704.68,212.65 L705.09,212.86 L705.50,213.06 L705.91,213.25 L706.32,213.45 L706.74,213.65 L707.16,213.84 L707.58,214.04 L708.00,214.23 L708.42,214.42 L708.72,214.55 M715.41,216.28 L715.86,216.35 L716.32,216.42 L716.78,216.48 L717.24,216.53 L717.69,216.57 L718.15,216.61 L718.61,216.64 L719.06,216.66 L719.52,216.67 L719.97,216.69 L720.43,216.71 L720.88,216.72 L721.34,216.74 L721.80,216.76 L722.12,216.77 M729.00,216.92 L729.46,216.93 L729.91,216.93 L730.37,216.94 L730.83,216.94 L731.29,216.94 L731.75,216.95 L732.21,216.95 L732.67,216.95 L733.12,216.95 L733.58,216.95 L734.04,216.95 L734.50,216.95 L734.95,216.95 L735.41,216.95 L735.87,216.95 M742.80,216.95 L743.26,216.95 L743.72,216.95 L744.18,216.95 L744.64,216.95 L745.09,216.95 L745.55,216.95 L746.01,216.95 L746.47,216.95 L746.93,216.95 L747.38,216.95 L747.84,216.95 L748.30,216.95 L748.76,216.95 L749.21,216.95 L749.61,216.95" stroke="#FF0000"/>
<path d="M602.30,216.95 L602.76,216.95 L603.28,216.93 L603.79,216.90 L604.29,216.87 L604.79,216.82 L605.27,216.77 L605.33,216.76 M608.71,216.08 L609.16,215.91 L609.56,215.68 L609.94,215.38 L610.26,215.08 L610.57,214.73 L610.88,214.36 L611.17,213.96 L611.46,213.55 L611.74,213.12 L611.98,212.75 L612.25,212.31 L612.51,211.89 L612.77,211.47 L613.02,211.07 L613.27,210.69 L613.51,210.31 L613.74,209.92 L613.98,209.53 L614.20,209.13 L614.43,208.73 L614.65,208.33 L614.71,208.21 M616.20,205.18 L616.39,204.76 L616.58,204.34 L616.77,203.91 L616.96,203.49 L617.14,203.07 L617.33,202.65 L617.51,202.22 L617.54,202.16 M618.84,199.01 L619.01,198.58 L619.18,198.15 L619.34,197.72 L619.51,197.29 L619.67,196.86 L619.83,196.43 L619.99,196.00 L620.15,195.56 L620.30,195.13 L620.46,194.69 L620.61,194.26 L620.77,193.82 L620.92,193.39 L621.07,192.95 L621.21,192.52 L621.36,192.08 L621.51,191.64 L621.65,191.21 L621.79,190.77 L621.93,190.33 L622.07,189.90 L622.15,189.64 M623.10,186.36 L623.23,185.92 L623.35,185.47 L623.47,185.03 L623.59,184.59 L623.72,184.14 L623.84,183.70 L623.97,183.26 M624.94,179.98 L625.08,179.54 L625.21,179.10 L625.35,178.66 L625.49,178.22 L625.63,177.78 L625.78,177.35 L625.92,176.91 L626.06,176.47 L626.20,176.03 L626.35,175.60 L626.49,175.16 L626.64,174.72 L626.78,174.29 L626.93,173.85 L627.07,173.41 L627.22,172.98 L627.36,172.54 L627.51,172.10 L627.66,171.67 L627.80,171.23 L627.95,170.79 L628.03,170.54 M629.12,167.30 L629.27,166.87 L629.42,166.43 L629.57,166.00 L629.71,165.56 L629.86,165.13 L630.01,164.69 L630.16,164.25 L630.18,164.19 M631.28,161.02 L631.43,160.59 L631.58,160.15 L631.73,159.72 L631.89,159.29 L632.04,158.85 L632.19,158.41 L632.34,157.97 L632.48,157.53 L632.62,157.08 L632.76,156.63 L632.90,156.18 L633.04,155.73 L633.18,155.28 L633.32,154.83 L633.46,154.38 L633.61,153.93 L633.75,153.49 L633.89,153.04 L634.04,152.59 L634.19,152.15 L634.34,151.71 L634.39,151.59 M635.69,148.41 L635.89,148.02 L636.12,147.58 L636.36,147.14 L636.59,146.75 L636.83,146.33 L637.09,145.89 L637.29,145.58 M639.28,142.76 L639.62,142.38 L639.96,142.03 L640.30,141.71 L640.65,141.42 L641.05,141.15 L641.44,140.95 L641.89,140.80 L642.37,140.75 L642.82,140.82 L643.25,140.97 L643.69,141.18 L644.09,141.42 L644.49,141.69 L644.89,142.00 L645.23,142.28 L645.57,142.58 L645.90,142.90 L646.22,143.22 L646.54,143.55 L646.88,143.93 L647.21,144.30 L647.34,144.46 M649.16,147.29 L649.36,147.70 L649.56,148.11 L649.75,148.54 L649.93,148.97 L650.11,149.40 L650.29,149.84 L650.46,150.29 L650.49,150.35 M651.61,153.50 L651.77,153.94 L651.93,154.38 L652.08,154.82 L652.24,155.25 L652.39,155.68 L652.54,156.12 L652.69,156.55 L652.84,156.99 L652.99,157.42 L653.13,157.86 L653.27,158.30 L653.41,158.74 L653.54,159.18 L653.68,159.62 L653.81,160.06 L653.95,160.50 L654.08,160.94 L654.21,161.38 L654.34,161.82 L654.47,162.27 L654.60,162.71 L654.68,162.96 M655.65,166.24 L655.78,166.68 L655.91,167.12 L656.04,167.57 L656.16,168.01 L656.29,168.45 L656.42,168.89 L656.54,169.34 L656.56,169.40 M657.47,172.63 L657.59,173.07 L657.72,173.51 L657.84,173.96 L657.97,174.40 L658.10,174.84 L658.22,175.29 L658.35,175.73 L658.48,176.17 L658.61,176.61 L658.74,177.05 L658.87,177.49 L659.00,177.93 L659.13,178.37 L659.27,178.81 L659.40,179.25 L659.54,179.69 L659.67,180.13 L659.81,180.57 L659.95,181.01 L660.08,181.45 L660.22,181.89 L660.32,182.21 M661.34,185.40 L661.48,185.84 L661.63,186.28 L661.77,186.72 L661.92,187.15 L662.07,187.59 L662.22,188.03 L662.37,188.46 L662.39,188.52 M663.54,191.74 L663.71,192.16 L663.87,192.59 L664.03,193.02 L664.20,193.45 L664.37,193.88 L664.54,194.31 L664.71,194.73 L664.89,195.16 L665.06,195.59 L665.24,196.01 L665.42,196.44 L665.60,196.87 L665.78,197.29 L665.97,197.71 L666.15,198.13 L666.34,198.56 L666.53,198.98 L666.72,199.39 L666.91,199.81 L667.11,200.23 L667.31,200.64 L667.42,200.88 M668.96,203.93 L669.18,204.34 L669.40,204.75 L669.62,205.16 L669.84,205.57 L670.07,205.98 L670.30,206.38 L670.54,206.78 M672.47,209.64 L672.75,210.00 L673.04,210.36 L673.34,210.72 L673.65,211.07 L673.96,211.43 L674.28,211.77 L674.61,212.11 L674.95,212.44 L675.29,212.76 L675.64,213.06 L675.99,213.34 L676.35,213.61 L676.77,213.89 L677.14,214.14 L677.53,214.38 L677.93,214.62 L678.33,214.86 L678.75,215.10 L679.17,215.32 L679.60,215.54 L680.03,215.74 L680.28,215.84 M683.68,216.57 L684.13,216.61 L684.58,216.65 L685.04,216.69 L685.50,216.73 L685.96,216.76 L686.42,216.79 L686.89,216.82 L687.02,216.83 M690.55,216.95 L691.01,216.95 L691.47,216.95 L691.93,216.95 L692.39,216.95 L692.85,216.95 L693.31,216.95 L693.77,216.95 L694.23,216.95 L694.69,216.95 L695.15,216.95 L695.61,216.95 L696.07,216.95 L696.53,216.95 L696.99,216.95 L697.45,216.95 L697.91,216.95 L698.37,216.95 L698.83,216.95 L699.29,216.95 L699.75,216.95 L700.21,216.95 L700.67,216.95 L700.74,216.95" stroke="#0000FF"/>
<path d="M606.50,217.05 L606.63,216.61 L606.76,216.18 L606.88,215.74 L607.01,215.30 L607.14,214.86 L607.26,214.42 L607.38,213.99 L607.50,213.55 L607.62,213.11 L607.73,212.67 L607.85,212.23 L607.96,211.79 L608.07,211.34 L608.18,210.90 L608.28,210.46 L608.38,210.02 L608.48,209.58 L608.58,209.13 L608.67,208.69 L608.76,208.25 L608.83,207.91 M609.75,202.89 L609.83,202.44 L609.91,201.99 L609.98,201.54 L610.05,201.09 L610.12,200.64 L610.19,200.19 L610.26,199.74 L610.33,199.29 L610.39,198.84 L610.46,198.39 L610.52,197.94 L610.58,197.48 L610.63,197.03 L610.69,196.58 L610.74,196.13 L610.80,195.68 L610.84,195.23 L610.89,194.78 L610.94,194.33 L610.98,193.87 L611.02,193.42 L611.06,192.97 L611.10,192.52 L611.13,192.07 L611.17,191.62 L611.18,191.50 M611.51,186.40 L611.54,185.95 L611.56,185.50 L611.59,185.04 L611.61,184.59 L611.64,184.13 L611.66,183.68 L611.68,183.22 L611.71,182.77 L611.73,182.32 L611.75,181.86 L611.78,181.41 L611.80,180.95 L611.83,180.50 L611.85,180.04 L611.87,179.59 L611.90,179.14 L611.92,178.68 L611.95,178.23 L611.98,177.77 L612.00,177.32 L612.03,176.87 L612.06,176.41 L612.09,175.96 L612.12,175.51 L612.15,175.05 L612.16,174.83 M612.49,169.84 L612.52,169.38 L612.56,168.93 L612.59,168.48 L612.62,168.02 L612.65,167.57 L612.68,167.12 L612.71,166.66 L612.74,166.21 L612.77,165.76 L612.80,165.30 L612.83,164.85 L612.87,164.40 L612.90,163.94 L612.93,163.49 L612.96,163.04 L612.99,162.58 L613.02,162.13 L613.05,161.68 L613.08,161.22 L613.12,160.77 L613.15,160.32 L613.18,159.86 L613.21,159.41 L613.24,158.96 L613.27,158.50 L613.30,158.16 M613.65,153.06 L613.69,152.61 L613.72,152.16 L613.75,151.70 L613.78,151.25 L613.81,150.80 L613.84,150.34 L613.87,149.89 L613.91,149.44 L613.94,148.98 L613.97,148.53 L614.00,148.08 L614.03,147.62 L614.06,147.17 L614.09,146.72 L614.12,146.26 L614.15,145.81 L614.19,145.36 L614.22,144.90 L614.25,144.45 L614.28,144.00 L614.31,143.54 L614.34,143.09 L614.37,142.64 L614.40,142.18 L614.43,141.73 M614.75,136.74 L614.78,136.29 L614.81,135.83 L614.84,135.38 L614.87,134.93 L614.89,134.47 L614.92,134.02 L614.95,133.57 L614.98,133.11 L615.01,132.66 L615.04,132.21 L615.07,131.75 L615.10,131.30 L615.12,130.85 L615.15,130.39 L615.18,129.94 L615.21,129.48 L615.24,129.03 L615.27,128.58 L615.30,128.12 L615.33,127.67 L615.36,127.22 L615.38,126.76 L615.41,126.31 L615.44,125.86 L615.47,125.52 M615.79,120.53 L615.83,120.08 L615.86,119.62 L615.89,119.17 L615.92,118.72 L615.95,118.26 L615.98,117.81 L616.01,117.36 L616.04,116.90 L616.07,116.45 L616.10,115.99 L616.13,115.54 L616.16,115.09 L616.19,114.63 L616.22,114.18 L616.25,113.73 L616.29,113.27 L616.32,112.82 L616.35,112.37 L616.38,111.91 L616.41,111.46 L616.44,111.01 L616.47,110.55 L616.50,110.10 L616.53,109.65 L616.56,109.31 M616.91,104.32 L616.94,103.87 L616.97,103.41 L617.00,102.96 L617.04,102.51 L617.07,102.05 L617.10,101.60 L617.14,101.15 L617.17,100.69 L617.20,100.24 L617.23,99.79 L617.27,99.34 L617.30,98.88 L617.33,98.43 L617.37,97.98 L617.40,97.52 L617.43,97.07 L617.46,96.62 L617.50,96.16 L617.53,95.71 L617.56,95.26 L617.60,94.80 L617.63,94.35 L617.66,93.90 L617.70,93.44 L617.73,92.99 L617.76,92.65 M618.14,87.55 L618.17,87.10 L618.21,86.65 L618.24,86.19 L618.28,85.74 L618.31,85.29 L618.35,84.83 L618.38,84.38 L618.42,83.93 L618.45,83.47 L618.49,83.02 L618.53,82.57 L618.56,82.12 L618.60,81.66 L618.63,81.21 L618.67,80.76 L618.71,80.30 L618.74,79.85 L618.78,79.40 L618.82,78.94 L618.86,78.49 L618.89,78.04 L618.93,77.59 L618.97,77.13 L619.00,76.68 L619.04,76.23 L619.06,76.00 M619.44,70.89 L619.47,70.44 L619.51,69.98 L619.54,69.53 L619.58,69.07 L619.62,68.62 L619.65,68.16 L619.69,67.71 L619.73,67.26 L619.77,66.80 L619.81,66.35 L619.85,65.90 L619.89,65.45 L619.93,64.99 L619.97,64.54 L620.02,64.09 L620.06,63.64 L620.11,63.19 L620.16,62.74 L620.21,62.29 L620.26,61.84 L620.31,61.39 L620.37,60.94 L620.42,60.49 L620.48,60.04 L620.54,59.59 L620.59,59.26 M621.38,54.15 L621.48,53.63 L621.59,53.15 L621.71,52.72 L621.85,52.27 L622.07,51.83 L622.45,51.72 L622.72,52.08 L622.94,52.49 L623.13,52.90 L623.32,53.37 L623.51,53.88 L623.69,54.42 L623.83,54.83 L623.96,55.26 L624.09,55.68 L624.24,56.24 L624.38,56.78 L624.50,57.29 L624.60,57.75 L624.68,58.19 L624.76,58.62 L624.84,59.06 L624.91,59.51 L624.98,59.95 L625.01,60.17 M625.65,65.35 L625.70,65.81 L625.74,66.26 L625.78,66.72 L625.83,67.17 L625.87,67.63 L625.91,68.09 L625.95,68.54 L625.99,69.00 L626.03,69.46 L626.07,69.91 L626.11,70.37 L626.15,70.83 L626.19,71.28 L626.23,71.74 L626.27,72.19 L626.31,72.65 L626.35,73.10 L626.39,73.55 L626.43,74.00 L626.48,74.46 L626.52,74.91 L626.56,75.36 L626.60,75.81 L626.64,76.27 L626.68,76.72 L626.70,76.95 M627.13,82.04 L627.17,82.49 L627.20,82.95 L627.24,83.40 L627.27,83.85 L627.31,84.31 L627.34,84.76 L627.38,85.21 L627.41,85.67 L627.45,86.12 L627.48,86.57 L627.51,87.02 L627.55,87.48 L627.58,87.93 L627.61,88.38 L627.65,88.84 L627.68,89.29 L627.71,89.74 L627.75,90.20 L627.78,90.65 L627.81,91.10 L627.84,91.56 L627.87,92.01 L627.91,92.46 L627.94,92.92 L627.97,93.37 L627.98,93.60 M628.30,98.70 L628.32,99.15 L628.35,99.61 L628.38,100.06 L628.40,100.52 L628.43,100.97 L628.46,101.42 L628.48,101.88 L628.51,102.33 L628.54,102.78 L628.57,103.24 L628.59,103.69 L628.62,104.14 L628.65,104.60 L628.68,105.05 L628.71,105.50 L628.74,105.96 L628.77,106.41 L628.80,106.87 L628.83,107.32 L628.86,107.77 L628.89,108.23 L628.92,108.68 L628.95,109.13 L628.99,109.58 L629.02,110.04 L629.04,110.26 M629.48,115.36 L629.52,115.81 L629.56,116.26 L629.60,116.72 L629.64,117.17 L629.68,117.62 L629.72,118.07 L629.76,118.53 L629.79,118.98 L629.83,119.43 L629.87,119.89 L629.91,120.34 L629.95,120.79 L629.98,121.24 L630.02,121.70 L630.06,122.15 L630.10,122.60 L630.14,123.06 L630.17,123.51 L630.21,123.96 L630.25,124.41 L630.29,124.87 L630.32,125.32 L630.36,125.77 L630.40,126.23 L630.44,126.68 L630.45,126.79 M630.86,131.89 L630.89,132.34 L630.93,132.79 L630.96,133.25 L631.00,133.70 L631.03,134.15 L631.07,134.61 L631.10,135.06 L631.14,135.51 L631.17,135.97 L631.21,136.42 L631.24,136.87 L631.27,137.32 L631.30,137.78 L631.34,138.23 L631.37,138.68 L631.40,139.14 L631.43,139.59 L631.46,140.04 L631.49,140.50 L631.52,140.95 L631.55,141.40 L631.58,141.86 L631.61,142.31 L631.64,142.77 L631.67,143.22 L631.69,143.45 M632.03,148.55 L632.06,149.00 L632.09,149.45 L632.12,149.91 L632.16,150.36 L632.19,150.81 L632.22,151.27 L632.26,151.72 L632.29,152.17 L632.33,152.63 L632.37,153.08 L632.40,153.53 L632.44,153.98 L632.48,154.44 L632.51,154.89 L632.55,155.34 L632.59,155.80 L632.63,156.25 L632.67,156.70 L632.71,157.15 L632.75,157.61 L632.79,158.06 L632.83,158.51 L632.87,158.96 L632.91,159.42 L632.95,159.87 L632.96,159.98 M633.43,165.07 L633.47,165.53 L633.51,165.98 L633.56,166.43 L633.60,166.88 L633.64,167.34 L633.68,167.79 L633.72,168.24 L633.77,168.69 L633.81,169.15 L633.85,169.60 L633.89,170.05 L633.94,170.50 L633.98,170.96 L634.02,171.41 L634.07,171.86 L634.11,172.31 L634.15,172.77 L634.20,173.22 L634.24,173.67 L634.29,174.12 L634.33,174.57 L634.38,175.03 L634.42,175.48 L634.47,175.93 L634.51,176.38 L634.54,176.61 M635.05,181.58 L635.10,182.03 L635.15,182.49 L635.19,182.94 L635.24,183.39 L635.28,183.84 L635.33,184.30 L635.38,184.75 L635.42,185.20 L635.47,185.66 L635.52,186.11 L635.57,186.56 L635.61,187.01 L635.66,187.47 L635.71,187.92 L635.76,188.37 L635.81,188.82 L635.86,189.28 L635.91,189.73 L635.96,190.18 L636.02,190.63 L636.07,191.08 L636.12,191.53 L636.18,191.98 L636.23,192.44 L636.29,192.89 L636.32,193.11 M637.03,198.16 L637.11,198.61 L637.18,199.06 L637.26,199.51 L637.33,199.96 L637.41,200.41 L637.50,200.86 L637.58,201.30 L637.67,201.75 L637.76,202.20 L637.85,202.65 L637.95,203.10 L638.04,203.54 L638.14,203.99 L638.24,204.43 L638.35,204.88 L638.46,205.32 L638.57,205.76 L638.68,206.20 L638.80,206.63 L638.92,207.07 L639.04,207.50 L639.17,207.93 L639.29,208.37 L639.43,208.81 L639.57,209.26 L639.60,209.37 M641.61,214.05 L641.91,214.45 L642.25,214.82 L642.65,215.20 L643.02,215.50 L643.41,215.78 L643.83,216.05 L644.26,216.28 L644.70,216.48 L645.14,216.63 L645.67,216.75 L646.20,216.80 L646.74,216.86 L647.28,216.90 L647.84,216.94 L648.29,216.97 L648.75,217.00 L649.21,217.02 L649.68,217.03 L650.15,217.04 L650.64,217.05 L651.00,217.05" stroke="#A020F0"/>
</g>
<rect x="598.46" y="42.72" width="208.9699999999999" height="180.72" fill="none" stroke="#000" stroke-width="0.86"/>
<g transform="translate(606.20,243.04)"><text class="ax" x="-2.50" y="0">0</text></g>
<g transform="translate(654.57,243.04)"><text class="ax" x="-2.50" y="0">5</text></g>
<g transform="translate(702.94,243.04)"><path d="M-2.80,0.00L-2.80,-4.54L-4.28,-4.54L-4.28,-5.08C-3.47,-5.08 -2.75,-5.40 -2.53,-6.33L-1.99,-6.33L-1.99,0.00Z" fill="#000" stroke="none"/><text class="ax" x="0.00" y="0">0</text></g>
<g transform="translate(751.32,243.04)"><path d="M-2.80,0.00L-2.80,-4.54L-4.28,-4.54L-4.28,-5.08C-3.47,-5.08 -2.75,-5.40 -2.53,-6.33L-1.99,-6.33L-1.99,0.00Z" fill="#000" stroke="none"/><text class="ax" x="0.00" y="0">5</text></g>
<g transform="translate(799.69,243.04)"><text class="ax" x="-5.00" y="0">20</text></g>
<g transform="translate(585.56,216.75) rotate(-90)"><text class="ax" x="-6.26" y="0">0.0</text></g>
<g transform="translate(585.56,188.86) rotate(-90)"><text class="ax" x="-6.26" y="0">0.</text><path d="M3.46,0.00L3.46,-4.54L1.97,-4.54L1.97,-5.08C2.78,-5.08 3.50,-5.40 3.73,-6.33L4.27,-6.33L4.27,0.00Z" fill="#000" stroke="none"/></g>
<g transform="translate(585.56,160.97) rotate(-90)"><text class="ax" x="-6.26" y="0">0.2</text></g>
<g transform="translate(585.56,133.08) rotate(-90)"><text class="ax" x="-6.26" y="0">0.3</text></g>
<g transform="translate(585.56,105.19) rotate(-90)"><text class="ax" x="-6.26" y="0">0.4</text></g>
<g transform="translate(585.56,77.30) rotate(-90)"><text class="ax" x="-6.26" y="0">0.5</text></g>
<g transform="translate(585.56,49.41) rotate(-90)"><text class="ax" x="-6.26" y="0">0.6</text></g>
<path d="M606.20,223.44v5.8 M654.57,223.44v5.8 M702.94,223.44v5.8 M751.32,223.44v5.8 M799.69,223.44v5.8 M598.46,216.75h-5.8 M598.46,188.86h-5.8 M598.46,160.97h-5.8 M598.46,133.08h-5.8 M598.46,105.19h-5.8 M598.46,77.30h-5.8 M598.46,49.41h-5.8" stroke="#000" stroke-width="0.86" fill="none"/>
<text class="ax" x="702.94" y="263.10" text-anchor="middle">T</text>
<text class="tt" x="702.94" y="25" text-anchor="middle">Weibull increasing hazard</text>
<rect x="761.59" y="42.72" width="45.84" height="51.98" fill="#fff" stroke="#000" stroke-width="0.86"/>
<line x1="768.99" y1="53.30" x2="786.19" y2="53.30" stroke="#000000" stroke-width="0.95"/>
<text class="lg" x="794.04" y="56.70" style="fill:#000000">T</text>
<path d="M801.50,58.00L801.50,54.57L800.37,54.57L800.37,54.16C800.99,54.16 801.53,53.92 801.70,53.22L802.11,53.22L802.11,58.00Z" fill="#000000" stroke="none"/>
<path d="M794.63,48.10 c0.45,-1.4 1.3,-1.4 1.9,-0.6 s1.45,0.8 1.9,-0.6" fill="none" stroke="#000000" stroke-width="0.8"/>
<line x1="768.99" y1="63.67" x2="786.19" y2="63.67" stroke="#FF0000" stroke-width="0.95" stroke-dasharray="3.43 3.43"/>
<text class="lg" x="794.04" y="67.00" style="fill:#FF0000">T</text>
<text class="sub" x="799.89" y="68.30" style="fill:#FF0000">2</text>
<path d="M794.63,58.40 c0.45,-1.4 1.3,-1.4 1.9,-0.6 s1.45,0.8 1.9,-0.6" fill="none" stroke="#FF0000" stroke-width="0.8"/>
<line x1="768.99" y1="74.04" x2="786.19" y2="74.04" stroke="#0000FF" stroke-width="0.95" stroke-dasharray="1.71 1.71 5.14 1.71"/>
<text class="lg" x="794.04" y="77.30" style="fill:#0000FF">T</text>
<text class="sub" x="799.89" y="78.60" style="fill:#0000FF">3</text>
<path d="M794.63,68.70 c0.45,-1.4 1.3,-1.4 1.9,-0.6 s1.45,0.8 1.9,-0.6" fill="none" stroke="#0000FF" stroke-width="0.8"/>
<line x1="768.99" y1="84.41" x2="786.19" y2="84.41" stroke="#A020F0" stroke-width="0.95" stroke-dasharray="6.00 2.57"/>
<text class="lg" x="794.04" y="87.60" style="fill:#A020F0">T</text>
<text class="sub" x="799.89" y="88.90" style="fill:#A020F0">4</text>
<path d="M794.63,79.00 c0.45,-1.4 1.3,-1.4 1.9,-0.6 s1.45,0.8 1.9,-0.6" fill="none" stroke="#A020F0" stroke-width="0.8"/>
</g>
<g>
<clipPath id="cp4"><rect x="45.05" y="319.75" width="208.49" height="180.69"/></clipPath>
<line x1="45.05" y1="493.75" x2="253.54" y2="493.75" stroke="#e6e6e6" stroke-width="1"/>
<g clip-path="url(#cp4)" fill="none" stroke-width="2.0" stroke-linecap="butt" stroke-linejoin="round">
<path d="M64.60,493.85 L65.10,493.85 L65.60,493.85 L66.09,493.85 L66.59,493.85 L67.08,493.84 L67.57,493.84 L68.06,493.83 L68.54,493.83 L69.03,493.82 L69.51,493.82 L69.99,493.81 L70.46,493.80 L70.94,493.79 L71.41,493.79 L71.89,493.78 L72.36,493.77 L72.83,493.75 L73.29,493.74 L73.76,493.73 L74.22,493.71 L74.68,493.70 L75.14,493.69 L75.60,493.67 L76.06,493.65 L76.51,493.63 L76.97,493.62 L77.42,493.60 L77.87,493.58 L78.32,493.55 L78.77,493.52 L79.23,493.44 L79.68,493.33 L80.14,493.19 L80.59,493.01 L81.04,492.82 L81.49,492.60 L81.93,492.37 L82.36,492.13 L82.78,491.87 L83.20,491.61 L83.59,491.36 L83.98,491.10 L84.34,490.85 L84.70,490.59 L85.06,490.30 L85.40,490.00 L85.75,489.68 L86.08,489.35 L86.41,489.01 L86.73,488.65 L87.05,488.28 L87.36,487.91 L87.67,487.53 L87.97,487.14 L88.27,486.75 L88.56,486.36 L88.84,485.96 L89.12,485.57 L89.40,485.18 L89.67,484.79 L89.93,484.40 L90.19,484.02 L90.45,483.63 L90.70,483.23 L90.95,482.84 L91.19,482.43 L91.43,482.03 L91.67,481.62 L91.90,481.21 L92.13,480.79 L92.35,480.38 L92.58,479.96 L92.80,479.54 L93.02,479.11 L93.23,478.69 L93.45,478.26 L93.66,477.84 L93.87,477.41 L94.08,476.98 L94.29,476.55 L94.50,476.12 L94.71,475.69 L94.92,475.26 L95.12,474.84 L95.33,474.41 L95.54,473.98 L95.75,473.56 L95.95,473.13 L96.15,472.71 L96.36,472.28 L96.55,471.85 L96.75,471.42 L96.95,470.99 L97.14,470.56 L97.33,470.13 L97.52,469.69 L97.71,469.26 L97.90,468.83 L98.09,468.39 L98.28,467.96 L98.47,467.52 L98.65,467.09 L98.84,466.65 L99.03,466.22 L99.21,465.78 L99.40,465.35 L99.59,464.91 L99.78,464.48 L99.97,464.04 L100.16,463.61 L100.35,463.17 L100.54,462.74 L100.73,462.31 L100.93,461.88 L101.13,461.45 L101.33,461.02 L101.53,460.59 L101.73,460.16 L101.93,459.73 L102.12,459.30 L102.32,458.86 L102.52,458.43 L102.71,457.99 L102.90,457.55 L103.10,457.11 L103.29,456.67 L103.49,456.23 L103.69,455.79 L103.88,455.36 L104.08,454.92 L104.29,454.49 L104.49,454.06 L104.70,453.63 L104.91,453.20 L105.12,452.77 L105.33,452.35 L105.55,451.94 L105.78,451.52 L106.01,451.12 L106.24,450.71 L106.48,450.31 L106.72,449.92 L106.97,449.53 L107.23,449.15 L107.49,448.77 L107.76,448.39 L108.04,448.00 L108.33,447.60 L108.62,447.21 L108.92,446.81 L109.23,446.42 L109.55,446.04 L109.87,445.66 L110.20,445.29 L110.54,444.94 L110.89,444.59 L111.24,444.27 L111.59,443.96 L111.95,443.67 L112.32,443.41 L112.70,443.17 L113.08,442.96 L113.47,442.77 L113.88,442.57 L114.31,442.37 L114.75,442.18 L115.21,441.99 L115.67,441.82 L116.14,441.66 L116.61,441.51 L117.09,441.39 L117.56,441.29 L118.03,441.21 L118.49,441.16 L118.95,441.15 L119.40,441.18 L119.86,441.24 L120.32,441.34 L120.78,441.46 L121.25,441.62 L121.71,441.79 L122.16,441.99 L122.61,442.20 L123.06,442.41 L123.49,442.64 L123.91,442.86 L124.31,443.09 L124.70,443.31 L125.08,443.54 L125.45,443.80 L125.81,444.08 L126.16,444.38 L126.51,444.69 L126.85,445.02 L127.19,445.36 L127.52,445.71 L127.84,446.08 L128.17,446.44 L128.49,446.81 L128.81,447.19 L129.12,447.56 L129.44,447.94 L129.75,448.31 L130.06,448.67 L130.38,449.03 L130.69,449.38 L131.00,449.73 L131.30,450.09 L131.61,450.46 L131.91,450.82 L132.20,451.19 L132.50,451.56 L132.79,451.94 L133.08,452.31 L133.37,452.69 L133.66,453.06 L133.95,453.44 L134.24,453.81 L134.53,454.18 L134.82,454.56 L135.12,454.93 L135.41,455.30 L135.71,455.67 L136.01,456.03 L136.32,456.39 L136.63,456.75 L136.94,457.11 L137.25,457.46 L137.56,457.82 L137.88,458.17 L138.20,458.52 L138.51,458.87 L138.83,459.22 L139.15,459.57 L139.47,459.92 L139.79,460.27 L140.11,460.62 L140.42,460.97 L140.74,461.32 L141.06,461.68 L141.37,462.03 L141.68,462.39 L141.99,462.74 L142.30,463.10 L142.61,463.46 L142.91,463.82 L143.22,464.19 L143.52,464.55 L143.82,464.92 L144.12,465.29 L144.42,465.65 L144.72,466.02 L145.02,466.39 L145.31,466.76 L145.61,467.12 L145.91,467.49 L146.21,467.85 L146.52,468.22 L146.82,468.58 L147.12,468.95 L147.43,469.31 L147.74,469.66 L148.05,470.02 L148.36,470.37 L148.68,470.72 L148.99,471.08 L149.31,471.43 L149.63,471.78 L149.94,472.14 L150.26,472.50 L150.58,472.85 L150.90,473.21 L151.22,473.57 L151.54,473.93 L151.86,474.28 L152.18,474.64 L152.51,474.99 L152.83,475.34 L153.16,475.69 L153.49,476.03 L153.83,476.37 L154.16,476.71 L154.50,477.04 L154.84,477.36 L155.19,477.68 L155.53,478.00 L155.88,478.31 L156.24,478.61 L156.60,478.90 L156.96,479.19 L157.33,479.47 L157.70,479.74 L158.08,480.01 L158.46,480.27 L158.86,480.53 L159.25,480.78 L159.65,481.02 L160.06,481.27 L160.47,481.50 L160.88,481.74 L161.30,481.97 L161.72,482.20 L162.14,482.43 L162.56,482.65 L162.99,482.88 L163.41,483.10 L163.83,483.32 L164.26,483.54 L164.68,483.76 L165.10,483.98 L165.53,484.20 L165.94,484.42 L166.36,484.64 L166.78,484.87 L167.20,485.10 L167.61,485.33 L168.03,485.55 L168.45,485.78 L168.87,486.01 L169.29,486.23 L169.71,486.46 L170.14,486.67 L170.56,486.89 L170.99,487.09 L171.42,487.29 L171.85,487.48 L172.28,487.66 L172.72,487.84 L173.15,488.00 L173.59,488.15 L174.04,488.30 L174.48,488.44 L174.93,488.59 L175.38,488.72 L175.83,488.86 L176.29,488.99 L176.74,489.12 L177.20,489.25 L177.66,489.37 L178.12,489.49 L178.58,489.60 L179.05,489.72 L179.51,489.83 L179.97,489.94 L180.44,490.04 L180.90,490.14 L181.37,490.24 L181.83,490.34 L182.30,490.44 L182.76,490.53 L183.23,490.62 L183.69,490.70 L184.15,490.79 L184.62,490.88 L185.08,490.96 L185.55,491.04 L186.02,491.12 L186.48,491.20 L186.95,491.28 L187.42,491.36 L187.89,491.43 L188.35,491.50 L188.82,491.57 L189.29,491.64 L189.76,491.71 L190.23,491.77 L190.70,491.83 L191.17,491.89 L191.64,491.95 L192.11,492.01 L192.58,492.06 L193.05,492.11 L193.52,492.15 L193.99,492.20 L194.46,492.24 L194.93,492.28 L195.40,492.32 L195.88,492.36 L196.35,492.40 L196.82,492.44 L197.29,492.48 L197.76,492.52 L198.23,492.55 L198.71,492.59 L199.18,492.62 L199.65,492.65 L200.12,492.68 L200.60,492.71 L201.07,492.74 L201.54,492.77 L202.01,492.80 L202.49,492.82 L202.96,492.85 L203.43,492.87 L203.91,492.90 L204.38,492.92 L204.85,492.94 L205.32,492.96 L205.80,492.98 L206.27,493.00 L206.74,493.02 L207.21,493.04 L207.69,493.05 L208.16,493.07 L208.63,493.09 L209.10,493.11 L209.58,493.12 L210.05,493.14 L210.52,493.16 L211.00,493.17 L211.47,493.19 L211.94,493.21 L212.41,493.22 L212.89,493.24 L213.36,493.25 L213.83,493.27 L214.31,493.28 L214.78,493.30 L215.25,493.31 L215.73,493.32 L216.20,493.34 L216.67,493.35 L217.15,493.36 L217.62,493.38 L218.09,493.39 L218.56,493.40 L219.04,493.41 L219.51,493.42 L219.98,493.43 L220.46,493.44 L220.93,493.45 L221.40,493.46 L221.88,493.47 L222.35,493.48 L222.82,493.49 L223.30,493.50 L223.77,493.51 L224.24,493.52 L224.72,493.52 L225.19,493.53 L225.66,493.54 L226.14,493.54 L226.61,493.55 L227.08,493.55 L227.55,493.56 L228.03,493.57 L228.50,493.57 L228.97,493.58 L229.45,493.58 L229.92,493.59 L230.39,493.59 L230.87,493.60 L231.34,493.60 L231.81,493.61 L232.29,493.61 L232.76,493.62 L233.23,493.62 L233.70,493.63 L234.18,493.63 L234.65,493.64 L235.12,493.64 L235.60,493.65 L236.07,493.65 L236.54,493.66 L237.02,493.66 L237.49,493.67 L237.96,493.67 L238.44,493.68 L238.91,493.68 L239.38,493.68 L239.86,493.69 L240.33,493.69 L240.80,493.70 L241.28,493.70 L241.75,493.70 L242.22,493.71 L242.69,493.71 L243.17,493.71 L243.64,493.72 L244.11,493.72 L244.59,493.72 L245.06,493.72 L245.53,493.73 L246.01,493.73 L246.48,493.73 L246.95,493.73 L247.43,493.74 L247.90,493.74 L248.37,493.74 L248.85,493.74 L249.32,493.74 L249.79,493.74 L250.27,493.75 L250.74,493.75 L251.21,493.75 L251.69,493.75 L252.16,493.75 L252.63,493.75 L253.11,493.75 L253.50,493.75" stroke="#000000"/>
<path d="M71.90,493.85 L72.41,493.85 L72.92,493.84 L73.42,493.83 L73.91,493.81 L74.39,493.79 L74.87,493.77 L75.34,493.74 L75.80,493.71 L76.26,493.67 L76.78,493.63 L77.29,493.58 L77.79,493.52 L78.28,493.47 L78.62,493.41 M83.58,489.22 L83.80,488.78 L84.00,488.33 L84.19,487.86 L84.35,487.44 L84.49,487.01 L84.63,486.57 L84.77,486.12 L84.90,485.66 L85.02,485.19 L85.14,484.72 L85.26,484.24 L85.37,483.76 L85.48,483.28 L85.53,483.04 M86.92,476.53 L87.01,476.07 L87.10,475.61 L87.19,475.15 L87.28,474.70 L87.36,474.24 L87.45,473.78 L87.53,473.32 L87.62,472.86 L87.70,472.40 L87.78,471.94 L87.86,471.48 L87.94,471.02 L88.02,470.56 L88.08,470.18 M89.18,463.65 L89.26,463.19 L89.34,462.73 L89.42,462.27 L89.50,461.81 L89.58,461.35 L89.66,460.89 L89.74,460.43 L89.82,459.97 L89.90,459.51 L89.98,459.05 L90.06,458.59 L90.14,458.13 L90.22,457.67 L90.28,457.29 M91.34,450.77 L91.42,450.31 L91.49,449.85 L91.56,449.38 L91.62,448.92 L91.69,448.46 L91.76,448.00 L91.83,447.54 L91.90,447.08 L91.96,446.62 L92.03,446.15 L92.10,445.69 L92.16,445.23 L92.23,444.77 L92.28,444.38 M93.17,437.83 L93.23,437.37 L93.29,436.91 L93.35,436.44 L93.41,435.98 L93.47,435.52 L93.53,435.06 L93.59,434.59 L93.65,434.13 L93.71,433.67 L93.77,433.21 L93.83,432.74 L93.89,432.28 L93.94,431.82 L94.00,431.35 L94.02,431.20 M94.83,424.40 L94.89,423.94 L94.95,423.48 L95.00,423.02 L95.06,422.55 L95.12,422.09 L95.18,421.63 L95.25,421.17 L95.31,420.70 L95.37,420.24 L95.44,419.78 L95.50,419.32 L95.57,418.86 L95.63,418.39 L95.70,417.93 L95.71,417.85 M96.73,411.24 L96.81,410.78 L96.89,410.32 L96.97,409.86 L97.05,409.40 L97.14,408.94 L97.22,408.49 L97.31,408.03 L97.40,407.57 L97.49,407.11 L97.58,406.66 L97.67,406.20 L97.77,405.74 L97.86,405.28 L97.96,404.82 L98.01,404.60 M99.72,398.03 L99.87,397.60 L100.02,397.16 L100.18,396.73 L100.35,396.30 L100.53,395.86 L100.72,395.43 L100.92,394.99 L101.14,394.57 L101.36,394.15 L101.60,393.75 L101.84,393.36 L102.10,392.98 L102.38,392.61 L102.53,392.40 M106.58,394.73 L106.74,395.18 L106.90,395.63 L107.04,396.09 L107.18,396.54 L107.31,396.99 L107.44,397.43 L107.57,397.88 L107.69,398.33 L107.81,398.78 L107.92,399.23 L108.04,399.68 L108.15,400.13 L108.25,400.59 L108.34,400.96 M109.70,407.53 L109.79,407.99 L109.88,408.45 L109.97,408.90 L110.06,409.36 L110.15,409.82 L110.24,410.28 L110.33,410.74 L110.41,411.19 L110.50,411.65 L110.58,412.11 L110.66,412.57 L110.74,413.03 L110.83,413.49 L110.91,413.95 L110.93,414.10 M112.14,420.76 L112.23,421.22 L112.33,421.67 L112.42,422.13 L112.51,422.59 L112.61,423.04 L112.71,423.50 L112.80,423.96 L112.90,424.41 L113.00,424.87 L113.10,425.32 L113.20,425.78 L113.31,426.23 L113.41,426.69 L113.51,427.14 L113.53,427.22 M115.04,433.82 L115.14,434.27 L115.24,434.73 L115.34,435.18 L115.44,435.64 L115.54,436.09 L115.64,436.55 L115.74,437.01 L115.84,437.46 L115.93,437.92 L116.03,438.38 L116.13,438.83 L116.23,439.29 L116.32,439.75 L116.42,440.20 M117.88,446.81 L117.99,447.26 L118.10,447.71 L118.21,448.17 L118.32,448.62 L118.43,449.07 L118.54,449.52 L118.66,449.98 L118.78,450.43 L118.90,450.88 L119.02,451.33 L119.14,451.78 L119.26,452.23 L119.39,452.68 L119.51,453.13 L119.53,453.20 M121.42,459.70 L121.55,460.15 L121.68,460.60 L121.81,461.04 L121.94,461.49 L122.07,461.94 L122.20,462.39 L122.33,462.84 L122.45,463.29 L122.58,463.74 L122.71,464.19 L122.83,464.65 L122.96,465.10 L123.08,465.55 L123.21,466.00 M125.17,472.48 L125.32,472.92 L125.48,473.36 L125.63,473.80 L125.79,474.23 L125.95,474.66 L126.12,475.09 L126.29,475.53 L126.46,475.96 L126.63,476.40 L126.81,476.83 L126.99,477.27 L127.18,477.71 L127.37,478.14 L127.56,478.57 M130.93,484.48 L131.21,484.85 L131.50,485.22 L131.80,485.59 L132.12,485.95 L132.44,486.32 L132.76,486.67 L133.10,487.02 L133.44,487.36 L133.79,487.69 L134.14,488.01 L134.50,488.32 L134.86,488.61 L135.23,488.89 L135.60,489.16 L135.66,489.20 M141.86,492.04 L142.31,492.17 L142.76,492.29 L143.21,492.41 L143.66,492.51 L144.11,492.61 L144.56,492.71 L145.01,492.81 L145.47,492.90 L145.93,492.98 L146.39,493.07 L146.85,493.14 L147.31,493.21 L147.78,493.28 L148.25,493.34 L148.56,493.37" stroke="#FF0000"/>
<path d="M59.27,493.85 L59.76,493.84 L60.24,493.82 L60.70,493.79 L61.15,493.76 L61.70,493.71 L62.22,493.65 L62.42,493.62 M65.54,492.39 L65.83,491.98 L66.10,491.52 L66.31,491.12 L66.50,490.70 L66.69,490.27 L66.86,489.83 L67.03,489.39 L67.19,488.96 L67.33,488.55 L67.50,488.06 L67.65,487.60 L67.79,487.13 L67.93,486.66 L68.06,486.18 L68.19,485.69 L68.31,485.21 L68.42,484.72 L68.53,484.22 L68.64,483.73 L68.74,483.23 M69.35,479.91 L69.44,479.41 L69.53,478.91 L69.62,478.41 L69.71,477.92 L69.79,477.42 L69.88,476.93 L69.90,476.83 M70.43,473.55 L70.51,473.05 L70.59,472.55 L70.66,472.05 L70.73,471.55 L70.81,471.05 L70.88,470.55 L70.95,470.05 L71.02,469.55 L71.10,469.06 L71.17,468.56 L71.24,468.06 L71.31,467.56 L71.38,467.06 L71.46,466.56 L71.53,466.06 L71.60,465.56 L71.67,465.06 L71.75,464.56 L71.82,464.06 L71.84,463.96 M72.34,460.68 L72.42,460.18 L72.50,459.68 L72.57,459.18 L72.65,458.68 L72.73,458.19 L72.80,457.69 L72.82,457.59 M73.34,454.20 L73.41,453.70 L73.49,453.20 L73.56,452.70 L73.64,452.20 L73.71,451.71 L73.79,451.21 L73.86,450.71 L73.93,450.21 L74.01,449.71 L74.08,449.21 L74.15,448.71 L74.22,448.21 L74.29,447.72 L74.37,447.22 L74.44,446.72 L74.51,446.22 L74.58,445.72 L74.65,445.22 L74.72,444.72 L74.74,444.62 M75.20,441.33 L75.27,440.83 L75.34,440.33 L75.40,439.83 L75.47,439.33 L75.54,438.83 L75.61,438.33 L75.62,438.23 M76.05,434.93 L76.11,434.43 L76.18,433.93 L76.24,433.43 L76.30,432.93 L76.36,432.43 L76.42,431.93 L76.48,431.43 L76.54,430.93 L76.60,430.43 L76.66,429.93 L76.72,429.43 L76.78,428.93 L76.83,428.42 L76.89,427.92 L76.95,427.42 L77.00,426.92 L77.06,426.42 L77.12,425.92 L77.17,425.42 L77.18,425.32 M77.55,422.01 L77.61,421.51 L77.66,421.01 L77.72,420.51 L77.77,420.01 L77.83,419.51 L77.89,419.01 L77.91,418.81 M78.29,415.50 L78.34,415.00 L78.39,414.49 L78.45,413.99 L78.50,413.49 L78.55,412.99 L78.60,412.49 L78.66,411.98 L78.71,411.48 L78.76,410.98 L78.81,410.48 L78.87,409.97 L78.92,409.47 L78.98,408.97 L79.03,408.47 L79.09,407.97 L79.15,407.47 L79.21,406.97 L79.27,406.47 L79.34,405.97 L79.35,405.87 M79.83,402.59 L79.91,402.09 L79.99,401.59 L80.08,401.08 L80.16,400.58 L80.26,400.07 L80.35,399.57 L80.37,399.47 M81.11,396.17 L81.24,395.69 L81.38,395.21 L81.52,394.74 L81.67,394.27 L81.83,393.81 L82.00,393.36 L82.19,392.89 L82.36,392.47 L82.56,392.04 L82.77,391.60 L83.00,391.16 L83.24,390.72 L83.49,390.30 L83.74,389.91 L84.00,389.55 L84.33,389.15 L84.64,388.85 L85.08,388.59 L85.54,388.60 L85.97,388.87 M87.79,391.68 L87.99,392.12 L88.18,392.55 L88.35,392.96 L88.53,393.43 L88.69,393.89 L88.84,394.35 L88.93,394.63 M89.72,397.85 L89.83,398.35 L89.93,398.86 L90.02,399.36 L90.12,399.86 L90.22,400.37 L90.31,400.87 L90.41,401.37 L90.51,401.87 L90.62,402.37 L90.73,402.86 L90.83,403.36 L90.94,403.85 L91.05,404.34 L91.15,404.83 L91.26,405.33 L91.36,405.82 L91.47,406.31 L91.57,406.81 L91.67,407.30 L91.78,407.79 L91.88,408.29 M92.60,411.85 L92.70,412.34 L92.80,412.83 L92.89,413.33 L92.99,413.82 L93.09,414.32 L93.18,414.81 L93.26,415.21 M93.94,418.88 L94.03,419.37 L94.12,419.87 L94.21,420.36 L94.30,420.86 L94.40,421.36 L94.49,421.85 L94.59,422.35 L94.68,422.84 L94.78,423.34 L94.88,423.83 L94.97,424.32 L95.07,424.82 L95.18,425.31 L95.28,425.81 L95.38,426.30 L95.49,426.79 L95.59,427.29 L95.70,427.78 L95.81,428.27 L95.87,428.57 M96.60,431.91 L96.71,432.41 L96.82,432.90 L96.92,433.39 L97.03,433.89 L97.13,434.38 L97.24,434.87 L97.28,435.07 M97.96,438.43 L98.06,438.93 L98.16,439.42 L98.26,439.91 L98.36,440.41 L98.47,440.90 L98.57,441.39 L98.68,441.89 L98.78,442.38 L98.89,442.87 L99.00,443.36 L99.11,443.85 L99.23,444.35 L99.34,444.83 L99.46,445.32 L99.58,445.81 L99.70,446.30 L99.83,446.79 L99.95,447.28 L100.08,447.77 L100.15,448.06 M101.05,451.37 L101.19,451.86 L101.32,452.34 L101.46,452.83 L101.60,453.31 L101.74,453.80 L101.88,454.28 L101.94,454.47 M102.90,457.76 L103.05,458.25 L103.19,458.73 L103.34,459.21 L103.48,459.70 L103.63,460.18 L103.77,460.66 L103.92,461.14 L104.07,461.63 L104.22,462.11 L104.37,462.59 L104.52,463.07 L104.67,463.55 L104.82,464.03 L104.98,464.51 L105.13,464.99 L105.29,465.47 L105.45,465.95 L105.61,466.43 L105.77,466.91 L105.87,467.19 M107.03,470.42 L107.20,470.89 L107.38,471.37 L107.56,471.84 L107.74,472.31 L107.92,472.79 L108.10,473.26 L108.18,473.45 M109.53,476.60 L109.75,477.05 L109.97,477.50 L110.20,477.94 L110.43,478.39 L110.67,478.83 L110.92,479.27 L111.17,479.71 L111.43,480.15 L111.69,480.58 L111.97,481.02 L112.24,481.44 L112.53,481.87 L112.82,482.29 L113.11,482.70 L113.42,483.10 L113.72,483.50 L114.03,483.89 L114.35,484.27 L114.67,484.65 L114.93,484.95 M117.39,487.44 L117.78,487.78 L118.17,488.11 L118.57,488.42 L118.97,488.72 L119.39,489.00 L119.80,489.26 L120.05,489.41 M123.21,490.87 L123.69,491.05 L124.17,491.22 L124.66,491.38 L125.15,491.54 L125.65,491.68 L126.14,491.82 L126.63,491.95 L127.12,492.07 L127.61,492.17 L128.09,492.28 L128.58,492.38 L129.08,492.48 L129.57,492.58 L130.07,492.67 L130.56,492.77 L131.06,492.85 L131.56,492.94 L132.06,493.02 L132.57,493.09 L133.07,493.16 M136.59,493.47 L137.09,493.49 L137.59,493.51 L138.09,493.53 L138.59,493.55 L139.10,493.57 L139.60,493.59 L139.90,493.60 M143.53,493.72 L144.03,493.73 L144.54,493.74 L145.04,493.76 L145.55,493.77 L146.05,493.78 L146.56,493.79 L147.06,493.80 L147.57,493.81 L148.07,493.81 L148.58,493.82 L149.08,493.83 L149.59,493.83 L150.09,493.84 L150.60,493.84 L151.10,493.85 L151.61,493.85 L152.11,493.85 L152.61,493.85 L153.12,493.85 L153.62,493.85 L153.72,493.85 M157.25,493.85 L157.76,493.85 L158.26,493.85 L158.76,493.85 L159.27,493.85 L159.77,493.85 L160.28,493.85 L160.58,493.85 M164.11,493.85 L164.61,493.85 L165.11,493.85 L165.62,493.85 L166.12,493.85 L166.63,493.85 L167.13,493.85 L167.63,493.85 L168.14,493.85 L168.64,493.85 L169.15,493.85 L169.65,493.85 L170.15,493.85 L170.66,493.85 L171.16,493.85 L171.67,493.85 L172.17,493.85 L172.68,493.85 L173.18,493.85 L173.68,493.85 L174.19,493.85 L174.29,493.85 M177.82,493.85 L178.32,493.85 L178.83,493.85 L179.33,493.85 L179.83,493.85 L180.34,493.85 L180.84,493.85 L181.14,493.85 M184.67,493.85 L185.18,493.85 L185.68,493.85 L186.19,493.85 L186.69,493.85 L187.19,493.85 L187.70,493.85 L188.20,493.85 L188.71,493.85 L189.21,493.85 L189.71,493.85 L190.22,493.85 L190.72,493.85 L191.23,493.85 L191.73,493.85 L192.24,493.85 L192.74,493.85 L193.24,493.85 L193.75,493.85 L194.25,493.85 L194.76,493.85 L194.86,493.85 M198.39,493.85 L198.89,493.85 L199.39,493.85 L199.90,493.85 L200.00,493.85" stroke="#0000FF"/>
<path d="M52.10,493.85 L52.51,493.64 L52.92,493.43 L53.32,493.20 L53.70,492.96 L54.17,492.63 L54.56,492.28 L54.87,491.90 L55.06,491.50 L55.22,491.07 L55.37,490.61 L55.50,490.12 L55.63,489.60 L55.74,489.07 L55.85,488.51 L55.94,487.94 L56.00,487.51 L56.07,487.07 L56.12,486.63 L56.17,486.19 L56.22,485.75 L56.26,485.31 L56.32,484.74 L56.37,484.18 L56.38,484.04 M56.71,479.00 L56.74,478.45 L56.76,477.91 L56.79,477.36 L56.81,476.81 L56.84,476.26 L56.86,475.72 L56.89,475.17 L56.91,474.62 L56.93,474.07 L56.95,473.52 L56.97,472.98 L56.99,472.43 L57.01,471.88 L57.03,471.33 L57.05,470.78 L57.06,470.23 L57.08,469.68 L57.10,469.13 L57.12,468.58 L57.13,468.03 L57.14,467.76 M57.30,462.82 L57.32,462.27 L57.34,461.72 L57.36,461.17 L57.38,460.63 L57.41,460.08 L57.43,459.53 L57.45,458.98 L57.47,458.43 L57.49,457.89 L57.51,457.34 L57.54,456.79 L57.56,456.24 L57.58,455.70 L57.60,455.15 L57.62,454.60 L57.64,454.05 L57.66,453.50 L57.68,452.96 L57.70,452.41 L57.72,451.86 L57.74,451.45 M57.92,446.52 L57.94,445.97 L57.97,445.43 L57.99,444.88 L58.01,444.33 L58.03,443.78 L58.06,443.23 L58.08,442.69 L58.10,442.14 L58.13,441.59 L58.15,441.04 L58.18,440.50 L58.20,439.95 L58.23,439.40 L58.26,438.85 L58.28,438.31 L58.31,437.76 L58.34,437.21 L58.36,436.66 L58.39,436.12 L58.42,435.57 L58.44,435.16 M58.70,430.23 L58.73,429.68 L58.76,429.14 L58.79,428.59 L58.82,428.04 L58.84,427.49 L58.87,426.95 L58.90,426.40 L58.93,425.85 L58.96,425.30 L58.99,424.76 L59.02,424.21 L59.05,423.66 L59.08,423.12 L59.10,422.57 L59.13,422.02 L59.16,421.47 L59.19,420.93 L59.22,420.38 L59.24,419.83 L59.27,419.28 L59.29,418.87 M59.52,413.94 L59.54,413.40 L59.57,412.85 L59.59,412.30 L59.62,411.75 L59.64,411.21 L59.66,410.66 L59.69,410.11 L59.71,409.56 L59.74,409.02 L59.76,408.47 L59.79,407.92 L59.81,407.37 L59.83,406.82 L59.86,406.28 L59.88,405.73 L59.91,405.18 L59.93,404.63 L59.96,404.09 L59.98,403.54 L60.01,402.99 L60.03,402.58 M60.26,397.65 L60.29,397.11 L60.32,396.56 L60.35,396.01 L60.38,395.46 L60.41,394.92 L60.44,394.37 L60.47,393.82 L60.50,393.27 L60.53,392.73 L60.57,392.18 L60.60,391.63 L60.63,391.09 L60.67,390.54 L60.70,389.99 L60.73,389.44 L60.77,388.90 L60.80,388.35 L60.83,387.80 L60.87,387.26 L60.90,386.71 L60.93,386.30 M61.23,381.37 L61.26,380.83 L61.29,380.28 L61.32,379.73 L61.35,379.18 L61.38,378.64 L61.41,378.09 L61.44,377.54 L61.46,376.99 L61.49,376.45 L61.51,375.90 L61.54,375.35 L61.56,374.80 L61.59,374.26 L61.61,373.71 L61.63,373.16 L61.66,372.61 L61.68,372.06 L61.70,371.52 L61.73,370.97 L61.75,370.42 L61.78,369.87 L61.79,369.60 M62.10,364.54 L62.15,364.00 L62.19,363.45 L62.24,362.90 L62.29,362.36 L62.35,361.81 L62.40,361.27 L62.46,360.72 L62.51,360.18 L62.57,359.63 L62.64,359.08 L62.70,358.54 L62.76,357.99 L62.83,357.45 L62.89,356.91 L62.96,356.36 L63.03,355.82 L63.10,355.27 L63.17,354.73 L63.24,354.19 L63.31,353.64 M63.90,348.68 L63.96,348.14 L64.02,347.60 L64.08,347.07 L64.15,346.54 L64.22,346.04 L64.28,345.54 L64.35,345.07 L64.42,344.62 L64.52,344.06 L64.62,343.56 L64.72,343.12 L64.85,342.67 L65.03,342.27 L65.39,342.33 L65.61,342.83 L65.77,343.29 L65.93,343.85 L66.06,344.32 L66.18,344.81 L66.31,345.32 L66.43,345.85 L66.54,346.38 L66.66,346.90 M67.55,352.12 L67.62,352.67 L67.69,353.21 L67.76,353.75 L67.83,354.30 L67.89,354.84 L67.96,355.39 L68.02,355.93 L68.08,356.48 L68.14,357.03 L68.20,357.57 L68.25,358.12 L68.31,358.67 L68.37,359.21 L68.43,359.76 L68.49,360.31 L68.55,360.85 L68.61,361.40 L68.67,361.95 L68.73,362.49 L68.80,363.04 L68.86,363.58 L68.88,363.72 M69.51,369.02 L69.57,369.57 L69.63,370.11 L69.70,370.66 L69.76,371.20 L69.82,371.75 L69.88,372.29 L69.95,372.83 L70.01,373.38 L70.07,373.92 L70.14,374.47 L70.20,375.01 L70.26,375.56 L70.32,376.10 L70.39,376.65 L70.45,377.19 L70.51,377.74 L70.58,378.28 L70.64,378.82 L70.70,379.37 L70.76,379.91 L70.81,380.32 M71.39,385.36 L71.45,385.90 L71.51,386.45 L71.57,386.99 L71.64,387.54 L71.70,388.08 L71.77,388.63 L71.83,389.17 L71.90,389.72 L71.96,390.26 L72.03,390.80 L72.09,391.35 L72.16,391.89 L72.23,392.44 L72.29,392.98 L72.36,393.52 L72.43,394.07 L72.49,394.61 L72.56,395.16 L72.63,395.70 L72.70,396.24 L72.75,396.65 M73.40,401.82 L73.47,402.36 L73.54,402.91 L73.61,403.45 L73.68,403.99 L73.75,404.54 L73.82,405.08 L73.89,405.62 L73.96,406.17 L74.04,406.71 L74.11,407.25 L74.18,407.80 L74.26,408.34 L74.33,408.88 L74.41,409.43 L74.48,409.97 L74.56,410.51 L74.63,411.06 L74.71,411.60 L74.78,412.14 L74.86,412.69 L74.91,413.09 M75.57,418.12 L75.64,418.67 L75.70,419.21 L75.77,419.75 L75.83,420.30 L75.89,420.84 L75.95,421.39 L76.00,421.93 L76.06,422.48 L76.11,423.02 L76.17,423.57 L76.22,424.12 L76.27,424.66 L76.32,425.21 L76.37,425.76 L76.42,426.30 L76.47,426.85 L76.52,427.39 L76.57,427.94 L76.62,428.49 L76.68,429.03 L76.72,429.44 M77.32,434.61 L77.39,435.15 L77.47,435.69 L77.56,436.23 L77.64,436.77 L77.73,437.32 L77.82,437.86 L77.92,438.40 L78.01,438.94 L78.11,439.48 L78.21,440.02 L78.31,440.56 L78.41,441.10 L78.51,441.64 L78.61,442.17 L78.71,442.71 L78.82,443.25 L78.92,443.79 L79.02,444.33 L79.12,444.87 L79.22,445.41 L79.30,445.81 M80.27,450.79 L80.38,451.33 L80.50,451.87 L80.61,452.40 L80.73,452.94 L80.84,453.48 L80.96,454.01 L81.09,454.54 L81.21,455.08 L81.34,455.61 L81.47,456.14 L81.61,456.67 L81.74,457.20 L81.88,457.73 L82.03,458.25 L82.17,458.78 L82.32,459.31 L82.47,459.84 L82.63,460.36 L82.79,460.89 L82.95,461.41 L83.11,461.94 M84.71,466.76 L84.89,467.28 L85.08,467.79 L85.26,468.31 L85.45,468.82 L85.63,469.34 L85.82,469.85 L86.01,470.37 L86.20,470.88 L86.39,471.40 L86.58,471.92 L86.78,472.44 L86.97,472.95 L87.17,473.47 L87.38,473.98 L87.58,474.50 L87.80,475.01 L88.01,475.51 L88.23,476.02 L88.45,476.52 L88.68,477.02 L88.85,477.39 M91.28,481.84 L91.58,482.32 L91.88,482.80 L92.20,483.27 L92.52,483.74 L92.85,484.20 L93.18,484.65 L93.53,485.09 L93.88,485.51 L94.23,485.92 L94.60,486.32 L94.97,486.69 L95.35,487.05 L95.74,487.38 L96.14,487.71 L96.56,488.03 L97.00,488.34 L97.46,488.65 L97.92,488.95 L98.41,489.24 L98.90,489.52 L99.40,489.79 L99.52,489.86 M104.40,491.68 L104.93,491.82 L105.45,491.96 L105.99,492.09 L106.52,492.22 L107.06,492.34 L107.61,492.46 L108.15,492.57 L108.70,492.68 L109.24,492.78 L109.79,492.87 L110.34,492.95 L110.89,493.03 L111.44,493.10 L111.98,493.16 L112.53,493.21 L113.07,493.25 L113.61,493.28 L114.16,493.32 L114.70,493.35 L115.25,493.39 L115.79,493.42 L116.07,493.44 M121.27,493.69 L121.82,493.71 L122.37,493.73 L122.92,493.75 L123.47,493.77 L124.02,493.78 L124.57,493.80 L125.12,493.81 L125.66,493.82 L126.21,493.83 L126.76,493.84 L127.31,493.84 L127.86,493.85 L128.41,493.85 L128.96,493.85 L129.51,493.85 L130.05,493.85 L130.60,493.85 L131.15,493.85 L131.70,493.85 L132.24,493.85 L132.79,493.85 L133.07,493.85 M138.27,493.85 L138.82,493.85 L139.37,493.85 L139.92,493.85 L140.46,493.85 L141.01,493.85 L141.56,493.85 L142.11,493.85 L142.66,493.85 L143.20,493.85 L143.75,493.85 L144.30,493.85 L144.85,493.85 L145.40,493.85 L145.94,493.85 L146.49,493.85 L147.04,493.85 L147.59,493.85 L148.14,493.85 L148.68,493.85 L149.23,493.85 L149.78,493.85 L150.05,493.85 M155.40,493.85 L155.95,493.85 L156.49,493.85 L157.04,493.85 L157.59,493.85 L158.14,493.85 L158.69,493.85 L159.23,493.85 L159.78,493.85 L160.33,493.85 L160.88,493.85 L161.43,493.85 L161.97,493.85 L162.52,493.85 L163.07,493.85 L163.62,493.85 L164.17,493.85 L164.72,493.85 L165.26,493.85 L165.81,493.85 L166.36,493.85 L166.91,493.85 L167.32,493.85 M172.53,493.85 L173.08,493.85 L173.62,493.85 L174.17,493.85 L174.72,493.85 L175.27,493.85 L175.82,493.85 L176.36,493.85 L176.91,493.85 L177.46,493.85 L178.01,493.85 L178.56,493.85 L179.11,493.85 L179.65,493.85 L180.20,493.85 L180.75,493.85 L181.30,493.85 L181.85,493.85 L182.40,493.85 L182.94,493.85 L183.49,493.85 L184.04,493.85 L184.59,493.85 M189.93,493.85 L190.48,493.85 L191.03,493.85 L191.58,493.85 L192.13,493.85 L192.68,493.85 L193.23,493.85 L193.77,493.85 L194.32,493.85 L194.87,493.85 L195.42,493.85 L195.97,493.85 L196.52,493.85 L197.06,493.85 L197.61,493.85 L198.16,493.85 L198.71,493.85 L199.26,493.85 L199.81,493.85 L200.35,493.85 L200.90,493.85 L201.45,493.85 L201.86,493.85" stroke="#A020F0"/>
</g>
<rect x="45.05" y="319.75" width="208.49" height="180.69" fill="none" stroke="#000" stroke-width="0.86"/>
<g transform="translate(52.77,520.04)"><text class="ax" x="-2.50" y="0">0</text></g>
<g transform="translate(101.03,520.04)"><text class="ax" x="-2.50" y="0">5</text></g>
<g transform="translate(149.30,520.04)"><path d="M-2.80,0.00L-2.80,-4.54L-4.28,-4.54L-4.28,-5.08C-3.47,-5.08 -2.75,-5.40 -2.53,-6.33L-1.99,-6.33L-1.99,0.00Z" fill="#000" stroke="none"/><text class="ax" x="0.00" y="0">0</text></g>
<g transform="translate(197.56,520.04)"><path d="M-2.80,0.00L-2.80,-4.54L-4.28,-4.54L-4.28,-5.08C-3.47,-5.08 -2.75,-5.40 -2.53,-6.33L-1.99,-6.33L-1.99,0.00Z" fill="#000" stroke="none"/><text class="ax" x="0.00" y="0">5</text></g>
<g transform="translate(245.82,520.04)"><text class="ax" x="-5.00" y="0">20</text></g>
<g transform="translate(32.15,493.75) rotate(-90)"><text class="ax" x="-6.26" y="0">0.0</text></g>
<g transform="translate(32.15,465.86) rotate(-90)"><text class="ax" x="-6.26" y="0">0.</text><path d="M3.46,0.00L3.46,-4.54L1.97,-4.54L1.97,-5.08C2.78,-5.08 3.50,-5.40 3.73,-6.33L4.27,-6.33L4.27,0.00Z" fill="#000" stroke="none"/></g>
<g transform="translate(32.15,437.98) rotate(-90)"><text class="ax" x="-6.26" y="0">0.2</text></g>
<g transform="translate(32.15,410.10) rotate(-90)"><text class="ax" x="-6.26" y="0">0.3</text></g>
<g transform="translate(32.15,382.21) rotate(-90)"><text class="ax" x="-6.26" y="0">0.4</text></g>
<g transform="translate(32.15,354.33) rotate(-90)"><text class="ax" x="-6.26" y="0">0.5</text></g>
<g transform="translate(32.15,326.44) rotate(-90)"><text class="ax" x="-6.26" y="0">0.6</text></g>
<path d="M52.77,500.44v5.8 M101.03,500.44v5.8 M149.30,500.44v5.8 M197.56,500.44v5.8 M245.82,500.44v5.8 M45.05,493.75h-5.8 M45.05,465.86h-5.8 M45.05,437.98h-5.8 M45.05,410.10h-5.8 M45.05,382.21h-5.8 M45.05,354.33h-5.8 M45.05,326.44h-5.8" stroke="#000" stroke-width="0.86" fill="none"/>
<text class="ax" x="149.29" y="540.10" text-anchor="middle">T</text>
<text class="tt" x="149.29" y="302" text-anchor="middle">Lognormal</text>
<rect x="207.70" y="319.75" width="45.84" height="51.98" fill="#fff" stroke="#000" stroke-width="0.86"/>
<line x1="215.10" y1="330.33" x2="232.30" y2="330.33" stroke="#000000" stroke-width="0.95"/>
<text class="lg" x="240.15" y="333.73" style="fill:#000000">T</text>
<path d="M247.61,335.03L247.61,331.60L246.48,331.60L246.48,331.19C247.10,331.19 247.64,330.95 247.81,330.25L248.22,330.25L248.22,335.03Z" fill="#000000" stroke="none"/>
<path d="M240.74,325.13 c0.45,-1.4 1.3,-1.4 1.9,-0.6 s1.45,0.8 1.9,-0.6" fill="none" stroke="#000000" stroke-width="0.8"/>
<line x1="215.10" y1="340.70" x2="232.30" y2="340.70" stroke="#FF0000" stroke-width="0.95" stroke-dasharray="3.43 3.43"/>
<text class="lg" x="240.15" y="344.03" style="fill:#FF0000">T</text>
<text class="sub" x="246.00" y="345.33" style="fill:#FF0000">2</text>
<path d="M240.74,335.43 c0.45,-1.4 1.3,-1.4 1.9,-0.6 s1.45,0.8 1.9,-0.6" fill="none" stroke="#FF0000" stroke-width="0.8"/>
<line x1="215.10" y1="351.07" x2="232.30" y2="351.07" stroke="#0000FF" stroke-width="0.95" stroke-dasharray="1.71 1.71 5.14 1.71"/>
<text class="lg" x="240.15" y="354.33" style="fill:#0000FF">T</text>
<text class="sub" x="246.00" y="355.63" style="fill:#0000FF">3</text>
<path d="M240.74,345.73 c0.45,-1.4 1.3,-1.4 1.9,-0.6 s1.45,0.8 1.9,-0.6" fill="none" stroke="#0000FF" stroke-width="0.8"/>
<line x1="215.10" y1="361.44" x2="232.30" y2="361.44" stroke="#A020F0" stroke-width="0.95" stroke-dasharray="6.00 2.57"/>
<text class="lg" x="240.15" y="364.63" style="fill:#A020F0">T</text>
<text class="sub" x="246.00" y="365.93" style="fill:#A020F0">4</text>
<path d="M240.74,356.03 c0.45,-1.4 1.3,-1.4 1.9,-0.6 s1.45,0.8 1.9,-0.6" fill="none" stroke="#A020F0" stroke-width="0.8"/>
</g>
<g>
<clipPath id="cp5"><rect x="321.5" y="319.75" width="208.96000000000004" height="180.69"/></clipPath>
<line x1="321.5" y1="493.75" x2="530.46" y2="493.75" stroke="#e6e6e6" stroke-width="1"/>
<g clip-path="url(#cp5)" fill="none" stroke-width="2.0" stroke-linecap="butt" stroke-linejoin="round">
<path d="M321.60,481.95 L321.71,481.53 L321.82,481.12 L321.93,480.70 L322.04,480.28 L322.14,479.86 L322.25,479.45 L322.36,479.03 L322.47,478.61 L322.58,478.19 L322.68,477.78 L322.79,477.36 L322.90,476.94 L323.00,476.52 L323.11,476.10 L323.22,475.69 L323.32,475.27 L323.43,474.85 L323.53,474.43 L323.64,474.01 L323.74,473.60 L323.84,473.18 L323.95,472.76 L324.05,472.34 L324.16,471.92 L324.26,471.50 L324.36,471.08 L324.46,470.67 L324.57,470.25 L324.67,469.83 L324.77,469.41 L324.87,468.99 L324.97,468.57 L325.08,468.15 L325.18,467.73 L325.27,467.31 L325.37,466.89 L325.47,466.47 L325.56,466.05 L325.65,465.63 L325.75,465.21 L325.84,464.78 L325.93,464.36 L326.02,463.94 L326.11,463.52 L326.20,463.09 L326.29,462.67 L326.37,462.25 L326.46,461.82 L326.55,461.40 L326.64,460.98 L326.73,460.56 L326.82,460.13 L326.92,459.71 L327.01,459.29 L327.10,458.87 L327.20,458.45 L327.30,458.03 L327.40,457.61 L327.50,457.19 L327.60,456.77 L327.70,456.36 L327.81,455.94 L327.92,455.53 L328.03,455.11 L328.14,454.70 L328.26,454.28 L328.38,453.87 L328.50,453.46 L328.62,453.04 L328.75,452.62 L328.87,452.20 L329.00,451.78 L329.13,451.36 L329.27,450.94 L329.41,450.52 L329.55,450.11 L329.70,449.70 L329.85,449.30 L330.02,448.90 L330.18,448.51 L330.36,448.12 L330.54,447.74 L330.73,447.38 L330.94,447.00 L331.16,446.59 L331.42,446.15 L331.69,445.71 L331.97,445.29 L332.27,444.92 L332.57,444.60 L332.88,444.38 L333.18,444.26 L333.48,444.27 L333.82,444.40 L334.17,444.63 L334.52,444.93 L334.88,445.27 L335.21,445.65 L335.52,446.03 L335.79,446.40 L336.02,446.73 L336.22,447.08 L336.42,447.44 L336.60,447.81 L336.77,448.20 L336.93,448.60 L337.09,449.01 L337.24,449.42 L337.38,449.84 L337.52,450.26 L337.66,450.69 L337.80,451.11 L337.94,451.53 L338.08,451.96 L338.22,452.37 L338.37,452.78 L338.52,453.18 L338.67,453.59 L338.82,453.99 L338.97,454.40 L339.11,454.80 L339.26,455.21 L339.40,455.62 L339.54,456.02 L339.69,456.43 L339.83,456.84 L339.97,457.25 L340.11,457.65 L340.25,458.06 L340.39,458.47 L340.54,458.88 L340.68,459.28 L340.83,459.69 L340.97,460.09 L341.12,460.50 L341.27,460.90 L341.43,461.30 L341.58,461.71 L341.74,462.11 L341.89,462.51 L342.05,462.91 L342.20,463.32 L342.36,463.73 L342.51,464.13 L342.67,464.54 L342.82,464.95 L342.98,465.35 L343.14,465.76 L343.30,466.16 L343.46,466.57 L343.63,466.97 L343.80,467.37 L343.97,467.76 L344.14,468.16 L344.32,468.55 L344.51,468.93 L344.69,469.32 L344.89,469.70 L345.08,470.07 L345.28,470.45 L345.49,470.81 L345.71,471.18 L345.94,471.55 L346.17,471.91 L346.41,472.27 L346.66,472.63 L346.92,472.99 L347.18,473.34 L347.45,473.69 L347.72,474.03 L348.00,474.37 L348.28,474.69 L348.57,475.01 L348.87,475.32 L349.16,475.61 L349.47,475.90 L349.78,476.19 L350.10,476.48 L350.43,476.76 L350.77,477.04 L351.11,477.31 L351.47,477.58 L351.82,477.84 L352.19,478.09 L352.55,478.33 L352.92,478.56 L353.29,478.78 L353.67,478.98 L354.04,479.18 L354.42,479.35 L354.81,479.52 L355.20,479.69 L355.60,479.85 L356.00,480.00 L356.40,480.15 L356.81,480.29 L357.23,480.43 L357.64,480.56 L358.06,480.69 L358.48,480.81 L358.90,480.93 L359.32,481.05 L359.74,481.16 L360.16,481.27 L360.58,481.37 L360.99,481.47 L361.41,481.57 L361.83,481.67 L362.25,481.76 L362.67,481.86 L363.09,481.95 L363.51,482.04 L363.94,482.13 L364.36,482.21 L364.79,482.30 L365.21,482.38 L365.64,482.46 L366.06,482.54 L366.49,482.61 L366.91,482.68 L367.34,482.75 L367.77,482.82 L368.19,482.88 L368.62,482.94 L369.05,483.00 L369.47,483.06 L369.90,483.11 L370.33,483.17 L370.75,483.22 L371.18,483.27 L371.61,483.33 L372.04,483.38 L372.46,483.42 L372.89,483.47 L373.32,483.52 L373.75,483.57 L374.18,483.61 L374.61,483.66 L375.04,483.70 L375.47,483.74 L375.90,483.78 L376.33,483.82 L376.76,483.86 L377.19,483.89 L377.62,483.93 L378.05,483.96 L378.48,484.00 L378.91,484.03 L379.34,484.06 L379.77,484.09 L380.20,484.11 L380.63,484.14 L381.06,484.16 L381.49,484.19 L381.92,484.21 L382.35,484.23 L382.78,484.26 L383.21,484.28 L383.64,484.30 L384.07,484.32 L384.50,484.34 L384.94,484.36 L385.37,484.38 L385.80,484.40 L386.23,484.42 L386.66,484.44 L387.09,484.45 L387.52,484.47 L387.95,484.49 L388.38,484.50 L388.81,484.52 L389.24,484.53 L389.68,484.55 L390.11,484.56 L390.54,484.57 L390.97,484.59 L391.40,484.60 L391.83,484.61 L392.26,484.62 L392.69,484.63 L393.12,484.64 L393.56,484.65 L393.99,484.66 L394.42,484.67 L394.85,484.68 L395.28,484.69 L395.71,484.70 L396.14,484.70 L396.57,484.71 L397.00,484.72 L397.44,484.72 L397.87,484.73 L398.30,484.73 L398.73,484.74 L399.16,484.75 L399.59,484.75 L400.02,484.76 L400.45,484.76 L400.88,484.77 L401.32,484.77 L401.75,484.78 L402.18,484.79 L402.61,484.79 L403.04,484.80 L403.47,484.80 L403.90,484.81 L404.33,484.82 L404.76,484.82 L405.20,484.83 L405.63,484.84 L406.06,484.85 L406.49,484.86 L406.92,484.87 L407.35,484.88 L407.78,484.89 L408.21,484.90 L408.64,484.91 L409.07,484.92 L409.51,484.93 L409.94,484.94 L410.37,484.95 L410.80,484.96 L411.23,484.97 L411.66,484.99 L412.09,485.00 L412.52,485.01 L412.95,485.02 L413.39,485.04 L413.82,485.05 L414.25,485.06 L414.68,485.07 L415.11,485.09 L415.54,485.10 L415.97,485.12 L416.40,485.13 L416.83,485.14 L417.26,485.16 L417.69,485.17 L418.13,485.19 L418.56,485.20 L418.99,485.22 L419.42,485.23 L419.85,485.25 L420.28,485.26 L420.71,485.28 L421.14,485.29 L421.57,485.31 L422.00,485.33 L422.43,485.34 L422.87,485.36 L423.30,485.37 L423.73,485.39 L424.16,485.41 L424.59,485.42 L425.02,485.44 L425.45,485.46 L425.88,485.47 L426.31,485.49 L426.74,485.51 L427.17,485.52 L427.60,485.54 L428.04,485.56 L428.47,485.58 L428.90,485.60 L429.33,485.62 L429.76,485.64 L430.19,485.65 L430.62,485.67 L431.05,485.69 L431.48,485.71 L431.91,485.73 L432.34,485.75 L432.77,485.78 L433.20,485.80 L433.63,485.82 L434.06,485.84 L434.50,485.86 L434.93,485.88 L435.36,485.90 L435.79,485.92 L436.22,485.95 L436.65,485.97 L437.08,485.99 L437.51,486.01 L437.94,486.04 L438.37,486.06 L438.80,486.08 L439.23,486.11 L439.66,486.13 L440.09,486.15 L440.52,486.18 L440.95,486.20 L441.39,486.22 L441.82,486.25 L442.25,486.27 L442.68,486.30 L443.11,486.32 L443.54,486.34 L443.97,486.37 L444.40,486.39 L444.83,486.42 L445.26,486.44 L445.69,486.47 L446.12,486.49 L446.55,486.52 L446.98,486.54 L447.41,486.56 L447.84,486.59 L448.27,486.61 L448.70,486.64 L449.13,486.66 L449.56,486.69 L449.99,486.71 L450.42,486.74 L450.86,486.76 L451.29,486.79 L451.72,486.82 L452.15,486.84 L452.58,486.87 L453.01,486.90 L453.44,486.92 L453.87,486.95 L454.30,486.98 L454.73,487.01 L455.16,487.03 L455.59,487.06 L456.02,487.09 L456.45,487.12 L456.88,487.15 L457.31,487.18 L457.74,487.21 L458.17,487.24 L458.60,487.27 L459.03,487.30 L459.46,487.32 L459.89,487.35 L460.32,487.39 L460.75,487.42 L461.18,487.45 L461.61,487.48 L462.04,487.51 L462.47,487.54 L462.90,487.57 L463.33,487.60 L463.76,487.63 L464.19,487.66 L464.62,487.69 L465.05,487.72 L465.48,487.75 L465.91,487.78 L466.34,487.81 L466.77,487.84 L467.20,487.87 L467.63,487.90 L468.06,487.93 L468.49,487.96 L468.92,487.99 L469.35,488.02 L469.78,488.05 L470.21,488.08 L470.64,488.11 L471.07,488.14 L471.50,488.17 L471.93,488.20 L472.36,488.23 L472.79,488.25 L473.22,488.28 L473.65,488.31 L474.08,488.34 L474.52,488.36 L474.95,488.39 L475.38,488.42 L475.81,488.44 L476.24,488.47 L476.67,488.50 L477.10,488.52 L477.53,488.55 L477.96,488.57 L478.39,488.60 L478.82,488.62 L479.25,488.65 L479.68,488.67 L480.11,488.70 L480.54,488.72 L480.97,488.75 L481.40,488.77 L481.83,488.80 L482.26,488.82 L482.69,488.85 L483.12,488.87 L483.55,488.90 L483.98,488.92 L484.41,488.95 L484.85,488.97 L485.28,488.99 L485.71,489.02 L486.14,489.04 L486.57,489.06 L487.00,489.09 L487.43,489.11 L487.86,489.14 L488.29,489.16 L488.72,489.18 L489.15,489.21 L489.58,489.23 L490.01,489.25 L490.44,489.28 L490.87,489.30 L491.30,489.32 L491.73,489.35 L492.16,489.37 L492.59,489.39 L493.03,489.41 L493.46,489.44 L493.89,489.46 L494.32,489.48 L494.75,489.51 L495.18,489.53 L495.61,489.55 L496.04,489.58 L496.47,489.60 L496.90,489.62 L497.33,489.64 L497.76,489.67 L498.19,489.69 L498.62,489.71 L499.05,489.74 L499.48,489.76 L499.91,489.78 L500.34,489.80 L500.78,489.83 L501.21,489.85 L501.64,489.87 L502.07,489.90 L502.50,489.92 L502.93,489.94 L503.36,489.96 L503.79,489.99 L504.22,490.01 L504.65,490.03 L505.08,490.06 L505.51,490.08 L505.94,490.10 L506.37,490.12 L506.80,490.15 L507.23,490.17 L507.66,490.19 L508.09,490.21 L508.53,490.24 L508.96,490.26 L509.39,490.28 L509.82,490.30 L510.25,490.33 L510.68,490.35 L511.11,490.37 L511.54,490.39 L511.97,490.42 L512.40,490.44 L512.83,490.46 L513.26,490.48 L513.69,490.51 L514.12,490.53 L514.55,490.55 L514.98,490.57 L515.41,490.60 L515.85,490.62 L516.28,490.64 L516.71,490.66 L517.14,490.68 L517.57,490.71 L518.00,490.73 L518.43,490.75 L518.86,490.77 L519.29,490.79 L519.72,490.82 L520.15,490.84 L520.58,490.86 L521.01,490.88 L521.44,490.90 L521.87,490.92 L522.30,490.95 L522.73,490.97 L523.17,490.99 L523.60,491.01 L524.03,491.03 L524.46,491.05 L524.89,491.08 L525.32,491.10 L525.75,491.12 L526.18,491.14 L526.61,491.16 L527.04,491.18 L527.47,491.21 L527.90,491.23 L528.33,491.25 L528.76,491.27 L529.19,491.29 L529.62,491.31 L530.06,491.33 L530.40,491.35" stroke="#000000"/>
<path d="M321.60,494.05 L321.89,493.59 L322.17,493.14 L322.45,492.68 L322.72,492.21 L322.98,491.75 L323.22,491.28 L323.45,490.80 L323.64,490.32 L323.81,489.84 L323.96,489.35 L324.03,489.05 M325.27,482.43 L325.35,481.90 L325.41,481.37 L325.48,480.84 L325.55,480.31 L325.61,479.78 L325.68,479.26 L325.74,478.73 L325.80,478.21 L325.87,477.69 L325.93,477.16 L325.99,476.64 L326.05,476.12 L326.07,475.91 M326.72,469.19 L326.76,468.66 L326.80,468.14 L326.84,467.61 L326.88,467.08 L326.93,466.56 L326.96,466.03 L327.00,465.51 L327.04,464.98 L327.08,464.46 L327.11,463.93 L327.15,463.40 L327.18,462.88 L327.19,462.67 M327.56,455.93 L327.58,455.40 L327.61,454.87 L327.64,454.35 L327.67,453.82 L327.70,453.30 L327.73,452.77 L327.77,452.24 L327.80,451.72 L327.83,451.19 L327.87,450.67 L327.91,450.14 L327.95,449.61 L327.96,449.40 M328.56,442.68 L328.61,442.16 L328.66,441.63 L328.72,441.11 L328.77,440.58 L328.82,440.06 L328.87,439.53 L328.92,439.01 L328.97,438.49 L329.02,437.96 L329.07,437.44 L329.12,436.91 L329.17,436.39 L329.20,436.07 M329.74,429.34 L329.77,428.81 L329.81,428.29 L329.85,427.76 L329.90,427.23 L329.94,426.71 L329.98,426.18 L330.03,425.66 L330.07,425.13 L330.12,424.61 L330.17,424.08 L330.22,423.56 L330.28,423.04 L330.30,422.83 M331.13,416.16 L331.21,415.66 L331.29,415.19 L331.37,414.75 L331.48,414.26 L331.61,413.76 L331.76,413.33 L332.06,413.08 L332.26,413.47 L332.40,413.90 L332.54,414.43 L332.65,414.92 L332.77,415.44 L332.88,415.98 L332.90,416.12 M333.95,422.73 L334.02,423.26 L334.08,423.78 L334.15,424.30 L334.21,424.83 L334.28,425.35 L334.35,425.87 L334.42,426.40 L334.49,426.92 L334.57,427.44 L334.64,427.96 L334.71,428.49 L334.79,429.01 L334.82,429.22 M335.75,435.90 L335.82,436.42 L335.89,436.94 L335.96,437.47 L336.02,437.99 L336.08,438.52 L336.15,439.04 L336.21,439.57 L336.27,440.09 L336.33,440.62 L336.39,441.14 L336.45,441.66 L336.51,442.19 L336.53,442.29 M337.67,448.93 L337.80,449.44 L337.93,449.95 L338.07,450.46 L338.21,450.97 L338.35,451.48 L338.49,451.99 L338.63,452.50 L338.77,453.01 L338.91,453.52 L339.04,454.03 L339.18,454.55 L339.33,455.06 L339.35,455.16 M342.15,461.38 L342.46,461.82 L342.78,462.25 L343.12,462.65 L343.46,463.04 L343.81,463.39 L344.17,463.71 L344.55,464.01 L344.96,464.30 L345.39,464.58 L345.84,464.84 L346.30,465.10 L346.79,465.34 L347.08,465.48 M353.59,467.89 L354.10,468.04 L354.61,468.18 L355.12,468.31 L355.63,468.45 L356.14,468.58 L356.66,468.71 L357.17,468.84 L357.68,468.97 L358.19,469.10 L358.70,469.22 L359.22,469.34 L359.73,469.46 L360.04,469.53 M366.85,470.97 L367.36,471.08 L367.88,471.20 L368.39,471.32 L368.91,471.44 L369.42,471.55 L369.93,471.67 L370.45,471.79 L370.96,471.91 L371.48,472.03 L371.99,472.15 L372.50,472.27 L373.02,472.40 L373.32,472.47 M380.04,474.26 L380.55,474.41 L381.05,474.57 L381.55,474.72 L382.06,474.88 L382.56,475.05 L383.06,475.21 L383.56,475.37 L384.06,475.54 L384.56,475.71 L385.06,475.87 L385.57,476.04 L386.07,476.20 L386.37,476.30 M393.02,478.34 L393.53,478.49 L394.03,478.64 L394.54,478.79 L395.04,478.95 L395.55,479.10 L396.05,479.26 L396.55,479.41 L397.06,479.57 L397.56,479.74 L398.06,479.90 L398.56,480.07 L399.05,480.24 L399.35,480.35 M405.85,482.85 L406.34,483.03 L406.84,483.22 L407.33,483.40 L407.83,483.58 L408.32,483.75 L408.82,483.93 L409.32,484.09 L409.82,484.26 L410.32,484.43 L410.82,484.60 L411.32,484.77 L411.82,484.93 L412.12,485.03 M418.81,486.95 L419.32,487.08 L419.83,487.21 L420.34,487.33 L420.85,487.46 L421.36,487.59 L421.88,487.71 L422.39,487.84 L422.90,487.96 L423.42,488.08 L423.93,488.20 L424.45,488.32 L424.96,488.43 L425.27,488.50 M432.00,489.86 L432.51,489.95 L433.03,490.04 L433.55,490.13 L434.07,490.21 L434.59,490.29 L435.11,490.38 L435.63,490.46 L436.15,490.54 L436.67,490.62 L437.19,490.70 L437.71,490.78 L438.23,490.86 L438.76,490.93 M445.66,491.84 L446.19,491.90 L446.71,491.96 L447.24,492.01 L447.76,492.07 L448.29,492.12 L448.81,492.18 L449.33,492.23 L449.86,492.28 L450.38,492.33 L450.91,492.38 L451.43,492.43 L451.96,492.47 L452.48,492.52 M459.42,493.10 L459.95,493.13 L460.47,493.17 L461.00,493.21 L461.52,493.24 L462.05,493.28 L462.58,493.31 L463.10,493.34 L463.63,493.37 L464.16,493.40 L464.68,493.43 L465.21,493.45 L465.74,493.48 L466.16,493.50 M473.22,493.74 L473.74,493.75 L474.27,493.77 L474.80,493.78 L475.32,493.80 L475.85,493.81 L476.38,493.83 L476.91,493.84 L477.43,493.85 L477.96,493.86 L478.49,493.87 L479.01,493.88 L479.54,493.89 L479.96,493.90 M486.92,493.96 L487.45,493.97 L487.98,493.97 L488.50,493.97 L489.03,493.97 L489.56,493.98 L490.08,493.98 L490.61,493.98 L491.14,493.98 L491.67,493.99 L492.19,493.99 L492.72,493.99 L493.25,493.99 L493.77,493.99 M500.73,494.02 L501.26,494.02 L501.79,494.02 L502.31,494.02 L502.84,494.02 L503.37,494.03 L503.90,494.03 L504.42,494.03 L504.95,494.03 L505.48,494.03 L506.00,494.03 L506.53,494.03 L507.06,494.04 L507.48,494.04 M514.44,494.05 L514.97,494.05 L515.49,494.05 L516.02,494.05 L516.55,494.05 L517.08,494.05 L517.60,494.05 L518.13,494.05 L518.66,494.05 L519.19,494.05 L519.71,494.05 L520.24,494.05 L520.77,494.05 L521.19,494.05" stroke="#FF0000"/>
<path d="M322.60,494.05 L322.91,493.63 L323.22,493.20 L323.47,492.86 M324.75,489.77 L324.85,489.29 L324.94,488.80 L325.03,488.31 L325.12,487.82 L325.20,487.32 L325.27,486.81 L325.35,486.31 L325.41,485.80 L325.48,485.29 L325.54,484.77 L325.60,484.26 L325.65,483.74 L325.70,483.22 L325.75,482.70 L325.80,482.18 L325.84,481.66 L325.88,481.14 L325.93,480.62 L325.96,480.11 L325.97,480.00 M326.22,476.54 L326.25,476.03 L326.28,475.52 L326.31,475.02 L326.34,474.51 L326.36,474.00 L326.39,473.49 L326.40,473.29 M326.56,469.93 L326.58,469.42 L326.60,468.91 L326.62,468.40 L326.65,467.89 L326.67,467.38 L326.69,466.87 L326.71,466.36 L326.73,465.85 L326.75,465.34 L326.77,464.83 L326.79,464.32 L326.81,463.81 L326.83,463.30 L326.85,462.79 L326.87,462.28 L326.89,461.77 L326.91,461.26 L326.93,460.76 L326.96,460.25 L326.96,460.04 M327.12,456.58 L327.14,456.07 L327.17,455.56 L327.19,455.05 L327.21,454.54 L327.23,454.04 L327.25,453.53 L327.26,453.42 M327.41,449.96 L327.43,449.45 L327.45,448.94 L327.48,448.44 L327.50,447.93 L327.52,447.42 L327.55,446.91 L327.57,446.40 L327.59,445.89 L327.62,445.38 L327.64,444.87 L327.67,444.36 L327.69,443.85 L327.72,443.35 L327.74,442.84 L327.77,442.33 L327.79,441.82 L327.82,441.31 L327.84,440.80 L327.87,440.29 L327.88,440.09 M328.07,436.63 L328.10,436.12 L328.12,435.61 L328.15,435.10 L328.18,434.59 L328.21,434.08 L328.24,433.58 L328.24,433.47 M328.44,430.01 L328.47,429.51 L328.50,429.00 L328.53,428.49 L328.56,427.98 L328.59,427.47 L328.62,426.96 L328.65,426.45 L328.67,425.94 L328.70,425.44 L328.73,424.93 L328.76,424.42 L328.78,423.91 L328.81,423.40 L328.84,422.89 L328.87,422.38 L328.89,421.87 L328.92,421.36 L328.95,420.85 L328.97,420.35 L328.99,420.14 M329.18,416.78 L329.21,416.28 L329.25,415.77 L329.28,415.26 L329.31,414.75 L329.35,414.24 L329.39,413.73 L329.40,413.53 M329.70,410.08 L329.75,409.57 L329.81,409.07 L329.86,408.56 L329.92,408.05 L329.98,407.55 L330.04,407.04 L330.10,406.54 L330.16,406.03 L330.22,405.52 L330.29,405.02 L330.35,404.51 L330.41,404.01 L330.47,403.47 L330.52,403.00 L330.57,402.51 L330.62,402.00 L330.67,401.48 L330.72,400.94 L330.78,400.40 L330.79,400.27 M331.16,396.85 L331.23,396.39 L331.30,395.94 L331.41,395.48 L331.61,395.64 L331.68,396.12 L331.74,396.57 L331.77,396.88 M332.03,400.33 L332.07,400.85 L332.10,401.36 L332.14,401.84 L332.18,402.28 L332.23,402.79 L332.29,403.30 L332.34,403.81 L332.39,404.31 L332.44,404.82 L332.49,405.33 L332.54,405.84 L332.59,406.34 L332.65,406.85 L332.70,407.36 L332.75,407.86 L332.80,408.37 L332.85,408.88 L332.91,409.38 L332.96,409.89 L332.98,410.09 M333.33,413.54 L333.38,414.05 L333.43,414.56 L333.48,415.06 L333.53,415.57 L333.58,416.08 L333.63,416.58 L333.64,416.69 M333.98,420.13 L334.03,420.64 L334.08,421.15 L334.13,421.66 L334.18,422.16 L334.24,422.67 L334.29,423.18 L334.35,423.68 L334.40,424.19 L334.46,424.69 L334.52,425.20 L334.58,425.71 L334.63,426.21 L334.69,426.72 L334.75,427.23 L334.81,427.73 L334.87,428.24 L334.93,428.75 L334.99,429.25 L335.05,429.76 L335.07,429.86 M335.52,433.19 L335.60,433.70 L335.68,434.20 L335.76,434.70 L335.84,435.20 L335.93,435.70 L336.02,436.21 L336.06,436.41 M336.76,439.71 L336.88,440.20 L337.01,440.69 L337.14,441.18 L337.28,441.67 L337.42,442.16 L337.57,442.65 L337.72,443.14 L337.88,443.63 L338.05,444.12 L338.23,444.61 L338.41,445.10 L338.61,445.57 L338.81,446.05 L339.01,446.51 L339.23,446.96 L339.46,447.41 L339.69,447.84 L339.94,448.26 L340.22,448.68 L340.33,448.85 M342.63,451.53 L343.00,451.88 L343.38,452.23 L343.76,452.56 L344.14,452.88 L344.53,453.19 L344.93,453.48 L345.09,453.60 M348.07,455.40 L348.53,455.64 L348.98,455.89 L349.44,456.13 L349.89,456.37 L350.34,456.62 L350.79,456.86 L351.24,457.10 L351.69,457.34 L352.14,457.57 L352.59,457.80 L353.05,458.03 L353.50,458.25 L353.96,458.48 L354.42,458.70 L354.88,458.93 L355.34,459.15 L355.80,459.37 L356.26,459.59 L356.72,459.82 L357.08,460.00 M360.20,461.51 L360.67,461.73 L361.13,461.95 L361.59,462.17 L362.05,462.39 L362.51,462.61 L362.97,462.83 L363.15,462.93 M366.17,464.60 L366.59,464.87 L367.02,465.15 L367.44,465.44 L367.86,465.73 L368.27,466.03 L368.68,466.33 L369.09,466.63 L369.50,466.94 L369.91,467.25 L370.32,467.56 L370.73,467.86 L371.13,468.17 L371.54,468.48 L371.95,468.79 L372.36,469.09 L372.76,469.40 L373.16,469.72 L373.56,470.03 L373.96,470.35 L374.28,470.60 M377.00,472.75 L377.40,473.07 L377.81,473.38 L378.21,473.68 L378.62,473.99 L379.03,474.29 L379.44,474.59 L379.61,474.71 M382.43,476.72 L382.85,477.02 L383.26,477.31 L383.68,477.60 L384.10,477.89 L384.51,478.19 L384.93,478.48 L385.34,478.78 L385.76,479.08 L386.17,479.37 L386.59,479.67 L387.00,479.97 L387.41,480.27 L387.83,480.56 L388.25,480.86 L388.66,481.15 L389.08,481.44 L389.50,481.73 L389.92,482.01 L390.35,482.29 L390.60,482.46 M393.63,484.37 L394.06,484.64 L394.50,484.91 L394.94,485.17 L395.38,485.43 L395.83,485.68 L396.27,485.93 L396.45,486.03 M399.55,487.51 L400.02,487.71 L400.50,487.90 L400.97,488.09 L401.45,488.27 L401.93,488.45 L402.41,488.62 L402.89,488.80 L403.37,488.96 L403.86,489.13 L404.34,489.29 L404.83,489.45 L405.31,489.60 L405.80,489.76 L406.29,489.91 L406.77,490.06 L407.26,490.20 L407.75,490.35 L408.24,490.49 L408.73,490.63 L409.12,490.74 M412.58,491.62 L413.08,491.73 L413.58,491.83 L414.08,491.92 L414.58,492.02 L415.08,492.11 L415.58,492.20 L415.78,492.23 M419.32,492.75 L419.82,492.81 L420.33,492.86 L420.83,492.92 L421.34,492.97 L421.85,493.02 L422.35,493.07 L422.86,493.13 L423.37,493.18 L423.88,493.23 L424.38,493.28 L424.89,493.33 L425.40,493.37 L425.91,493.42 L426.42,493.46 L426.92,493.51 L427.43,493.55 L427.94,493.59 L428.45,493.62 L428.96,493.66 L429.37,493.69 M432.83,493.84 L433.34,493.85 L433.85,493.85 L434.36,493.86 L434.86,493.86 L435.37,493.87 L435.88,493.87 L436.19,493.87 M439.75,493.90 L440.26,493.91 L440.77,493.91 L441.28,493.92 L441.78,493.92 L442.29,493.92 L442.80,493.93 L443.31,493.93 L443.82,493.94 L444.33,493.94 L444.84,493.94 L445.35,493.95 L445.86,493.95 L446.37,493.95 L446.88,493.96 L447.38,493.96 L447.89,493.96 L448.40,493.97 L448.91,493.97 L449.42,493.97 L449.93,493.97 M453.39,493.99 L453.90,493.99 L454.41,494.00 L454.92,494.00 L455.43,494.00 L455.94,494.00 L456.45,494.01 L456.76,494.01 M460.32,494.02 L460.83,494.02 L461.34,494.02 L461.85,494.03 L462.36,494.03 L462.87,494.03 L463.38,494.03 L463.89,494.03 L464.40,494.03 L464.91,494.03 L465.42,494.03 L465.93,494.04 L466.44,494.04 L466.95,494.04 L467.46,494.04 L467.97,494.04 L468.48,494.04 L468.99,494.04 L469.50,494.04 L470.01,494.04 L470.52,494.04 M473.99,494.05 L474.50,494.05 L475.01,494.05 L475.52,494.05 L476.03,494.05 L476.54,494.05 L477.05,494.05 L477.36,494.05" stroke="#0000FF"/>
<path d="M327.00,494.05 L327.06,493.59 L327.12,493.13 L327.18,492.66 L327.24,492.20 L327.29,491.74 L327.35,491.28 L327.41,490.82 L327.47,490.35 L327.52,489.89 L327.58,489.43 L327.63,488.97 L327.68,488.51 L327.73,488.04 L327.77,487.58 L327.81,487.12 L327.85,486.66 L327.89,486.19 L327.92,485.73 L327.95,485.27 L327.98,484.80 L327.99,484.46 M328.16,479.35 L328.17,478.89 L328.18,478.42 L328.19,477.96 L328.20,477.50 L328.21,477.03 L328.22,476.57 L328.23,476.10 L328.24,475.64 L328.25,475.17 L328.26,474.71 L328.27,474.24 L328.28,473.78 L328.29,473.31 L328.30,472.85 L328.30,472.38 L328.31,471.92 L328.32,471.45 L328.33,470.99 L328.33,470.52 L328.34,470.06 L328.35,469.59 L328.36,469.13 L328.36,468.66 L328.37,468.20 L328.38,467.85 M328.46,462.73 L328.46,462.27 L328.47,461.80 L328.48,461.34 L328.49,460.87 L328.50,460.41 L328.51,459.94 L328.51,459.48 L328.52,459.01 L328.53,458.55 L328.54,458.09 L328.55,457.62 L328.56,457.16 L328.57,456.69 L328.58,456.23 L328.59,455.76 L328.60,455.30 L328.61,454.83 L328.62,454.37 L328.62,453.90 L328.63,453.44 L328.64,452.97 L328.65,452.51 L328.66,452.04 L328.67,451.58 L328.68,451.23 M328.78,446.12 L328.79,445.65 L328.79,445.19 L328.80,444.73 L328.81,444.26 L328.82,443.80 L328.83,443.33 L328.84,442.87 L328.84,442.40 L328.85,441.94 L328.86,441.47 L328.87,441.01 L328.88,440.54 L328.88,440.08 L328.89,439.61 L328.90,439.15 L328.91,438.68 L328.92,438.22 L328.92,437.75 L328.93,437.29 L328.94,436.82 L328.94,436.36 L328.95,435.90 L328.96,435.43 L328.96,434.97 L328.97,434.62 M329.03,429.51 L329.04,429.04 L329.04,428.58 L329.05,428.11 L329.06,427.65 L329.06,427.18 L329.07,426.72 L329.07,426.25 L329.08,425.79 L329.08,425.32 L329.09,424.86 L329.09,424.39 L329.10,423.93 L329.10,423.46 L329.11,423.00 L329.11,422.53 L329.12,422.07 L329.12,421.60 L329.13,421.14 L329.13,420.67 L329.14,420.21 L329.14,419.75 L329.15,419.28 L329.15,418.82 L329.16,418.35 L329.16,418.00 M329.21,412.89 L329.21,412.42 L329.22,411.96 L329.22,411.50 L329.22,411.03 L329.23,410.57 L329.23,410.10 L329.23,409.64 L329.24,409.17 L329.24,408.71 L329.25,408.24 L329.25,407.78 L329.25,407.31 L329.26,406.85 L329.26,406.38 L329.26,405.92 L329.27,405.45 L329.27,404.99 L329.27,404.52 L329.28,404.06 L329.28,403.59 L329.28,403.13 L329.29,402.66 L329.29,402.20 L329.29,401.74 L329.29,401.39 M329.32,396.27 L329.32,395.81 L329.33,395.34 L329.33,394.88 L329.33,394.41 L329.33,393.95 L329.33,393.49 L329.34,393.02 L329.34,392.56 L329.34,392.09 L329.34,391.63 L329.34,391.16 L329.35,390.70 L329.35,390.23 L329.35,389.77 L329.35,389.30 L329.35,388.84 L329.35,388.37 L329.36,387.91 L329.36,387.44 L329.36,386.98 L329.36,386.51 L329.36,386.05 L329.37,385.58 L329.37,385.12 L329.37,384.77 M329.39,379.66 L329.39,379.19 L329.39,378.73 L329.39,378.26 L329.40,377.80 L329.40,377.33 L329.40,376.87 L329.40,376.40 L329.40,375.94 L329.41,375.47 L329.41,375.01 L329.41,374.55 L329.41,374.08 L329.41,373.62 L329.42,373.15 L329.42,372.69 L329.42,372.22 L329.42,371.76 L329.42,371.29 L329.42,370.83 L329.42,370.36 L329.43,369.90 L329.43,369.43 L329.43,368.97 L329.43,368.50 L329.43,368.04 M329.45,363.04 L329.45,362.58 L329.46,362.11 L329.46,361.65 L329.46,361.18 L329.46,360.72 L329.47,360.25 L329.47,359.79 L329.47,359.32 L329.47,358.86 L329.48,358.39 L329.48,357.93 L329.48,357.46 L329.49,357.00 L329.49,356.53 L329.49,356.07 L329.50,355.61 L329.50,355.14 L329.51,354.68 L329.51,354.21 L329.52,353.75 L329.53,353.28 L329.53,352.82 L329.54,352.35 L329.55,351.89 L329.56,351.42 L329.57,351.31 M329.71,346.08 L329.73,345.62 L329.74,345.15 L329.76,344.69 L329.77,344.22 L329.79,343.76 L329.80,343.29 L329.81,342.83 L329.82,342.36 L329.84,341.90 L329.85,341.43 L329.86,340.97 L329.87,340.50 L329.89,340.04 L329.90,339.57 L329.92,339.11 L329.94,338.64 L329.95,338.18 L329.98,337.72 L330.00,337.25 L330.03,336.75 L330.08,336.18 L330.11,335.73 L330.16,335.27 L330.21,334.81 M331.11,336.20 L331.16,336.76 L331.20,337.26 L331.23,337.73 L331.26,338.19 L331.29,338.65 L331.32,339.12 L331.34,339.58 L331.36,340.05 L331.38,340.51 L331.40,340.98 L331.42,341.44 L331.44,341.91 L331.46,342.37 L331.48,342.84 L331.50,343.30 L331.52,343.76 L331.54,344.23 L331.57,344.69 L331.59,345.16 L331.61,345.62 L331.63,346.09 L331.65,346.55 L331.67,347.01 L331.69,347.48 L331.70,347.59 M331.91,352.82 L331.93,353.28 L331.95,353.75 L331.96,354.21 L331.98,354.68 L332.00,355.14 L332.01,355.61 L332.03,356.07 L332.04,356.54 L332.05,357.00 L332.06,357.46 L332.07,357.93 L332.08,358.39 L332.09,358.86 L332.10,359.32 L332.11,359.79 L332.12,360.25 L332.14,360.72 L332.15,361.18 L332.16,361.65 L332.17,362.11 L332.18,362.58 L332.19,363.04 L332.21,363.51 L332.22,363.97 L332.23,364.20 M332.55,369.19 L332.60,369.65 L332.65,370.11 L332.71,370.57 L332.76,371.03 L332.81,371.50 L332.87,371.96 L332.92,372.42 L332.97,372.89 L333.01,373.37 L333.06,373.85 L333.11,374.33 L333.16,374.80 L333.23,375.26 L333.31,375.69 L333.45,376.20 L333.74,376.66 L334.07,377.00 L334.43,377.34 L334.78,377.69 L335.08,378.05 L335.28,378.33 M337.71,382.02 L337.98,382.41 L338.25,382.80 L338.52,383.18 L338.79,383.57 L339.04,383.96 L339.28,384.36 L339.48,384.77 L339.65,385.19 L339.81,385.61 L339.95,386.05 L340.08,386.49 L340.20,386.94 L340.32,387.39 L340.43,387.85 L340.54,388.31 L340.64,388.77 L340.74,389.23 L340.84,389.69 L340.94,390.14 L341.04,390.59 L341.13,391.05 L341.22,391.50 L341.31,391.96 L341.40,392.41 L341.49,392.87 M342.35,397.80 L342.43,398.25 L342.51,398.71 L342.59,399.17 L342.68,399.63 L342.76,400.08 L342.84,400.54 L342.93,401.00 L343.01,401.46 L343.09,401.91 L343.18,402.37 L343.26,402.83 L343.34,403.29 L343.42,403.74 L343.51,404.20 L343.59,404.66 L343.67,405.12 L343.75,405.57 L343.83,406.03 L343.91,406.49 L344.00,406.95 L344.08,407.40 L344.16,407.86 L344.24,408.32 L344.32,408.78 L344.40,409.23 L344.42,409.35 M345.30,414.50 L345.38,414.96 L345.45,415.42 L345.53,415.88 L345.61,416.34 L345.68,416.79 L345.76,417.25 L345.84,417.71 L345.91,418.17 L345.99,418.63 L346.06,419.09 L346.14,419.55 L346.22,420.00 L346.29,420.46 L346.37,420.92 L346.44,421.38 L346.52,421.84 L346.59,422.30 L346.67,422.76 L346.75,423.21 L346.82,423.67 L346.90,424.13 L346.97,424.59 L347.05,425.05 L347.12,425.51 L347.18,425.85 M347.98,430.90 L348.05,431.36 L348.12,431.82 L348.20,432.28 L348.27,432.74 L348.34,433.20 L348.42,433.66 L348.49,434.11 L348.57,434.57 L348.64,435.03 L348.72,435.49 L348.80,435.95 L348.87,436.41 L348.95,436.87 L349.03,437.32 L349.11,437.78 L349.19,438.24 L349.27,438.70 L349.35,439.15 L349.43,439.61 L349.51,440.07 L349.60,440.53 L349.68,440.98 L349.76,441.44 L349.85,441.90 L349.93,442.36 M350.87,447.38 L350.95,447.84 L351.04,448.30 L351.12,448.75 L351.21,449.21 L351.29,449.67 L351.38,450.12 L351.46,450.58 L351.54,451.04 L351.63,451.50 L351.71,451.95 L351.79,452.41 L351.87,452.87 L351.95,453.33 L352.03,453.79 L352.11,454.24 L352.19,454.70 L352.27,455.16 L352.35,455.62 L352.43,456.08 L352.51,456.54 L352.58,456.99 L352.66,457.45 L352.74,457.91 L352.83,458.37 L352.89,458.71 M353.83,463.74 L353.92,464.19 L354.01,464.65 L354.10,465.10 L354.20,465.55 L354.30,466.01 L354.39,466.46 L354.49,466.92 L354.59,467.37 L354.69,467.83 L354.79,468.29 L354.89,468.74 L354.99,469.20 L355.09,469.65 L355.19,470.11 L355.30,470.57 L355.40,471.02 L355.51,471.48 L355.62,471.93 L355.73,472.38 L355.84,472.84 L355.95,473.29 L356.07,473.74 L356.19,474.19 L356.31,474.64 L356.40,474.97 M357.96,479.81 L358.12,480.25 L358.30,480.69 L358.48,481.12 L358.66,481.56 L358.85,481.99 L359.04,482.42 L359.24,482.85 L359.44,483.27 L359.65,483.70 L359.86,484.11 L360.08,484.52 L360.30,484.93 L360.53,485.33 L360.76,485.73 L360.99,486.12 L361.23,486.50 L361.48,486.89 L361.74,487.28 L362.01,487.67 L362.29,488.07 L362.57,488.46 L362.87,488.85 L363.17,489.23 L363.49,489.60 L363.73,489.86 M368.12,492.65 L368.57,492.81 L369.03,492.96 L369.49,493.09 L369.95,493.21 L370.41,493.30 L370.86,493.37 L371.31,493.44 L371.76,493.51 L372.22,493.57 L372.68,493.63 L373.14,493.68 L373.61,493.73 L374.08,493.78 L374.54,493.82 L375.01,493.86 L375.48,493.89 L375.94,493.91 L376.41,493.93 L376.88,493.95 L377.34,493.96 L377.80,493.96 L378.27,493.97 L378.73,493.98 L379.19,493.99 L379.66,493.99 L379.89,494.00 M385.12,494.05 L385.59,494.05 L386.05,494.05 L386.52,494.05 L386.98,494.05 L387.10,494.05" stroke="#A020F0"/>
</g>
<rect x="321.5" y="319.75" width="208.96000000000004" height="180.69" fill="none" stroke="#000" stroke-width="0.86"/>
<g transform="translate(329.24,520.04)"><text class="ax" x="-2.50" y="0">0</text></g>
<g transform="translate(377.61,520.04)"><text class="ax" x="-2.50" y="0">5</text></g>
<g transform="translate(425.98,520.04)"><path d="M-2.80,0.00L-2.80,-4.54L-4.28,-4.54L-4.28,-5.08C-3.47,-5.08 -2.75,-5.40 -2.53,-6.33L-1.99,-6.33L-1.99,0.00Z" fill="#000" stroke="none"/><text class="ax" x="0.00" y="0">0</text></g>
<g transform="translate(474.35,520.04)"><path d="M-2.80,0.00L-2.80,-4.54L-4.28,-4.54L-4.28,-5.08C-3.47,-5.08 -2.75,-5.40 -2.53,-6.33L-1.99,-6.33L-1.99,0.00Z" fill="#000" stroke="none"/><text class="ax" x="0.00" y="0">5</text></g>
<g transform="translate(522.72,520.04)"><text class="ax" x="-5.00" y="0">20</text></g>
<g transform="translate(308.60,493.75) rotate(-90)"><text class="ax" x="-6.26" y="0">0.0</text></g>
<g transform="translate(308.60,468.01) rotate(-90)"><text class="ax" x="-6.26" y="0">0.</text><path d="M3.46,0.00L3.46,-4.54L1.97,-4.54L1.97,-5.08C2.78,-5.08 3.50,-5.40 3.73,-6.33L4.27,-6.33L4.27,0.00Z" fill="#000" stroke="none"/></g>
<g transform="translate(308.60,442.27) rotate(-90)"><text class="ax" x="-6.26" y="0">0.2</text></g>
<g transform="translate(308.60,416.53) rotate(-90)"><text class="ax" x="-6.26" y="0">0.3</text></g>
<g transform="translate(308.60,390.79) rotate(-90)"><text class="ax" x="-6.26" y="0">0.4</text></g>
<g transform="translate(308.60,365.05) rotate(-90)"><text class="ax" x="-6.26" y="0">0.5</text></g>
<g transform="translate(308.60,339.31) rotate(-90)"><text class="ax" x="-6.26" y="0">0.6</text></g>
<path d="M329.24,500.44v5.8 M377.61,500.44v5.8 M425.98,500.44v5.8 M474.35,500.44v5.8 M522.72,500.44v5.8 M321.5,493.75h-5.8 M321.5,468.01h-5.8 M321.5,442.27h-5.8 M321.5,416.53h-5.8 M321.5,390.79h-5.8 M321.5,365.05h-5.8 M321.5,339.31h-5.8" stroke="#000" stroke-width="0.86" fill="none"/>
<text class="ax" x="425.98" y="540.10" text-anchor="middle">T</text>
<text class="tt" x="425.98" y="302" text-anchor="middle">Bathtub</text>
<rect x="484.62" y="319.75" width="45.84" height="51.98" fill="#fff" stroke="#000" stroke-width="0.86"/>
<line x1="492.02" y1="330.33" x2="509.22" y2="330.33" stroke="#000000" stroke-width="0.95"/>
<text class="lg" x="517.07" y="333.73" style="fill:#000000">T</text>
<path d="M524.53,335.03L524.53,331.60L523.40,331.60L523.40,331.19C524.02,331.19 524.56,330.95 524.73,330.25L525.14,330.25L525.14,335.03Z" fill="#000000" stroke="none"/>
<path d="M517.66,325.13 c0.45,-1.4 1.3,-1.4 1.9,-0.6 s1.45,0.8 1.9,-0.6" fill="none" stroke="#000000" stroke-width="0.8"/>
<line x1="492.02" y1="340.70" x2="509.22" y2="340.70" stroke="#FF0000" stroke-width="0.95" stroke-dasharray="3.43 3.43"/>
<text class="lg" x="517.07" y="344.03" style="fill:#FF0000">T</text>
<text class="sub" x="522.92" y="345.33" style="fill:#FF0000">2</text>
<path d="M517.66,335.43 c0.45,-1.4 1.3,-1.4 1.9,-0.6 s1.45,0.8 1.9,-0.6" fill="none" stroke="#FF0000" stroke-width="0.8"/>
<line x1="492.02" y1="351.07" x2="509.22" y2="351.07" stroke="#0000FF" stroke-width="0.95" stroke-dasharray="1.71 1.71 5.14 1.71"/>
<text class="lg" x="517.07" y="354.33" style="fill:#0000FF">T</text>
<text class="sub" x="522.92" y="355.63" style="fill:#0000FF">3</text>
<path d="M517.66,345.73 c0.45,-1.4 1.3,-1.4 1.9,-0.6 s1.45,0.8 1.9,-0.6" fill="none" stroke="#0000FF" stroke-width="0.8"/>
<line x1="492.02" y1="361.44" x2="509.22" y2="361.44" stroke="#A020F0" stroke-width="0.95" stroke-dasharray="6.00 2.57"/>
<text class="lg" x="517.07" y="364.63" style="fill:#A020F0">T</text>
<text class="sub" x="522.92" y="365.93" style="fill:#A020F0">4</text>
<path d="M517.66,356.03 c0.45,-1.4 1.3,-1.4 1.9,-0.6 s1.45,0.8 1.9,-0.6" fill="none" stroke="#A020F0" stroke-width="0.8"/>
</g>
</svg></body></html>
